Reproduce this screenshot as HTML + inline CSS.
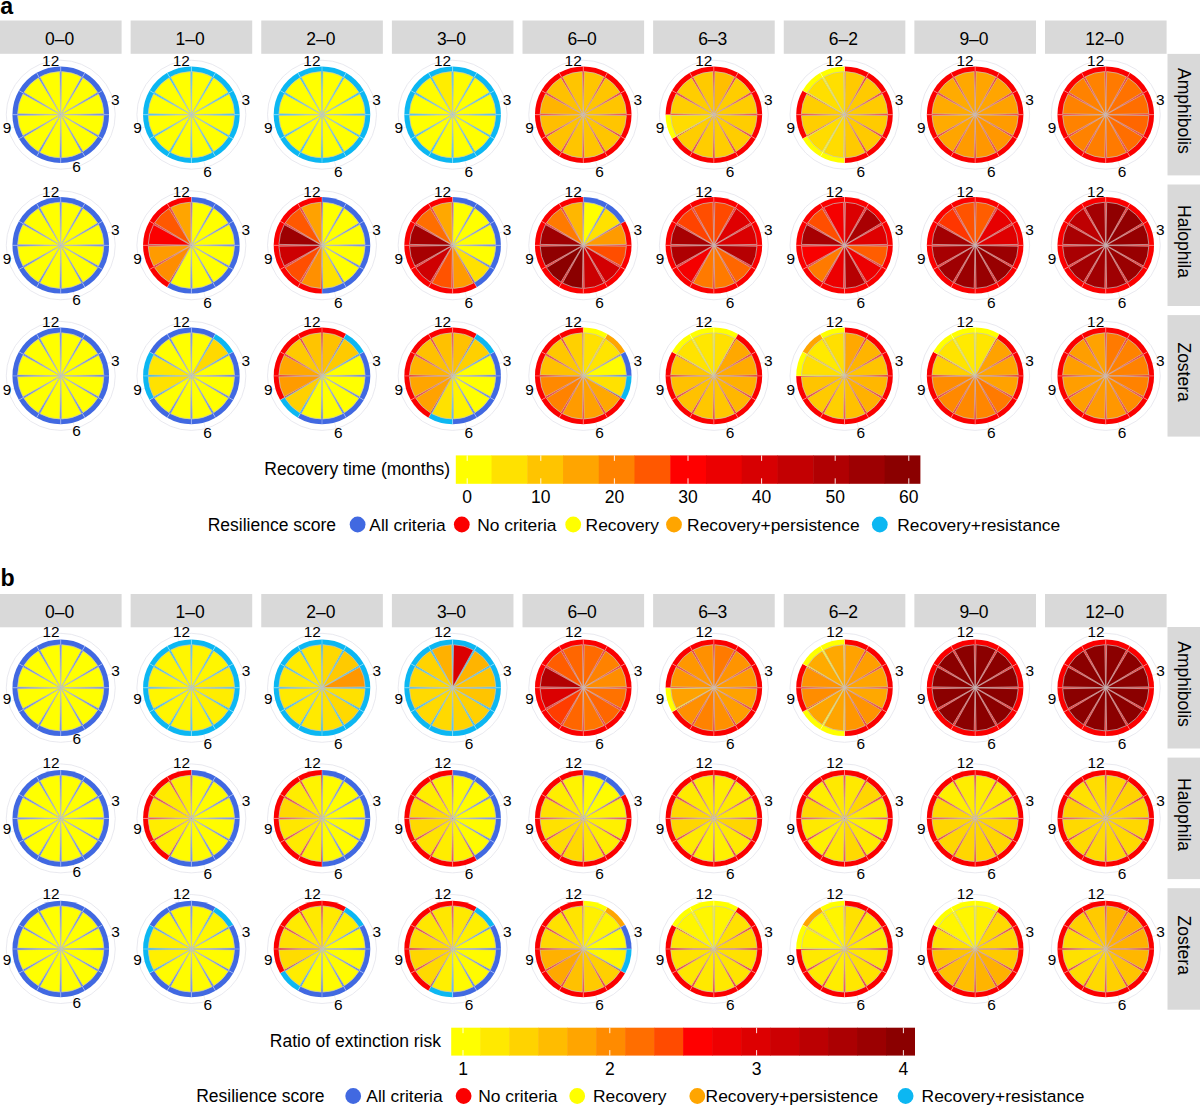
<!DOCTYPE html>
<html lang="en"><head><meta charset="utf-8"><title>Figure</title>
<style>html,body{margin:0;padding:0;background:#fff}svg{display:block}text{fill:#000;font-family:"Liberation Sans",Arial,Helvetica,sans-serif}</style></head><body>
<svg width="1200" height="1106" viewBox="0 0 1200 1106">
<rect width="1200" height="1106" fill="#fff"/>
<text x="0.2" y="13.6" font-size="23.2" font-weight="bold" >a</text>
<text x="0.6" y="585.8" font-size="23.2" font-weight="bold" >b</text>
<rect x="0.00" y="20.50" width="121.6" height="33.3" fill="#D9D9D9"/>
<text x="59.60" y="44.70" text-anchor="middle" font-size="17.5" >0–0</text>
<rect x="130.62" y="20.50" width="121.6" height="33.3" fill="#D9D9D9"/>
<text x="190.22" y="44.70" text-anchor="middle" font-size="17.5" >1–0</text>
<rect x="261.25" y="20.50" width="121.6" height="33.3" fill="#D9D9D9"/>
<text x="320.85" y="44.70" text-anchor="middle" font-size="17.5" >2–0</text>
<rect x="391.88" y="20.50" width="121.6" height="33.3" fill="#D9D9D9"/>
<text x="451.48" y="44.70" text-anchor="middle" font-size="17.5" >3–0</text>
<rect x="522.50" y="20.50" width="121.6" height="33.3" fill="#D9D9D9"/>
<text x="582.10" y="44.70" text-anchor="middle" font-size="17.5" >6–0</text>
<rect x="653.12" y="20.50" width="121.6" height="33.3" fill="#D9D9D9"/>
<text x="712.73" y="44.70" text-anchor="middle" font-size="17.5" >6–3</text>
<rect x="783.75" y="20.50" width="121.6" height="33.3" fill="#D9D9D9"/>
<text x="843.35" y="44.70" text-anchor="middle" font-size="17.5" >6–2</text>
<rect x="914.38" y="20.50" width="121.6" height="33.3" fill="#D9D9D9"/>
<text x="973.98" y="44.70" text-anchor="middle" font-size="17.5" >9–0</text>
<rect x="1045.00" y="20.50" width="121.6" height="33.3" fill="#D9D9D9"/>
<text x="1104.60" y="44.70" text-anchor="middle" font-size="17.5" >12–0</text>
<rect x="1167.5" y="53.90" width="32.5" height="121.5" fill="#D9D9D9"/>
<text transform="translate(1177.6 110.90) rotate(90)" text-anchor="middle" font-size="17.5" >Amphibolis</text>
<circle cx="60.75" cy="114.70" r="54.5" fill="none" stroke="#E2E2EA" stroke-width="0.75"/>
<path d="M107.40 102.20L113.39 100.59M73.25 161.35L74.86 167.34M14.10 127.20L8.11 128.81M48.25 68.05L46.64 62.06" stroke="#E6E6EC" stroke-width="0.7" fill="none"/>
<path d="M60.75 114.70L60.75 66.40A48.3 48.3 0 0 1 84.90 72.87Z" fill="#4169E1"/>
<path d="M60.75 114.70L84.90 72.87A48.3 48.3 0 0 1 102.58 90.55Z" fill="#4169E1"/>
<path d="M60.75 114.70L102.58 90.55A48.3 48.3 0 0 1 109.05 114.70Z" fill="#4169E1"/>
<path d="M60.75 114.70L109.05 114.70A48.3 48.3 0 0 1 102.58 138.85Z" fill="#4169E1"/>
<path d="M60.75 114.70L102.58 138.85A48.3 48.3 0 0 1 84.90 156.53Z" fill="#4169E1"/>
<path d="M60.75 114.70L84.90 156.53A48.3 48.3 0 0 1 60.75 163.00Z" fill="#4169E1"/>
<path d="M60.75 114.70L60.75 163.00A48.3 48.3 0 0 1 36.60 156.53Z" fill="#4169E1"/>
<path d="M60.75 114.70L36.60 156.53A48.3 48.3 0 0 1 18.92 138.85Z" fill="#4169E1"/>
<path d="M60.75 114.70L18.92 138.85A48.3 48.3 0 0 1 12.45 114.70Z" fill="#4169E1"/>
<path d="M60.75 114.70L12.45 114.70A48.3 48.3 0 0 1 18.92 90.55Z" fill="#4169E1"/>
<path d="M60.75 114.70L18.92 90.55A48.3 48.3 0 0 1 36.60 72.87Z" fill="#4169E1"/>
<path d="M60.75 114.70L36.60 72.87A48.3 48.3 0 0 1 60.75 66.40Z" fill="#4169E1"/>
<path d="M60.75 72.10L60.75 66.40M82.05 77.81L84.90 72.87M97.64 93.40L102.58 90.55M103.35 114.70L109.05 114.70M97.64 136.00L102.58 138.85M82.05 151.59L84.90 156.53M60.75 157.30L60.75 163.00M39.45 151.59L36.60 156.53M23.86 136.00L18.92 138.85M18.15 114.70L12.45 114.70M23.86 93.40L18.92 90.55M39.45 77.81L36.60 72.87" stroke="#FFFFFF" stroke-opacity="0.5" stroke-width="0.7" fill="none"/>
<path d="M60.91 114.12L61.65 71.61A43.1 43.1 0 0 1 81.51 76.93Z" fill="#FFFF00" stroke="#C4C4C4" stroke-width="0.7" stroke-linejoin="round"/>
<path d="M61.17 114.28L83.08 77.83A43.1 43.1 0 0 1 97.62 92.37Z" fill="#FFFF00" stroke="#C4C4C4" stroke-width="0.7" stroke-linejoin="round"/>
<path d="M61.33 114.54L98.52 93.94A43.1 43.1 0 0 1 103.84 113.80Z" fill="#FFFF00" stroke="#C4C4C4" stroke-width="0.7" stroke-linejoin="round"/>
<path d="M61.33 114.86L103.84 115.60A43.1 43.1 0 0 1 98.52 135.46Z" fill="#FFFF00" stroke="#C4C4C4" stroke-width="0.7" stroke-linejoin="round"/>
<path d="M61.17 115.12L97.62 137.03A43.1 43.1 0 0 1 83.08 151.57Z" fill="#FFFF00" stroke="#C4C4C4" stroke-width="0.7" stroke-linejoin="round"/>
<path d="M60.91 115.28L81.51 152.47A43.1 43.1 0 0 1 61.65 157.79Z" fill="#FFFF00" stroke="#C4C4C4" stroke-width="0.7" stroke-linejoin="round"/>
<path d="M60.59 115.28L59.85 157.79A43.1 43.1 0 0 1 39.99 152.47Z" fill="#FFFF00" stroke="#C4C4C4" stroke-width="0.7" stroke-linejoin="round"/>
<path d="M60.33 115.12L38.42 151.57A43.1 43.1 0 0 1 23.88 137.03Z" fill="#FFFF00" stroke="#C4C4C4" stroke-width="0.7" stroke-linejoin="round"/>
<path d="M60.17 114.86L22.98 135.46A43.1 43.1 0 0 1 17.66 115.60Z" fill="#FFFF00" stroke="#C4C4C4" stroke-width="0.7" stroke-linejoin="round"/>
<path d="M60.17 114.54L17.66 113.80A43.1 43.1 0 0 1 22.98 93.94Z" fill="#FFFF00" stroke="#C4C4C4" stroke-width="0.7" stroke-linejoin="round"/>
<path d="M60.33 114.28L23.88 92.37A43.1 43.1 0 0 1 38.42 77.83Z" fill="#FFFF00" stroke="#C4C4C4" stroke-width="0.7" stroke-linejoin="round"/>
<path d="M60.59 114.12L39.99 76.93A43.1 43.1 0 0 1 59.85 71.61Z" fill="#FFFF00" stroke="#C4C4C4" stroke-width="0.7" stroke-linejoin="round"/>
<text x="50.65" y="66.00" text-anchor="middle" font-size="15.4" >12</text>
<text x="115.25" y="104.50" text-anchor="middle" font-size="15.4" >3</text>
<text x="76.65" y="172.00" text-anchor="middle" font-size="15.4" >6</text>
<text x="6.95" y="133.40" text-anchor="middle" font-size="15.4" >9</text>
<circle cx="191.38" cy="114.70" r="54.5" fill="none" stroke="#E2E2EA" stroke-width="0.75"/>
<path d="M238.03 102.20L244.02 100.59M203.88 161.35L205.48 167.34M144.72 127.20L138.73 128.81M178.87 68.05L177.27 62.06" stroke="#E6E6EC" stroke-width="0.7" fill="none"/>
<path d="M191.38 114.70L191.38 66.40A48.3 48.3 0 0 1 215.53 72.87Z" fill="#0CB7F2"/>
<path d="M191.38 114.70L215.53 72.87A48.3 48.3 0 0 1 233.20 90.55Z" fill="#0CB7F2"/>
<path d="M191.38 114.70L233.20 90.55A48.3 48.3 0 0 1 239.68 114.70Z" fill="#0CB7F2"/>
<path d="M191.38 114.70L239.68 114.70A48.3 48.3 0 0 1 233.20 138.85Z" fill="#0CB7F2"/>
<path d="M191.38 114.70L233.20 138.85A48.3 48.3 0 0 1 215.53 156.53Z" fill="#0CB7F2"/>
<path d="M191.38 114.70L215.53 156.53A48.3 48.3 0 0 1 191.38 163.00Z" fill="#0CB7F2"/>
<path d="M191.38 114.70L191.38 163.00A48.3 48.3 0 0 1 167.22 156.53Z" fill="#0CB7F2"/>
<path d="M191.38 114.70L167.22 156.53A48.3 48.3 0 0 1 149.55 138.85Z" fill="#0CB7F2"/>
<path d="M191.38 114.70L149.55 138.85A48.3 48.3 0 0 1 143.07 114.70Z" fill="#0CB7F2"/>
<path d="M191.38 114.70L143.07 114.70A48.3 48.3 0 0 1 149.55 90.55Z" fill="#0CB7F2"/>
<path d="M191.38 114.70L149.55 90.55A48.3 48.3 0 0 1 167.22 72.87Z" fill="#0CB7F2"/>
<path d="M191.38 114.70L167.22 72.87A48.3 48.3 0 0 1 191.38 66.40Z" fill="#0CB7F2"/>
<path d="M191.38 72.10L191.38 66.40M212.68 77.81L215.53 72.87M228.27 93.40L233.20 90.55M233.97 114.70L239.68 114.70M228.27 136.00L233.20 138.85M212.68 151.59L215.53 156.53M191.38 157.30L191.38 163.00M170.07 151.59L167.22 156.53M154.48 136.00L149.55 138.85M148.78 114.70L143.07 114.70M154.48 93.40L149.55 90.55M170.07 77.81L167.22 72.87" stroke="#FFFFFF" stroke-opacity="0.5" stroke-width="0.7" fill="none"/>
<path d="M191.53 114.12L192.28 71.61A43.1 43.1 0 0 1 212.14 76.93Z" fill="#FFFF00" stroke="#C4C4C4" stroke-width="0.7" stroke-linejoin="round"/>
<path d="M191.80 114.28L213.70 77.83A43.1 43.1 0 0 1 228.24 92.37Z" fill="#FFFF00" stroke="#C4C4C4" stroke-width="0.7" stroke-linejoin="round"/>
<path d="M191.95 114.54L229.14 93.94A43.1 43.1 0 0 1 234.47 113.80Z" fill="#FFFF00" stroke="#C4C4C4" stroke-width="0.7" stroke-linejoin="round"/>
<path d="M191.95 114.86L234.47 115.60A43.1 43.1 0 0 1 229.14 135.46Z" fill="#FFFF00" stroke="#C4C4C4" stroke-width="0.7" stroke-linejoin="round"/>
<path d="M191.80 115.12L228.24 137.03A43.1 43.1 0 0 1 213.70 151.57Z" fill="#FFFF00" stroke="#C4C4C4" stroke-width="0.7" stroke-linejoin="round"/>
<path d="M191.53 115.28L212.14 152.47A43.1 43.1 0 0 1 192.28 157.79Z" fill="#FFFF00" stroke="#C4C4C4" stroke-width="0.7" stroke-linejoin="round"/>
<path d="M191.22 115.28L190.47 157.79A43.1 43.1 0 0 1 170.61 152.47Z" fill="#FFFF00" stroke="#C4C4C4" stroke-width="0.7" stroke-linejoin="round"/>
<path d="M190.95 115.12L169.05 151.57A43.1 43.1 0 0 1 154.51 137.03Z" fill="#FFFF00" stroke="#C4C4C4" stroke-width="0.7" stroke-linejoin="round"/>
<path d="M190.80 114.86L153.61 135.46A43.1 43.1 0 0 1 148.28 115.60Z" fill="#FFFF00" stroke="#C4C4C4" stroke-width="0.7" stroke-linejoin="round"/>
<path d="M190.80 114.54L148.28 113.80A43.1 43.1 0 0 1 153.61 93.94Z" fill="#FFFF00" stroke="#C4C4C4" stroke-width="0.7" stroke-linejoin="round"/>
<path d="M190.95 114.28L154.51 92.37A43.1 43.1 0 0 1 169.05 77.83Z" fill="#FFFF00" stroke="#C4C4C4" stroke-width="0.7" stroke-linejoin="round"/>
<path d="M191.22 114.12L170.61 76.93A43.1 43.1 0 0 1 190.47 71.61Z" fill="#FFFF00" stroke="#C4C4C4" stroke-width="0.7" stroke-linejoin="round"/>
<text x="181.28" y="66.00" text-anchor="middle" font-size="15.4" >12</text>
<text x="245.88" y="104.50" text-anchor="middle" font-size="15.4" >3</text>
<text x="207.57" y="177.00" text-anchor="middle" font-size="15.4" >6</text>
<text x="137.57" y="133.40" text-anchor="middle" font-size="15.4" >9</text>
<circle cx="322.00" cy="114.70" r="54.5" fill="none" stroke="#E2E2EA" stroke-width="0.75"/>
<path d="M368.65 102.20L374.64 100.59M334.50 161.35L336.11 167.34M275.35 127.20L269.36 128.81M309.50 68.05L307.89 62.06" stroke="#E6E6EC" stroke-width="0.7" fill="none"/>
<path d="M322.00 114.70L322.00 66.40A48.3 48.3 0 0 1 346.15 72.87Z" fill="#0CB7F2"/>
<path d="M322.00 114.70L346.15 72.87A48.3 48.3 0 0 1 363.83 90.55Z" fill="#0CB7F2"/>
<path d="M322.00 114.70L363.83 90.55A48.3 48.3 0 0 1 370.30 114.70Z" fill="#0CB7F2"/>
<path d="M322.00 114.70L370.30 114.70A48.3 48.3 0 0 1 363.83 138.85Z" fill="#0CB7F2"/>
<path d="M322.00 114.70L363.83 138.85A48.3 48.3 0 0 1 346.15 156.53Z" fill="#0CB7F2"/>
<path d="M322.00 114.70L346.15 156.53A48.3 48.3 0 0 1 322.00 163.00Z" fill="#0CB7F2"/>
<path d="M322.00 114.70L322.00 163.00A48.3 48.3 0 0 1 297.85 156.53Z" fill="#0CB7F2"/>
<path d="M322.00 114.70L297.85 156.53A48.3 48.3 0 0 1 280.17 138.85Z" fill="#0CB7F2"/>
<path d="M322.00 114.70L280.17 138.85A48.3 48.3 0 0 1 273.70 114.70Z" fill="#0CB7F2"/>
<path d="M322.00 114.70L273.70 114.70A48.3 48.3 0 0 1 280.17 90.55Z" fill="#0CB7F2"/>
<path d="M322.00 114.70L280.17 90.55A48.3 48.3 0 0 1 297.85 72.87Z" fill="#0CB7F2"/>
<path d="M322.00 114.70L297.85 72.87A48.3 48.3 0 0 1 322.00 66.40Z" fill="#0CB7F2"/>
<path d="M322.00 72.10L322.00 66.40M343.30 77.81L346.15 72.87M358.89 93.40L363.83 90.55M364.60 114.70L370.30 114.70M358.89 136.00L363.83 138.85M343.30 151.59L346.15 156.53M322.00 157.30L322.00 163.00M300.70 151.59L297.85 156.53M285.11 136.00L280.17 138.85M279.40 114.70L273.70 114.70M285.11 93.40L280.17 90.55M300.70 77.81L297.85 72.87" stroke="#FFFFFF" stroke-opacity="0.5" stroke-width="0.7" fill="none"/>
<path d="M322.16 114.12L322.90 71.61A43.1 43.1 0 0 1 342.76 76.93Z" fill="#FFFF00" stroke="#C4C4C4" stroke-width="0.7" stroke-linejoin="round"/>
<path d="M322.42 114.28L344.33 77.83A43.1 43.1 0 0 1 358.87 92.37Z" fill="#FFFF00" stroke="#C4C4C4" stroke-width="0.7" stroke-linejoin="round"/>
<path d="M322.58 114.54L359.77 93.94A43.1 43.1 0 0 1 365.09 113.80Z" fill="#FFFF00" stroke="#C4C4C4" stroke-width="0.7" stroke-linejoin="round"/>
<path d="M322.58 114.86L365.09 115.60A43.1 43.1 0 0 1 359.77 135.46Z" fill="#FFFF00" stroke="#C4C4C4" stroke-width="0.7" stroke-linejoin="round"/>
<path d="M322.42 115.12L358.87 137.03A43.1 43.1 0 0 1 344.33 151.57Z" fill="#FFFF00" stroke="#C4C4C4" stroke-width="0.7" stroke-linejoin="round"/>
<path d="M322.16 115.28L342.76 152.47A43.1 43.1 0 0 1 322.90 157.79Z" fill="#FFFF00" stroke="#C4C4C4" stroke-width="0.7" stroke-linejoin="round"/>
<path d="M321.84 115.28L321.10 157.79A43.1 43.1 0 0 1 301.24 152.47Z" fill="#FFFF00" stroke="#C4C4C4" stroke-width="0.7" stroke-linejoin="round"/>
<path d="M321.58 115.12L299.67 151.57A43.1 43.1 0 0 1 285.13 137.03Z" fill="#FFFF00" stroke="#C4C4C4" stroke-width="0.7" stroke-linejoin="round"/>
<path d="M321.42 114.86L284.23 135.46A43.1 43.1 0 0 1 278.91 115.60Z" fill="#FFFF00" stroke="#C4C4C4" stroke-width="0.7" stroke-linejoin="round"/>
<path d="M321.42 114.54L278.91 113.80A43.1 43.1 0 0 1 284.23 93.94Z" fill="#FFFF00" stroke="#C4C4C4" stroke-width="0.7" stroke-linejoin="round"/>
<path d="M321.58 114.28L285.13 92.37A43.1 43.1 0 0 1 299.67 77.83Z" fill="#FFFF00" stroke="#C4C4C4" stroke-width="0.7" stroke-linejoin="round"/>
<path d="M321.84 114.12L301.24 76.93A43.1 43.1 0 0 1 321.10 71.61Z" fill="#FFFF00" stroke="#C4C4C4" stroke-width="0.7" stroke-linejoin="round"/>
<text x="311.90" y="66.00" text-anchor="middle" font-size="15.4" >12</text>
<text x="376.50" y="104.50" text-anchor="middle" font-size="15.4" >3</text>
<text x="338.20" y="177.00" text-anchor="middle" font-size="15.4" >6</text>
<text x="268.20" y="133.40" text-anchor="middle" font-size="15.4" >9</text>
<circle cx="452.62" cy="114.70" r="54.5" fill="none" stroke="#E2E2EA" stroke-width="0.75"/>
<path d="M499.28 102.20L505.27 100.59M465.13 161.35L466.73 167.34M405.97 127.20L399.98 128.81M440.12 68.05L438.52 62.06" stroke="#E6E6EC" stroke-width="0.7" fill="none"/>
<path d="M452.62 114.70L452.62 66.40A48.3 48.3 0 0 1 476.77 72.87Z" fill="#0CB7F2"/>
<path d="M452.62 114.70L476.77 72.87A48.3 48.3 0 0 1 494.45 90.55Z" fill="#0CB7F2"/>
<path d="M452.62 114.70L494.45 90.55A48.3 48.3 0 0 1 500.93 114.70Z" fill="#0CB7F2"/>
<path d="M452.62 114.70L500.93 114.70A48.3 48.3 0 0 1 494.45 138.85Z" fill="#0CB7F2"/>
<path d="M452.62 114.70L494.45 138.85A48.3 48.3 0 0 1 476.77 156.53Z" fill="#0CB7F2"/>
<path d="M452.62 114.70L476.77 156.53A48.3 48.3 0 0 1 452.62 163.00Z" fill="#0CB7F2"/>
<path d="M452.62 114.70L452.62 163.00A48.3 48.3 0 0 1 428.48 156.53Z" fill="#0CB7F2"/>
<path d="M452.62 114.70L428.48 156.53A48.3 48.3 0 0 1 410.80 138.85Z" fill="#0CB7F2"/>
<path d="M452.62 114.70L410.80 138.85A48.3 48.3 0 0 1 404.32 114.70Z" fill="#0CB7F2"/>
<path d="M452.62 114.70L404.32 114.70A48.3 48.3 0 0 1 410.80 90.55Z" fill="#0CB7F2"/>
<path d="M452.62 114.70L410.80 90.55A48.3 48.3 0 0 1 428.47 72.87Z" fill="#0CB7F2"/>
<path d="M452.62 114.70L428.47 72.87A48.3 48.3 0 0 1 452.62 66.40Z" fill="#0CB7F2"/>
<path d="M452.62 72.10L452.62 66.40M473.93 77.81L476.77 72.87M489.52 93.40L494.45 90.55M495.23 114.70L500.93 114.70M489.52 136.00L494.45 138.85M473.93 151.59L476.77 156.53M452.62 157.30L452.62 163.00M431.32 151.59L428.48 156.53M415.73 136.00L410.80 138.85M410.02 114.70L404.32 114.70M415.73 93.40L410.80 90.55M431.32 77.81L428.47 72.87" stroke="#FFFFFF" stroke-opacity="0.5" stroke-width="0.7" fill="none"/>
<path d="M452.78 114.12L453.53 71.61A43.1 43.1 0 0 1 473.39 76.93Z" fill="#FFFC00" stroke="#C4C4C4" stroke-width="0.7" stroke-linejoin="round"/>
<path d="M453.05 114.28L474.95 77.83A43.1 43.1 0 0 1 489.49 92.37Z" fill="#FFFF00" stroke="#C4C4C4" stroke-width="0.7" stroke-linejoin="round"/>
<path d="M453.20 114.54L490.39 93.94A43.1 43.1 0 0 1 495.72 113.80Z" fill="#FFFF00" stroke="#C4C4C4" stroke-width="0.7" stroke-linejoin="round"/>
<path d="M453.20 114.86L495.72 115.60A43.1 43.1 0 0 1 490.39 135.46Z" fill="#FFFF00" stroke="#C4C4C4" stroke-width="0.7" stroke-linejoin="round"/>
<path d="M453.05 115.12L489.49 137.03A43.1 43.1 0 0 1 474.95 151.57Z" fill="#FFFF00" stroke="#C4C4C4" stroke-width="0.7" stroke-linejoin="round"/>
<path d="M452.78 115.28L473.39 152.47A43.1 43.1 0 0 1 453.53 157.79Z" fill="#FFFF00" stroke="#C4C4C4" stroke-width="0.7" stroke-linejoin="round"/>
<path d="M452.47 115.28L451.72 157.79A43.1 43.1 0 0 1 431.86 152.47Z" fill="#FFFF00" stroke="#C4C4C4" stroke-width="0.7" stroke-linejoin="round"/>
<path d="M452.20 115.12L430.30 151.57A43.1 43.1 0 0 1 415.76 137.03Z" fill="#FFFF00" stroke="#C4C4C4" stroke-width="0.7" stroke-linejoin="round"/>
<path d="M452.05 114.86L414.86 135.46A43.1 43.1 0 0 1 409.53 115.60Z" fill="#FFFF00" stroke="#C4C4C4" stroke-width="0.7" stroke-linejoin="round"/>
<path d="M452.05 114.54L409.53 113.80A43.1 43.1 0 0 1 414.86 93.94Z" fill="#FFFF00" stroke="#C4C4C4" stroke-width="0.7" stroke-linejoin="round"/>
<path d="M452.20 114.28L415.76 92.37A43.1 43.1 0 0 1 430.30 77.83Z" fill="#FFFC00" stroke="#C4C4C4" stroke-width="0.7" stroke-linejoin="round"/>
<path d="M452.47 114.12L431.86 76.93A43.1 43.1 0 0 1 451.72 71.61Z" fill="#FFED00" stroke="#C4C4C4" stroke-width="0.7" stroke-linejoin="round"/>
<text x="442.52" y="66.00" text-anchor="middle" font-size="15.4" >12</text>
<text x="507.12" y="104.50" text-anchor="middle" font-size="15.4" >3</text>
<text x="468.82" y="177.00" text-anchor="middle" font-size="15.4" >6</text>
<text x="398.82" y="133.40" text-anchor="middle" font-size="15.4" >9</text>
<circle cx="583.25" cy="114.70" r="54.5" fill="none" stroke="#E2E2EA" stroke-width="0.75"/>
<path d="M629.90 102.20L635.89 100.59M595.75 161.35L597.36 167.34M536.60 127.20L530.61 128.81M570.75 68.05L569.14 62.06" stroke="#E6E6EC" stroke-width="0.7" fill="none"/>
<path d="M583.25 114.70L583.25 66.40A48.3 48.3 0 0 1 607.40 72.87Z" fill="#FB0000"/>
<path d="M583.25 114.70L607.40 72.87A48.3 48.3 0 0 1 625.08 90.55Z" fill="#FB0000"/>
<path d="M583.25 114.70L625.08 90.55A48.3 48.3 0 0 1 631.55 114.70Z" fill="#FB0000"/>
<path d="M583.25 114.70L631.55 114.70A48.3 48.3 0 0 1 625.08 138.85Z" fill="#FB0000"/>
<path d="M583.25 114.70L625.08 138.85A48.3 48.3 0 0 1 607.40 156.53Z" fill="#FB0000"/>
<path d="M583.25 114.70L607.40 156.53A48.3 48.3 0 0 1 583.25 163.00Z" fill="#FB0000"/>
<path d="M583.25 114.70L583.25 163.00A48.3 48.3 0 0 1 559.10 156.53Z" fill="#FB0000"/>
<path d="M583.25 114.70L559.10 156.53A48.3 48.3 0 0 1 541.42 138.85Z" fill="#FB0000"/>
<path d="M583.25 114.70L541.42 138.85A48.3 48.3 0 0 1 534.95 114.70Z" fill="#FB0000"/>
<path d="M583.25 114.70L534.95 114.70A48.3 48.3 0 0 1 541.42 90.55Z" fill="#FB0000"/>
<path d="M583.25 114.70L541.42 90.55A48.3 48.3 0 0 1 559.10 72.87Z" fill="#FB0000"/>
<path d="M583.25 114.70L559.10 72.87A48.3 48.3 0 0 1 583.25 66.40Z" fill="#FB0000"/>
<path d="M583.25 72.10L583.25 66.40M604.55 77.81L607.40 72.87M620.14 93.40L625.08 90.55M625.85 114.70L631.55 114.70M620.14 136.00L625.08 138.85M604.55 151.59L607.40 156.53M583.25 157.30L583.25 163.00M561.95 151.59L559.10 156.53M546.36 136.00L541.42 138.85M540.65 114.70L534.95 114.70M546.36 93.40L541.42 90.55M561.95 77.81L559.10 72.87" stroke="#FFFFFF" stroke-opacity="0.5" stroke-width="0.7" fill="none"/>
<path d="M583.41 114.12L584.15 71.61A43.1 43.1 0 0 1 604.01 76.93Z" fill="#FFC500" stroke="#C4C4C4" stroke-width="0.7" stroke-linejoin="round"/>
<path d="M583.67 114.28L605.58 77.83A43.1 43.1 0 0 1 620.12 92.37Z" fill="#FFC500" stroke="#C4C4C4" stroke-width="0.7" stroke-linejoin="round"/>
<path d="M583.83 114.54L621.02 93.94A43.1 43.1 0 0 1 626.34 113.80Z" fill="#FFC500" stroke="#C4C4C4" stroke-width="0.7" stroke-linejoin="round"/>
<path d="M583.83 114.86L626.34 115.60A43.1 43.1 0 0 1 621.02 135.46Z" fill="#FFC500" stroke="#C4C4C4" stroke-width="0.7" stroke-linejoin="round"/>
<path d="M583.67 115.12L620.12 137.03A43.1 43.1 0 0 1 605.58 151.57Z" fill="#FFC500" stroke="#C4C4C4" stroke-width="0.7" stroke-linejoin="round"/>
<path d="M583.41 115.28L604.01 152.47A43.1 43.1 0 0 1 584.15 157.79Z" fill="#FFC500" stroke="#C4C4C4" stroke-width="0.7" stroke-linejoin="round"/>
<path d="M583.09 115.28L582.35 157.79A43.1 43.1 0 0 1 562.49 152.47Z" fill="#FFC500" stroke="#C4C4C4" stroke-width="0.7" stroke-linejoin="round"/>
<path d="M582.83 115.12L560.92 151.57A43.1 43.1 0 0 1 546.38 137.03Z" fill="#FFC200" stroke="#C4C4C4" stroke-width="0.7" stroke-linejoin="round"/>
<path d="M582.67 114.86L545.48 135.46A43.1 43.1 0 0 1 540.16 115.60Z" fill="#FFBE00" stroke="#C4C4C4" stroke-width="0.7" stroke-linejoin="round"/>
<path d="M582.67 114.54L540.16 113.80A43.1 43.1 0 0 1 545.48 93.94Z" fill="#FFB400" stroke="#C4C4C4" stroke-width="0.7" stroke-linejoin="round"/>
<path d="M582.83 114.28L546.38 92.37A43.1 43.1 0 0 1 560.92 77.83Z" fill="#FFC100" stroke="#C4C4C4" stroke-width="0.7" stroke-linejoin="round"/>
<path d="M583.09 114.12L562.49 76.93A43.1 43.1 0 0 1 582.35 71.61Z" fill="#FFC500" stroke="#C4C4C4" stroke-width="0.7" stroke-linejoin="round"/>
<text x="573.15" y="66.00" text-anchor="middle" font-size="15.4" >12</text>
<text x="637.75" y="104.50" text-anchor="middle" font-size="15.4" >3</text>
<text x="599.45" y="177.00" text-anchor="middle" font-size="15.4" >6</text>
<text x="529.45" y="133.40" text-anchor="middle" font-size="15.4" >9</text>
<circle cx="713.88" cy="114.70" r="54.5" fill="none" stroke="#E2E2EA" stroke-width="0.75"/>
<path d="M760.53 102.20L766.52 100.59M726.38 161.35L727.98 167.34M667.22 127.20L661.23 128.81M701.37 68.05L699.77 62.06" stroke="#E6E6EC" stroke-width="0.7" fill="none"/>
<path d="M713.88 114.70L713.88 66.40A48.3 48.3 0 0 1 738.02 72.87Z" fill="#FB0000"/>
<path d="M713.88 114.70L738.02 72.87A48.3 48.3 0 0 1 755.70 90.55Z" fill="#FB0000"/>
<path d="M713.88 114.70L755.70 90.55A48.3 48.3 0 0 1 762.17 114.70Z" fill="#FB0000"/>
<path d="M713.88 114.70L762.17 114.70A48.3 48.3 0 0 1 755.70 138.85Z" fill="#FB0000"/>
<path d="M713.88 114.70L755.70 138.85A48.3 48.3 0 0 1 738.02 156.53Z" fill="#FB0000"/>
<path d="M713.88 114.70L738.02 156.53A48.3 48.3 0 0 1 713.88 163.00Z" fill="#FB0000"/>
<path d="M713.88 114.70L713.88 163.00A48.3 48.3 0 0 1 689.73 156.53Z" fill="#FB0000"/>
<path d="M713.88 114.70L689.73 156.53A48.3 48.3 0 0 1 672.05 138.85Z" fill="#FB0000"/>
<path d="M713.88 114.70L672.05 138.85A48.3 48.3 0 0 1 665.58 114.70Z" fill="#FFFF00"/>
<path d="M713.88 114.70L665.58 114.70A48.3 48.3 0 0 1 672.05 90.55Z" fill="#FB0000"/>
<path d="M713.88 114.70L672.05 90.55A48.3 48.3 0 0 1 689.73 72.87Z" fill="#FB0000"/>
<path d="M713.88 114.70L689.73 72.87A48.3 48.3 0 0 1 713.88 66.40Z" fill="#FB0000"/>
<path d="M713.88 72.10L713.88 66.40M735.17 77.81L738.02 72.87M750.77 93.40L755.70 90.55M756.48 114.70L762.17 114.70M750.77 136.00L755.70 138.85M735.17 151.59L738.02 156.53M713.88 157.30L713.88 163.00M692.58 151.59L689.73 156.53M676.98 136.00L672.05 138.85M671.27 114.70L665.58 114.70M676.98 93.40L672.05 90.55M692.57 77.81L689.73 72.87" stroke="#FFFFFF" stroke-opacity="0.5" stroke-width="0.7" fill="none"/>
<path d="M714.03 114.12L714.78 71.61A43.1 43.1 0 0 1 734.64 76.93Z" fill="#FFBE00" stroke="#C4C4C4" stroke-width="0.7" stroke-linejoin="round"/>
<path d="M714.30 114.28L736.20 77.83A43.1 43.1 0 0 1 750.74 92.37Z" fill="#FFCD00" stroke="#C4C4C4" stroke-width="0.7" stroke-linejoin="round"/>
<path d="M714.45 114.54L751.64 93.94A43.1 43.1 0 0 1 756.97 113.80Z" fill="#FFCD00" stroke="#C4C4C4" stroke-width="0.7" stroke-linejoin="round"/>
<path d="M714.45 114.86L756.97 115.60A43.1 43.1 0 0 1 751.64 135.46Z" fill="#FFCD00" stroke="#C4C4C4" stroke-width="0.7" stroke-linejoin="round"/>
<path d="M714.30 115.12L750.74 137.03A43.1 43.1 0 0 1 736.20 151.57Z" fill="#FFCD00" stroke="#C4C4C4" stroke-width="0.7" stroke-linejoin="round"/>
<path d="M714.03 115.28L734.64 152.47A43.1 43.1 0 0 1 714.78 157.79Z" fill="#FFCD00" stroke="#C4C4C4" stroke-width="0.7" stroke-linejoin="round"/>
<path d="M713.72 115.28L712.97 157.79A43.1 43.1 0 0 1 693.11 152.47Z" fill="#FFCD00" stroke="#C4C4C4" stroke-width="0.7" stroke-linejoin="round"/>
<path d="M713.45 115.12L691.55 151.57A43.1 43.1 0 0 1 677.01 137.03Z" fill="#FFCD00" stroke="#C4C4C4" stroke-width="0.7" stroke-linejoin="round"/>
<path d="M713.30 114.86L676.11 135.46A43.1 43.1 0 0 1 670.78 115.60Z" fill="#FFDC00" stroke="#C4C4C4" stroke-width="0.7" stroke-linejoin="round"/>
<path d="M713.30 114.54L670.78 113.80A43.1 43.1 0 0 1 676.11 93.94Z" fill="#FFCE00" stroke="#C4C4C4" stroke-width="0.7" stroke-linejoin="round"/>
<path d="M713.45 114.28L677.01 92.37A43.1 43.1 0 0 1 691.55 77.83Z" fill="#FFCD00" stroke="#C4C4C4" stroke-width="0.7" stroke-linejoin="round"/>
<path d="M713.72 114.12L693.11 76.93A43.1 43.1 0 0 1 712.97 71.61Z" fill="#FFCA00" stroke="#C4C4C4" stroke-width="0.7" stroke-linejoin="round"/>
<text x="703.77" y="66.00" text-anchor="middle" font-size="15.4" >12</text>
<text x="768.38" y="104.50" text-anchor="middle" font-size="15.4" >3</text>
<text x="730.08" y="177.00" text-anchor="middle" font-size="15.4" >6</text>
<text x="660.08" y="133.40" text-anchor="middle" font-size="15.4" >9</text>
<circle cx="844.50" cy="114.70" r="54.5" fill="none" stroke="#E2E2EA" stroke-width="0.75"/>
<path d="M891.15 102.20L897.14 100.59M857.00 161.35L858.61 167.34M797.85 127.20L791.86 128.81M832.00 68.05L830.39 62.06" stroke="#E6E6EC" stroke-width="0.7" fill="none"/>
<path d="M844.50 114.70L844.50 66.40A48.3 48.3 0 0 1 868.65 72.87Z" fill="#FB0000"/>
<path d="M844.50 114.70L868.65 72.87A48.3 48.3 0 0 1 886.33 90.55Z" fill="#FB0000"/>
<path d="M844.50 114.70L886.33 90.55A48.3 48.3 0 0 1 892.80 114.70Z" fill="#FB0000"/>
<path d="M844.50 114.70L892.80 114.70A48.3 48.3 0 0 1 886.33 138.85Z" fill="#FB0000"/>
<path d="M844.50 114.70L886.33 138.85A48.3 48.3 0 0 1 868.65 156.53Z" fill="#FB0000"/>
<path d="M844.50 114.70L868.65 156.53A48.3 48.3 0 0 1 844.50 163.00Z" fill="#FB0000"/>
<path d="M844.50 114.70L844.50 163.00A48.3 48.3 0 0 1 820.35 156.53Z" fill="#FFFF00"/>
<path d="M844.50 114.70L820.35 156.53A48.3 48.3 0 0 1 802.67 138.85Z" fill="#FFFF00"/>
<path d="M844.50 114.70L802.67 138.85A48.3 48.3 0 0 1 796.20 114.70Z" fill="#FB0000"/>
<path d="M844.50 114.70L796.20 114.70A48.3 48.3 0 0 1 802.67 90.55Z" fill="#FB0000"/>
<path d="M844.50 114.70L802.67 90.55A48.3 48.3 0 0 1 820.35 72.87Z" fill="#FFFF00"/>
<path d="M844.50 114.70L820.35 72.87A48.3 48.3 0 0 1 844.50 66.40Z" fill="#FFFF00"/>
<path d="M844.50 72.10L844.50 66.40M865.80 77.81L868.65 72.87M881.39 93.40L886.33 90.55M887.10 114.70L892.80 114.70M881.39 136.00L886.33 138.85M865.80 151.59L868.65 156.53M844.50 157.30L844.50 163.00M823.20 151.59L820.35 156.53M807.61 136.00L802.67 138.85M801.90 114.70L796.20 114.70M807.61 93.40L802.67 90.55M823.20 77.81L820.35 72.87" stroke="#FFFFFF" stroke-opacity="0.5" stroke-width="0.7" fill="none"/>
<path d="M844.66 114.12L845.40 71.61A43.1 43.1 0 0 1 865.26 76.93Z" fill="#FFCA00" stroke="#C4C4C4" stroke-width="0.7" stroke-linejoin="round"/>
<path d="M844.92 114.28L866.83 77.83A43.1 43.1 0 0 1 881.37 92.37Z" fill="#FFCA00" stroke="#C4C4C4" stroke-width="0.7" stroke-linejoin="round"/>
<path d="M845.08 114.54L882.27 93.94A43.1 43.1 0 0 1 887.59 113.80Z" fill="#FFCB00" stroke="#C4C4C4" stroke-width="0.7" stroke-linejoin="round"/>
<path d="M845.08 114.86L887.59 115.60A43.1 43.1 0 0 1 882.27 135.46Z" fill="#FFCB00" stroke="#C4C4C4" stroke-width="0.7" stroke-linejoin="round"/>
<path d="M844.92 115.12L881.37 137.03A43.1 43.1 0 0 1 866.83 151.57Z" fill="#FFCA00" stroke="#C4C4C4" stroke-width="0.7" stroke-linejoin="round"/>
<path d="M844.66 115.28L865.26 152.47A43.1 43.1 0 0 1 845.40 157.79Z" fill="#FFCA00" stroke="#C4C4C4" stroke-width="0.7" stroke-linejoin="round"/>
<path d="M844.34 115.28L843.60 157.79A43.1 43.1 0 0 1 823.74 152.47Z" fill="#FFDC00" stroke="#C4C4C4" stroke-width="0.7" stroke-linejoin="round"/>
<path d="M844.08 115.12L822.17 151.57A43.1 43.1 0 0 1 807.63 137.03Z" fill="#FFDC00" stroke="#C4C4C4" stroke-width="0.7" stroke-linejoin="round"/>
<path d="M843.92 114.86L806.73 135.46A43.1 43.1 0 0 1 801.41 115.60Z" fill="#FFCE00" stroke="#C4C4C4" stroke-width="0.7" stroke-linejoin="round"/>
<path d="M843.92 114.54L801.41 113.80A43.1 43.1 0 0 1 806.73 93.94Z" fill="#FFCE00" stroke="#C4C4C4" stroke-width="0.7" stroke-linejoin="round"/>
<path d="M844.08 114.28L807.63 92.37A43.1 43.1 0 0 1 822.17 77.83Z" fill="#FFDF00" stroke="#C4C4C4" stroke-width="0.7" stroke-linejoin="round"/>
<path d="M844.34 114.12L823.74 76.93A43.1 43.1 0 0 1 843.60 71.61Z" fill="#FFDF00" stroke="#C4C4C4" stroke-width="0.7" stroke-linejoin="round"/>
<text x="834.40" y="66.00" text-anchor="middle" font-size="15.4" >12</text>
<text x="899.00" y="104.50" text-anchor="middle" font-size="15.4" >3</text>
<text x="860.70" y="177.00" text-anchor="middle" font-size="15.4" >6</text>
<text x="790.70" y="133.40" text-anchor="middle" font-size="15.4" >9</text>
<circle cx="975.12" cy="114.70" r="54.5" fill="none" stroke="#E2E2EA" stroke-width="0.75"/>
<path d="M1021.78 102.20L1027.77 100.59M987.63 161.35L989.23 167.34M928.47 127.20L922.48 128.81M962.62 68.05L961.02 62.06" stroke="#E6E6EC" stroke-width="0.7" fill="none"/>
<path d="M975.12 114.70L975.12 66.40A48.3 48.3 0 0 1 999.27 72.87Z" fill="#FB0000"/>
<path d="M975.12 114.70L999.27 72.87A48.3 48.3 0 0 1 1016.95 90.55Z" fill="#FB0000"/>
<path d="M975.12 114.70L1016.95 90.55A48.3 48.3 0 0 1 1023.42 114.70Z" fill="#FB0000"/>
<path d="M975.12 114.70L1023.42 114.70A48.3 48.3 0 0 1 1016.95 138.85Z" fill="#FB0000"/>
<path d="M975.12 114.70L1016.95 138.85A48.3 48.3 0 0 1 999.27 156.53Z" fill="#FB0000"/>
<path d="M975.12 114.70L999.27 156.53A48.3 48.3 0 0 1 975.12 163.00Z" fill="#FB0000"/>
<path d="M975.12 114.70L975.12 163.00A48.3 48.3 0 0 1 950.98 156.53Z" fill="#FB0000"/>
<path d="M975.12 114.70L950.98 156.53A48.3 48.3 0 0 1 933.30 138.85Z" fill="#FB0000"/>
<path d="M975.12 114.70L933.30 138.85A48.3 48.3 0 0 1 926.83 114.70Z" fill="#FB0000"/>
<path d="M975.12 114.70L926.83 114.70A48.3 48.3 0 0 1 933.30 90.55Z" fill="#FB0000"/>
<path d="M975.12 114.70L933.30 90.55A48.3 48.3 0 0 1 950.98 72.87Z" fill="#FB0000"/>
<path d="M975.12 114.70L950.98 72.87A48.3 48.3 0 0 1 975.12 66.40Z" fill="#FB0000"/>
<path d="M975.12 72.10L975.12 66.40M996.42 77.81L999.27 72.87M1012.02 93.40L1016.95 90.55M1017.73 114.70L1023.42 114.70M1012.02 136.00L1016.95 138.85M996.42 151.59L999.27 156.53M975.12 157.30L975.12 163.00M953.83 151.59L950.98 156.53M938.23 136.00L933.30 138.85M932.52 114.70L926.83 114.70M938.23 93.40L933.30 90.55M953.82 77.81L950.98 72.87" stroke="#FFFFFF" stroke-opacity="0.5" stroke-width="0.7" fill="none"/>
<path d="M975.28 114.12L976.03 71.61A43.1 43.1 0 0 1 995.89 76.93Z" fill="#FFA500" stroke="#C4C4C4" stroke-width="0.7" stroke-linejoin="round"/>
<path d="M975.55 114.28L997.45 77.83A43.1 43.1 0 0 1 1011.99 92.37Z" fill="#FFA500" stroke="#C4C4C4" stroke-width="0.7" stroke-linejoin="round"/>
<path d="M975.70 114.54L1012.89 93.94A43.1 43.1 0 0 1 1018.22 113.80Z" fill="#FFA200" stroke="#C4C4C4" stroke-width="0.7" stroke-linejoin="round"/>
<path d="M975.70 114.86L1018.22 115.60A43.1 43.1 0 0 1 1012.89 135.46Z" fill="#FF9B00" stroke="#C4C4C4" stroke-width="0.7" stroke-linejoin="round"/>
<path d="M975.55 115.12L1011.99 137.03A43.1 43.1 0 0 1 997.45 151.57Z" fill="#FF9700" stroke="#C4C4C4" stroke-width="0.7" stroke-linejoin="round"/>
<path d="M975.28 115.28L995.89 152.47A43.1 43.1 0 0 1 976.03 157.79Z" fill="#FF9700" stroke="#C4C4C4" stroke-width="0.7" stroke-linejoin="round"/>
<path d="M974.97 115.28L974.22 157.79A43.1 43.1 0 0 1 954.36 152.47Z" fill="#FF9B00" stroke="#C4C4C4" stroke-width="0.7" stroke-linejoin="round"/>
<path d="M974.70 115.12L952.80 151.57A43.1 43.1 0 0 1 938.26 137.03Z" fill="#FFA500" stroke="#C4C4C4" stroke-width="0.7" stroke-linejoin="round"/>
<path d="M974.55 114.86L937.36 135.46A43.1 43.1 0 0 1 932.03 115.60Z" fill="#FFAB00" stroke="#C4C4C4" stroke-width="0.7" stroke-linejoin="round"/>
<path d="M974.55 114.54L932.03 113.80A43.1 43.1 0 0 1 937.36 93.94Z" fill="#FFAB00" stroke="#C4C4C4" stroke-width="0.7" stroke-linejoin="round"/>
<path d="M974.70 114.28L938.26 92.37A43.1 43.1 0 0 1 952.80 77.83Z" fill="#FFAB00" stroke="#C4C4C4" stroke-width="0.7" stroke-linejoin="round"/>
<path d="M974.97 114.12L954.36 76.93A43.1 43.1 0 0 1 974.22 71.61Z" fill="#FFA800" stroke="#C4C4C4" stroke-width="0.7" stroke-linejoin="round"/>
<text x="965.02" y="66.00" text-anchor="middle" font-size="15.4" >12</text>
<text x="1029.62" y="104.50" text-anchor="middle" font-size="15.4" >3</text>
<text x="991.33" y="177.00" text-anchor="middle" font-size="15.4" >6</text>
<text x="921.33" y="133.40" text-anchor="middle" font-size="15.4" >9</text>
<circle cx="1105.75" cy="114.70" r="54.5" fill="none" stroke="#E2E2EA" stroke-width="0.75"/>
<path d="M1152.40 102.20L1158.39 100.59M1118.25 161.35L1119.86 167.34M1059.10 127.20L1053.11 128.81M1093.25 68.05L1091.64 62.06" stroke="#E6E6EC" stroke-width="0.7" fill="none"/>
<path d="M1105.75 114.70L1105.75 66.40A48.3 48.3 0 0 1 1129.90 72.87Z" fill="#FB0000"/>
<path d="M1105.75 114.70L1129.90 72.87A48.3 48.3 0 0 1 1147.58 90.55Z" fill="#FB0000"/>
<path d="M1105.75 114.70L1147.58 90.55A48.3 48.3 0 0 1 1154.05 114.70Z" fill="#FB0000"/>
<path d="M1105.75 114.70L1154.05 114.70A48.3 48.3 0 0 1 1147.58 138.85Z" fill="#FB0000"/>
<path d="M1105.75 114.70L1147.58 138.85A48.3 48.3 0 0 1 1129.90 156.53Z" fill="#FB0000"/>
<path d="M1105.75 114.70L1129.90 156.53A48.3 48.3 0 0 1 1105.75 163.00Z" fill="#FB0000"/>
<path d="M1105.75 114.70L1105.75 163.00A48.3 48.3 0 0 1 1081.60 156.53Z" fill="#FB0000"/>
<path d="M1105.75 114.70L1081.60 156.53A48.3 48.3 0 0 1 1063.92 138.85Z" fill="#FB0000"/>
<path d="M1105.75 114.70L1063.92 138.85A48.3 48.3 0 0 1 1057.45 114.70Z" fill="#FB0000"/>
<path d="M1105.75 114.70L1057.45 114.70A48.3 48.3 0 0 1 1063.92 90.55Z" fill="#FB0000"/>
<path d="M1105.75 114.70L1063.92 90.55A48.3 48.3 0 0 1 1081.60 72.87Z" fill="#FB0000"/>
<path d="M1105.75 114.70L1081.60 72.87A48.3 48.3 0 0 1 1105.75 66.40Z" fill="#FB0000"/>
<path d="M1105.75 72.10L1105.75 66.40M1127.05 77.81L1129.90 72.87M1142.64 93.40L1147.58 90.55M1148.35 114.70L1154.05 114.70M1142.64 136.00L1147.58 138.85M1127.05 151.59L1129.90 156.53M1105.75 157.30L1105.75 163.00M1084.45 151.59L1081.60 156.53M1068.86 136.00L1063.92 138.85M1063.15 114.70L1057.45 114.70M1068.86 93.40L1063.92 90.55M1084.45 77.81L1081.60 72.87" stroke="#FFFFFF" stroke-opacity="0.5" stroke-width="0.7" fill="none"/>
<path d="M1105.91 114.12L1106.65 71.61A43.1 43.1 0 0 1 1126.51 76.93Z" fill="#FF7A00" stroke="#C4C4C4" stroke-width="0.7" stroke-linejoin="round"/>
<path d="M1106.17 114.28L1128.08 77.83A43.1 43.1 0 0 1 1142.62 92.37Z" fill="#FF7200" stroke="#C4C4C4" stroke-width="0.7" stroke-linejoin="round"/>
<path d="M1106.33 114.54L1143.52 93.94A43.1 43.1 0 0 1 1148.84 113.80Z" fill="#FF6E00" stroke="#C4C4C4" stroke-width="0.7" stroke-linejoin="round"/>
<path d="M1106.33 114.86L1148.84 115.60A43.1 43.1 0 0 1 1143.52 135.46Z" fill="#FF6600" stroke="#C4C4C4" stroke-width="0.7" stroke-linejoin="round"/>
<path d="M1106.17 115.12L1142.62 137.03A43.1 43.1 0 0 1 1128.08 151.57Z" fill="#FF6E00" stroke="#C4C4C4" stroke-width="0.7" stroke-linejoin="round"/>
<path d="M1105.91 115.28L1126.51 152.47A43.1 43.1 0 0 1 1106.65 157.79Z" fill="#FF7A00" stroke="#C4C4C4" stroke-width="0.7" stroke-linejoin="round"/>
<path d="M1105.59 115.28L1104.85 157.79A43.1 43.1 0 0 1 1084.99 152.47Z" fill="#FF7E00" stroke="#C4C4C4" stroke-width="0.7" stroke-linejoin="round"/>
<path d="M1105.33 115.12L1083.42 151.57A43.1 43.1 0 0 1 1068.88 137.03Z" fill="#FF8200" stroke="#C4C4C4" stroke-width="0.7" stroke-linejoin="round"/>
<path d="M1105.17 114.86L1067.98 135.46A43.1 43.1 0 0 1 1062.66 115.60Z" fill="#FF8200" stroke="#C4C4C4" stroke-width="0.7" stroke-linejoin="round"/>
<path d="M1105.17 114.54L1062.66 113.80A43.1 43.1 0 0 1 1067.98 93.94Z" fill="#FF8200" stroke="#C4C4C4" stroke-width="0.7" stroke-linejoin="round"/>
<path d="M1105.33 114.28L1068.88 92.37A43.1 43.1 0 0 1 1083.42 77.83Z" fill="#FF8200" stroke="#C4C4C4" stroke-width="0.7" stroke-linejoin="round"/>
<path d="M1105.59 114.12L1084.99 76.93A43.1 43.1 0 0 1 1104.85 71.61Z" fill="#FF8200" stroke="#C4C4C4" stroke-width="0.7" stroke-linejoin="round"/>
<text x="1095.65" y="66.00" text-anchor="middle" font-size="15.4" >12</text>
<text x="1160.25" y="104.50" text-anchor="middle" font-size="15.4" >3</text>
<text x="1121.95" y="177.00" text-anchor="middle" font-size="15.4" >6</text>
<text x="1051.95" y="133.40" text-anchor="middle" font-size="15.4" >9</text>
<rect x="1167.5" y="184.50" width="32.5" height="121.5" fill="#D9D9D9"/>
<text transform="translate(1177.6 241.50) rotate(90)" text-anchor="middle" font-size="17.5" >Halophila</text>
<circle cx="60.75" cy="245.30" r="54.5" fill="none" stroke="#E2E2EA" stroke-width="0.75"/>
<path d="M107.40 232.80L113.39 231.19M73.25 291.95L74.86 297.94M14.10 257.80L8.11 259.41M48.25 198.65L46.64 192.66" stroke="#E6E6EC" stroke-width="0.7" fill="none"/>
<path d="M60.75 245.30L60.75 197.00A48.3 48.3 0 0 1 84.90 203.47Z" fill="#4169E1"/>
<path d="M60.75 245.30L84.90 203.47A48.3 48.3 0 0 1 102.58 221.15Z" fill="#4169E1"/>
<path d="M60.75 245.30L102.58 221.15A48.3 48.3 0 0 1 109.05 245.30Z" fill="#4169E1"/>
<path d="M60.75 245.30L109.05 245.30A48.3 48.3 0 0 1 102.58 269.45Z" fill="#4169E1"/>
<path d="M60.75 245.30L102.58 269.45A48.3 48.3 0 0 1 84.90 287.13Z" fill="#4169E1"/>
<path d="M60.75 245.30L84.90 287.13A48.3 48.3 0 0 1 60.75 293.60Z" fill="#4169E1"/>
<path d="M60.75 245.30L60.75 293.60A48.3 48.3 0 0 1 36.60 287.13Z" fill="#4169E1"/>
<path d="M60.75 245.30L36.60 287.13A48.3 48.3 0 0 1 18.92 269.45Z" fill="#4169E1"/>
<path d="M60.75 245.30L18.92 269.45A48.3 48.3 0 0 1 12.45 245.30Z" fill="#4169E1"/>
<path d="M60.75 245.30L12.45 245.30A48.3 48.3 0 0 1 18.92 221.15Z" fill="#4169E1"/>
<path d="M60.75 245.30L18.92 221.15A48.3 48.3 0 0 1 36.60 203.47Z" fill="#4169E1"/>
<path d="M60.75 245.30L36.60 203.47A48.3 48.3 0 0 1 60.75 197.00Z" fill="#4169E1"/>
<path d="M60.75 202.70L60.75 197.00M82.05 208.41L84.90 203.47M97.64 224.00L102.58 221.15M103.35 245.30L109.05 245.30M97.64 266.60L102.58 269.45M82.05 282.19L84.90 287.13M60.75 287.90L60.75 293.60M39.45 282.19L36.60 287.13M23.86 266.60L18.92 269.45M18.15 245.30L12.45 245.30M23.86 224.00L18.92 221.15M39.45 208.41L36.60 203.47" stroke="#FFFFFF" stroke-opacity="0.5" stroke-width="0.7" fill="none"/>
<path d="M60.91 244.72L61.65 202.21A43.1 43.1 0 0 1 81.51 207.53Z" fill="#FFFF00" stroke="#C4C4C4" stroke-width="0.7" stroke-linejoin="round"/>
<path d="M61.17 244.88L83.08 208.43A43.1 43.1 0 0 1 97.62 222.97Z" fill="#FFFF00" stroke="#C4C4C4" stroke-width="0.7" stroke-linejoin="round"/>
<path d="M61.33 245.14L98.52 224.54A43.1 43.1 0 0 1 103.84 244.40Z" fill="#FFFF00" stroke="#C4C4C4" stroke-width="0.7" stroke-linejoin="round"/>
<path d="M61.33 245.46L103.84 246.20A43.1 43.1 0 0 1 98.52 266.06Z" fill="#FFFF00" stroke="#C4C4C4" stroke-width="0.7" stroke-linejoin="round"/>
<path d="M61.17 245.72L97.62 267.63A43.1 43.1 0 0 1 83.08 282.17Z" fill="#FFFF00" stroke="#C4C4C4" stroke-width="0.7" stroke-linejoin="round"/>
<path d="M60.91 245.88L81.51 283.07A43.1 43.1 0 0 1 61.65 288.39Z" fill="#FFFF00" stroke="#C4C4C4" stroke-width="0.7" stroke-linejoin="round"/>
<path d="M60.59 245.88L59.85 288.39A43.1 43.1 0 0 1 39.99 283.07Z" fill="#FFFF00" stroke="#C4C4C4" stroke-width="0.7" stroke-linejoin="round"/>
<path d="M60.33 245.72L38.42 282.17A43.1 43.1 0 0 1 23.88 267.63Z" fill="#FFFF00" stroke="#C4C4C4" stroke-width="0.7" stroke-linejoin="round"/>
<path d="M60.17 245.46L22.98 266.06A43.1 43.1 0 0 1 17.66 246.20Z" fill="#FFFF00" stroke="#C4C4C4" stroke-width="0.7" stroke-linejoin="round"/>
<path d="M60.17 245.14L17.66 244.40A43.1 43.1 0 0 1 22.98 224.54Z" fill="#FFFF00" stroke="#C4C4C4" stroke-width="0.7" stroke-linejoin="round"/>
<path d="M60.33 244.88L23.88 222.97A43.1 43.1 0 0 1 38.42 208.43Z" fill="#FFFF00" stroke="#C4C4C4" stroke-width="0.7" stroke-linejoin="round"/>
<path d="M60.59 244.72L39.99 207.53A43.1 43.1 0 0 1 59.85 202.21Z" fill="#FFFF00" stroke="#C4C4C4" stroke-width="0.7" stroke-linejoin="round"/>
<text x="50.65" y="196.60" text-anchor="middle" font-size="15.4" >12</text>
<text x="115.25" y="235.10" text-anchor="middle" font-size="15.4" >3</text>
<text x="76.65" y="305.30" text-anchor="middle" font-size="15.4" >6</text>
<text x="6.95" y="264.00" text-anchor="middle" font-size="15.4" >9</text>
<circle cx="191.38" cy="245.30" r="54.5" fill="none" stroke="#E2E2EA" stroke-width="0.75"/>
<path d="M238.03 232.80L244.02 231.19M203.88 291.95L205.48 297.94M144.72 257.80L138.73 259.41M178.87 198.65L177.27 192.66" stroke="#E6E6EC" stroke-width="0.7" fill="none"/>
<path d="M191.38 245.30L191.38 197.00A48.3 48.3 0 0 1 215.53 203.47Z" fill="#4169E1"/>
<path d="M191.38 245.30L215.53 203.47A48.3 48.3 0 0 1 233.20 221.15Z" fill="#4169E1"/>
<path d="M191.38 245.30L233.20 221.15A48.3 48.3 0 0 1 239.68 245.30Z" fill="#4169E1"/>
<path d="M191.38 245.30L239.68 245.30A48.3 48.3 0 0 1 233.20 269.45Z" fill="#4169E1"/>
<path d="M191.38 245.30L233.20 269.45A48.3 48.3 0 0 1 215.53 287.13Z" fill="#4169E1"/>
<path d="M191.38 245.30L215.53 287.13A48.3 48.3 0 0 1 191.38 293.60Z" fill="#4169E1"/>
<path d="M191.38 245.30L191.38 293.60A48.3 48.3 0 0 1 167.22 287.13Z" fill="#4169E1"/>
<path d="M191.38 245.30L167.22 287.13A48.3 48.3 0 0 1 149.55 269.45Z" fill="#FB0000"/>
<path d="M191.38 245.30L149.55 269.45A48.3 48.3 0 0 1 143.07 245.30Z" fill="#FB0000"/>
<path d="M191.38 245.30L143.07 245.30A48.3 48.3 0 0 1 149.55 221.15Z" fill="#FB0000"/>
<path d="M191.38 245.30L149.55 221.15A48.3 48.3 0 0 1 167.22 203.47Z" fill="#FB0000"/>
<path d="M191.38 245.30L167.22 203.47A48.3 48.3 0 0 1 191.38 197.00Z" fill="#FB0000"/>
<path d="M191.38 202.70L191.38 197.00M212.68 208.41L215.53 203.47M228.27 224.00L233.20 221.15M233.97 245.30L239.68 245.30M228.27 266.60L233.20 269.45M212.68 282.19L215.53 287.13M191.38 287.90L191.38 293.60M170.07 282.19L167.22 287.13M154.48 266.60L149.55 269.45M148.78 245.30L143.07 245.30M154.48 224.00L149.55 221.15M170.07 208.41L167.22 203.47" stroke="#FFFFFF" stroke-opacity="0.5" stroke-width="0.7" fill="none"/>
<path d="M191.53 244.72L192.28 202.21A43.1 43.1 0 0 1 212.14 207.53Z" fill="#FFFF00" stroke="#C4C4C4" stroke-width="0.7" stroke-linejoin="round"/>
<path d="M191.80 244.88L213.70 208.43A43.1 43.1 0 0 1 228.24 222.97Z" fill="#FFFF00" stroke="#C4C4C4" stroke-width="0.7" stroke-linejoin="round"/>
<path d="M191.95 245.14L229.14 224.54A43.1 43.1 0 0 1 234.47 244.40Z" fill="#FFFF00" stroke="#C4C4C4" stroke-width="0.7" stroke-linejoin="round"/>
<path d="M191.95 245.46L234.47 246.20A43.1 43.1 0 0 1 229.14 266.06Z" fill="#FFFF00" stroke="#C4C4C4" stroke-width="0.7" stroke-linejoin="round"/>
<path d="M191.80 245.72L228.24 267.63A43.1 43.1 0 0 1 213.70 282.17Z" fill="#FFFF00" stroke="#C4C4C4" stroke-width="0.7" stroke-linejoin="round"/>
<path d="M191.53 245.88L212.14 283.07A43.1 43.1 0 0 1 192.28 288.39Z" fill="#FFFF00" stroke="#C4C4C4" stroke-width="0.7" stroke-linejoin="round"/>
<path d="M191.22 245.88L190.47 288.39A43.1 43.1 0 0 1 170.61 283.07Z" fill="#FFFF00" stroke="#C4C4C4" stroke-width="0.7" stroke-linejoin="round"/>
<path d="M190.95 245.72L169.05 282.17A43.1 43.1 0 0 1 154.51 267.63Z" fill="#FF8D00" stroke="#C4C4C4" stroke-width="0.7" stroke-linejoin="round"/>
<path d="M190.80 245.46L153.61 266.06A43.1 43.1 0 0 1 148.28 246.20Z" fill="#FF9B00" stroke="#C4C4C4" stroke-width="0.7" stroke-linejoin="round"/>
<path d="M190.80 245.14L148.28 244.40A43.1 43.1 0 0 1 153.61 224.54Z" fill="#FB0000" stroke="#C4C4C4" stroke-width="0.7" stroke-linejoin="round"/>
<path d="M190.95 244.88L154.51 222.97A43.1 43.1 0 0 1 169.05 208.43Z" fill="#FF5800" stroke="#C4C4C4" stroke-width="0.7" stroke-linejoin="round"/>
<path d="M191.22 244.72L170.61 207.53A43.1 43.1 0 0 1 190.47 202.21Z" fill="#FFA500" stroke="#C4C4C4" stroke-width="0.7" stroke-linejoin="round"/>
<text x="181.28" y="196.60" text-anchor="middle" font-size="15.4" >12</text>
<text x="245.88" y="235.10" text-anchor="middle" font-size="15.4" >3</text>
<text x="207.57" y="307.60" text-anchor="middle" font-size="15.4" >6</text>
<text x="137.57" y="264.00" text-anchor="middle" font-size="15.4" >9</text>
<circle cx="322.00" cy="245.30" r="54.5" fill="none" stroke="#E2E2EA" stroke-width="0.75"/>
<path d="M368.65 232.80L374.64 231.19M334.50 291.95L336.11 297.94M275.35 257.80L269.36 259.41M309.50 198.65L307.89 192.66" stroke="#E6E6EC" stroke-width="0.7" fill="none"/>
<path d="M322.00 245.30L322.00 197.00A48.3 48.3 0 0 1 346.15 203.47Z" fill="#4169E1"/>
<path d="M322.00 245.30L346.15 203.47A48.3 48.3 0 0 1 363.83 221.15Z" fill="#4169E1"/>
<path d="M322.00 245.30L363.83 221.15A48.3 48.3 0 0 1 370.30 245.30Z" fill="#4169E1"/>
<path d="M322.00 245.30L370.30 245.30A48.3 48.3 0 0 1 363.83 269.45Z" fill="#4169E1"/>
<path d="M322.00 245.30L363.83 269.45A48.3 48.3 0 0 1 346.15 287.13Z" fill="#4169E1"/>
<path d="M322.00 245.30L346.15 287.13A48.3 48.3 0 0 1 322.00 293.60Z" fill="#4169E1"/>
<path d="M322.00 245.30L322.00 293.60A48.3 48.3 0 0 1 297.85 287.13Z" fill="#FB0000"/>
<path d="M322.00 245.30L297.85 287.13A48.3 48.3 0 0 1 280.17 269.45Z" fill="#FB0000"/>
<path d="M322.00 245.30L280.17 269.45A48.3 48.3 0 0 1 273.70 245.30Z" fill="#FB0000"/>
<path d="M322.00 245.30L273.70 245.30A48.3 48.3 0 0 1 280.17 221.15Z" fill="#FB0000"/>
<path d="M322.00 245.30L280.17 221.15A48.3 48.3 0 0 1 297.85 203.47Z" fill="#FB0000"/>
<path d="M322.00 245.30L297.85 203.47A48.3 48.3 0 0 1 322.00 197.00Z" fill="#FB0000"/>
<path d="M322.00 202.70L322.00 197.00M343.30 208.41L346.15 203.47M358.89 224.00L363.83 221.15M364.60 245.30L370.30 245.30M358.89 266.60L363.83 269.45M343.30 282.19L346.15 287.13M322.00 287.90L322.00 293.60M300.70 282.19L297.85 287.13M285.11 266.60L280.17 269.45M279.40 245.30L273.70 245.30M285.11 224.00L280.17 221.15M300.70 208.41L297.85 203.47" stroke="#FFFFFF" stroke-opacity="0.5" stroke-width="0.7" fill="none"/>
<path d="M322.16 244.72L322.90 202.21A43.1 43.1 0 0 1 342.76 207.53Z" fill="#FFFF00" stroke="#C4C4C4" stroke-width="0.7" stroke-linejoin="round"/>
<path d="M322.42 244.88L344.33 208.43A43.1 43.1 0 0 1 358.87 222.97Z" fill="#FFFF00" stroke="#C4C4C4" stroke-width="0.7" stroke-linejoin="round"/>
<path d="M322.58 245.14L359.77 224.54A43.1 43.1 0 0 1 365.09 244.40Z" fill="#FFFF00" stroke="#C4C4C4" stroke-width="0.7" stroke-linejoin="round"/>
<path d="M322.58 245.46L365.09 246.20A43.1 43.1 0 0 1 359.77 266.06Z" fill="#FFFF00" stroke="#C4C4C4" stroke-width="0.7" stroke-linejoin="round"/>
<path d="M322.42 245.72L358.87 267.63A43.1 43.1 0 0 1 344.33 282.17Z" fill="#FFFF00" stroke="#C4C4C4" stroke-width="0.7" stroke-linejoin="round"/>
<path d="M322.16 245.88L342.76 283.07A43.1 43.1 0 0 1 322.90 288.39Z" fill="#FFE100" stroke="#C4C4C4" stroke-width="0.7" stroke-linejoin="round"/>
<path d="M321.84 245.88L321.10 288.39A43.1 43.1 0 0 1 301.24 283.07Z" fill="#FF9000" stroke="#C4C4C4" stroke-width="0.7" stroke-linejoin="round"/>
<path d="M321.58 245.72L299.67 282.17A43.1 43.1 0 0 1 285.13 267.63Z" fill="#FF4E00" stroke="#C4C4C4" stroke-width="0.7" stroke-linejoin="round"/>
<path d="M321.42 245.46L284.23 266.06A43.1 43.1 0 0 1 278.91 246.20Z" fill="#CD0002" stroke="#C4C4C4" stroke-width="0.7" stroke-linejoin="round"/>
<path d="M321.42 245.14L278.91 244.40A43.1 43.1 0 0 1 284.23 224.54Z" fill="#9D0002" stroke="#C4C4C4" stroke-width="0.7" stroke-linejoin="round"/>
<path d="M321.58 244.88L285.13 222.97A43.1 43.1 0 0 1 299.67 208.43Z" fill="#FF5800" stroke="#C4C4C4" stroke-width="0.7" stroke-linejoin="round"/>
<path d="M321.84 244.72L301.24 207.53A43.1 43.1 0 0 1 321.10 202.21Z" fill="#FFA200" stroke="#C4C4C4" stroke-width="0.7" stroke-linejoin="round"/>
<text x="311.90" y="196.60" text-anchor="middle" font-size="15.4" >12</text>
<text x="376.50" y="235.10" text-anchor="middle" font-size="15.4" >3</text>
<text x="338.20" y="307.60" text-anchor="middle" font-size="15.4" >6</text>
<text x="268.20" y="264.00" text-anchor="middle" font-size="15.4" >9</text>
<circle cx="452.62" cy="245.30" r="54.5" fill="none" stroke="#E2E2EA" stroke-width="0.75"/>
<path d="M499.28 232.80L505.27 231.19M465.13 291.95L466.73 297.94M405.97 257.80L399.98 259.41M440.12 198.65L438.52 192.66" stroke="#E6E6EC" stroke-width="0.7" fill="none"/>
<path d="M452.62 245.30L452.62 197.00A48.3 48.3 0 0 1 476.77 203.47Z" fill="#4169E1"/>
<path d="M452.62 245.30L476.77 203.47A48.3 48.3 0 0 1 494.45 221.15Z" fill="#4169E1"/>
<path d="M452.62 245.30L494.45 221.15A48.3 48.3 0 0 1 500.93 245.30Z" fill="#4169E1"/>
<path d="M452.62 245.30L500.93 245.30A48.3 48.3 0 0 1 494.45 269.45Z" fill="#4169E1"/>
<path d="M452.62 245.30L494.45 269.45A48.3 48.3 0 0 1 476.77 287.13Z" fill="#4169E1"/>
<path d="M452.62 245.30L476.77 287.13A48.3 48.3 0 0 1 452.62 293.60Z" fill="#FB0000"/>
<path d="M452.62 245.30L452.62 293.60A48.3 48.3 0 0 1 428.48 287.13Z" fill="#FB0000"/>
<path d="M452.62 245.30L428.48 287.13A48.3 48.3 0 0 1 410.80 269.45Z" fill="#FB0000"/>
<path d="M452.62 245.30L410.80 269.45A48.3 48.3 0 0 1 404.32 245.30Z" fill="#FB0000"/>
<path d="M452.62 245.30L404.32 245.30A48.3 48.3 0 0 1 410.80 221.15Z" fill="#FB0000"/>
<path d="M452.62 245.30L410.80 221.15A48.3 48.3 0 0 1 428.47 203.47Z" fill="#FB0000"/>
<path d="M452.62 245.30L428.47 203.47A48.3 48.3 0 0 1 452.62 197.00Z" fill="#FB0000"/>
<path d="M452.62 202.70L452.62 197.00M473.93 208.41L476.77 203.47M489.52 224.00L494.45 221.15M495.23 245.30L500.93 245.30M489.52 266.60L494.45 269.45M473.93 282.19L476.77 287.13M452.62 287.90L452.62 293.60M431.32 282.19L428.48 287.13M415.73 266.60L410.80 269.45M410.02 245.30L404.32 245.30M415.73 224.00L410.80 221.15M431.32 208.41L428.47 203.47" stroke="#FFFFFF" stroke-opacity="0.5" stroke-width="0.7" fill="none"/>
<path d="M452.78 244.72L453.53 202.21A43.1 43.1 0 0 1 473.39 207.53Z" fill="#FFFF00" stroke="#C4C4C4" stroke-width="0.7" stroke-linejoin="round"/>
<path d="M453.05 244.88L474.95 208.43A43.1 43.1 0 0 1 489.49 222.97Z" fill="#FFFF00" stroke="#C4C4C4" stroke-width="0.7" stroke-linejoin="round"/>
<path d="M453.20 245.14L490.39 224.54A43.1 43.1 0 0 1 495.72 244.40Z" fill="#FFFF00" stroke="#C4C4C4" stroke-width="0.7" stroke-linejoin="round"/>
<path d="M453.20 245.46L495.72 246.20A43.1 43.1 0 0 1 490.39 266.06Z" fill="#FFFF00" stroke="#C4C4C4" stroke-width="0.7" stroke-linejoin="round"/>
<path d="M453.05 245.72L489.49 267.63A43.1 43.1 0 0 1 474.95 282.17Z" fill="#FFE100" stroke="#C4C4C4" stroke-width="0.7" stroke-linejoin="round"/>
<path d="M452.78 245.88L473.39 283.07A43.1 43.1 0 0 1 453.53 288.39Z" fill="#FF9B00" stroke="#C4C4C4" stroke-width="0.7" stroke-linejoin="round"/>
<path d="M452.47 245.88L451.72 288.39A43.1 43.1 0 0 1 431.86 283.07Z" fill="#FF5300" stroke="#C4C4C4" stroke-width="0.7" stroke-linejoin="round"/>
<path d="M452.20 245.72L430.30 282.17A43.1 43.1 0 0 1 415.76 267.63Z" fill="#CF0002" stroke="#C4C4C4" stroke-width="0.7" stroke-linejoin="round"/>
<path d="M452.05 245.46L414.86 266.06A43.1 43.1 0 0 1 409.53 246.20Z" fill="#A70002" stroke="#C4C4C4" stroke-width="0.7" stroke-linejoin="round"/>
<path d="M452.05 245.14L409.53 244.40A43.1 43.1 0 0 1 414.86 224.54Z" fill="#A30002" stroke="#C4C4C4" stroke-width="0.7" stroke-linejoin="round"/>
<path d="M452.20 244.88L415.76 222.97A43.1 43.1 0 0 1 430.30 208.43Z" fill="#FF6E00" stroke="#C4C4C4" stroke-width="0.7" stroke-linejoin="round"/>
<path d="M452.47 244.72L431.86 207.53A43.1 43.1 0 0 1 451.72 202.21Z" fill="#FFA800" stroke="#C4C4C4" stroke-width="0.7" stroke-linejoin="round"/>
<text x="442.52" y="196.60" text-anchor="middle" font-size="15.4" >12</text>
<text x="507.12" y="235.10" text-anchor="middle" font-size="15.4" >3</text>
<text x="468.82" y="307.60" text-anchor="middle" font-size="15.4" >6</text>
<text x="398.82" y="264.00" text-anchor="middle" font-size="15.4" >9</text>
<circle cx="583.25" cy="245.30" r="54.5" fill="none" stroke="#E2E2EA" stroke-width="0.75"/>
<path d="M629.90 232.80L635.89 231.19M595.75 291.95L597.36 297.94M536.60 257.80L530.61 259.41M570.75 198.65L569.14 192.66" stroke="#E6E6EC" stroke-width="0.7" fill="none"/>
<path d="M583.25 245.30L583.25 197.00A48.3 48.3 0 0 1 607.40 203.47Z" fill="#4169E1"/>
<path d="M583.25 245.30L607.40 203.47A48.3 48.3 0 0 1 625.08 221.15Z" fill="#4169E1"/>
<path d="M583.25 245.30L625.08 221.15A48.3 48.3 0 0 1 631.55 245.30Z" fill="#FB0000"/>
<path d="M583.25 245.30L631.55 245.30A48.3 48.3 0 0 1 625.08 269.45Z" fill="#FB0000"/>
<path d="M583.25 245.30L625.08 269.45A48.3 48.3 0 0 1 607.40 287.13Z" fill="#FB0000"/>
<path d="M583.25 245.30L607.40 287.13A48.3 48.3 0 0 1 583.25 293.60Z" fill="#FB0000"/>
<path d="M583.25 245.30L583.25 293.60A48.3 48.3 0 0 1 559.10 287.13Z" fill="#FB0000"/>
<path d="M583.25 245.30L559.10 287.13A48.3 48.3 0 0 1 541.42 269.45Z" fill="#FB0000"/>
<path d="M583.25 245.30L541.42 269.45A48.3 48.3 0 0 1 534.95 245.30Z" fill="#FB0000"/>
<path d="M583.25 245.30L534.95 245.30A48.3 48.3 0 0 1 541.42 221.15Z" fill="#FB0000"/>
<path d="M583.25 245.30L541.42 221.15A48.3 48.3 0 0 1 559.10 203.47Z" fill="#FB0000"/>
<path d="M583.25 245.30L559.10 203.47A48.3 48.3 0 0 1 583.25 197.00Z" fill="#FB0000"/>
<path d="M583.25 202.70L583.25 197.00M604.55 208.41L607.40 203.47M620.14 224.00L625.08 221.15M625.85 245.30L631.55 245.30M620.14 266.60L625.08 269.45M604.55 282.19L607.40 287.13M583.25 287.90L583.25 293.60M561.95 282.19L559.10 287.13M546.36 266.60L541.42 269.45M540.65 245.30L534.95 245.30M546.36 224.00L541.42 221.15M561.95 208.41L559.10 203.47" stroke="#FFFFFF" stroke-opacity="0.5" stroke-width="0.7" fill="none"/>
<path d="M583.41 244.72L584.15 202.21A43.1 43.1 0 0 1 604.01 207.53Z" fill="#FFFF00" stroke="#C4C4C4" stroke-width="0.7" stroke-linejoin="round"/>
<path d="M583.67 244.88L605.58 208.43A43.1 43.1 0 0 1 620.12 222.97Z" fill="#FFE100" stroke="#C4C4C4" stroke-width="0.7" stroke-linejoin="round"/>
<path d="M583.83 245.14L621.02 224.54A43.1 43.1 0 0 1 626.34 244.40Z" fill="#FF9B00" stroke="#C4C4C4" stroke-width="0.7" stroke-linejoin="round"/>
<path d="M583.83 245.46L626.34 246.20A43.1 43.1 0 0 1 621.02 266.06Z" fill="#FF4E00" stroke="#C4C4C4" stroke-width="0.7" stroke-linejoin="round"/>
<path d="M583.67 245.72L620.12 267.63A43.1 43.1 0 0 1 605.58 282.17Z" fill="#D30002" stroke="#C4C4C4" stroke-width="0.7" stroke-linejoin="round"/>
<path d="M583.41 245.88L604.01 283.07A43.1 43.1 0 0 1 584.15 288.39Z" fill="#CB0002" stroke="#C4C4C4" stroke-width="0.7" stroke-linejoin="round"/>
<path d="M583.09 245.88L582.35 288.39A43.1 43.1 0 0 1 562.49 283.07Z" fill="#8B0000" stroke="#C4C4C4" stroke-width="0.7" stroke-linejoin="round"/>
<path d="M582.83 245.72L560.92 282.17A43.1 43.1 0 0 1 546.38 267.63Z" fill="#8B0000" stroke="#C4C4C4" stroke-width="0.7" stroke-linejoin="round"/>
<path d="M582.67 245.46L545.48 266.06A43.1 43.1 0 0 1 540.16 246.20Z" fill="#900001" stroke="#C4C4C4" stroke-width="0.7" stroke-linejoin="round"/>
<path d="M582.67 245.14L540.16 244.40A43.1 43.1 0 0 1 545.48 224.54Z" fill="#9F0002" stroke="#C4C4C4" stroke-width="0.7" stroke-linejoin="round"/>
<path d="M582.83 244.88L546.38 222.97A43.1 43.1 0 0 1 560.92 208.43Z" fill="#FF7A00" stroke="#C4C4C4" stroke-width="0.7" stroke-linejoin="round"/>
<path d="M583.09 244.72L562.49 207.53A43.1 43.1 0 0 1 582.35 202.21Z" fill="#FFB700" stroke="#C4C4C4" stroke-width="0.7" stroke-linejoin="round"/>
<text x="573.15" y="196.60" text-anchor="middle" font-size="15.4" >12</text>
<text x="637.75" y="235.10" text-anchor="middle" font-size="15.4" >3</text>
<text x="599.45" y="307.60" text-anchor="middle" font-size="15.4" >6</text>
<text x="529.45" y="264.00" text-anchor="middle" font-size="15.4" >9</text>
<circle cx="713.88" cy="245.30" r="54.5" fill="none" stroke="#E2E2EA" stroke-width="0.75"/>
<path d="M760.53 232.80L766.52 231.19M726.38 291.95L727.98 297.94M667.22 257.80L661.23 259.41M701.37 198.65L699.77 192.66" stroke="#E6E6EC" stroke-width="0.7" fill="none"/>
<path d="M713.88 245.30L713.88 197.00A48.3 48.3 0 0 1 738.02 203.47Z" fill="#FB0000"/>
<path d="M713.88 245.30L738.02 203.47A48.3 48.3 0 0 1 755.70 221.15Z" fill="#FB0000"/>
<path d="M713.88 245.30L755.70 221.15A48.3 48.3 0 0 1 762.17 245.30Z" fill="#FB0000"/>
<path d="M713.88 245.30L762.17 245.30A48.3 48.3 0 0 1 755.70 269.45Z" fill="#FB0000"/>
<path d="M713.88 245.30L755.70 269.45A48.3 48.3 0 0 1 738.02 287.13Z" fill="#FB0000"/>
<path d="M713.88 245.30L738.02 287.13A48.3 48.3 0 0 1 713.88 293.60Z" fill="#FB0000"/>
<path d="M713.88 245.30L713.88 293.60A48.3 48.3 0 0 1 689.73 287.13Z" fill="#FB0000"/>
<path d="M713.88 245.30L689.73 287.13A48.3 48.3 0 0 1 672.05 269.45Z" fill="#FB0000"/>
<path d="M713.88 245.30L672.05 269.45A48.3 48.3 0 0 1 665.58 245.30Z" fill="#FB0000"/>
<path d="M713.88 245.30L665.58 245.30A48.3 48.3 0 0 1 672.05 221.15Z" fill="#FB0000"/>
<path d="M713.88 245.30L672.05 221.15A48.3 48.3 0 0 1 689.73 203.47Z" fill="#FB0000"/>
<path d="M713.88 245.30L689.73 203.47A48.3 48.3 0 0 1 713.88 197.00Z" fill="#FB0000"/>
<path d="M713.88 202.70L713.88 197.00M735.17 208.41L738.02 203.47M750.77 224.00L755.70 221.15M756.48 245.30L762.17 245.30M750.77 266.60L755.70 269.45M735.17 282.19L738.02 287.13M713.88 287.90L713.88 293.60M692.58 282.19L689.73 287.13M676.98 266.60L672.05 269.45M671.27 245.30L665.58 245.30M676.98 224.00L672.05 221.15M692.57 208.41L689.73 203.47" stroke="#FFFFFF" stroke-opacity="0.5" stroke-width="0.7" fill="none"/>
<path d="M714.03 244.72L714.78 202.21A43.1 43.1 0 0 1 734.64 207.53Z" fill="#FF4900" stroke="#C4C4C4" stroke-width="0.7" stroke-linejoin="round"/>
<path d="M714.30 244.88L736.20 208.43A43.1 43.1 0 0 1 750.74 222.97Z" fill="#DF0001" stroke="#C4C4C4" stroke-width="0.7" stroke-linejoin="round"/>
<path d="M714.45 245.14L751.64 224.54A43.1 43.1 0 0 1 756.97 244.40Z" fill="#DB0001" stroke="#C4C4C4" stroke-width="0.7" stroke-linejoin="round"/>
<path d="M714.45 245.46L756.97 246.20A43.1 43.1 0 0 1 751.64 266.06Z" fill="#B60002" stroke="#C4C4C4" stroke-width="0.7" stroke-linejoin="round"/>
<path d="M714.30 245.72L750.74 267.63A43.1 43.1 0 0 1 736.20 282.17Z" fill="#FF6600" stroke="#C4C4C4" stroke-width="0.7" stroke-linejoin="round"/>
<path d="M714.03 245.88L734.64 283.07A43.1 43.1 0 0 1 714.78 288.39Z" fill="#FF7A00" stroke="#C4C4C4" stroke-width="0.7" stroke-linejoin="round"/>
<path d="M713.72 245.88L712.97 288.39A43.1 43.1 0 0 1 693.11 283.07Z" fill="#FF7A00" stroke="#C4C4C4" stroke-width="0.7" stroke-linejoin="round"/>
<path d="M713.45 245.72L691.55 282.17A43.1 43.1 0 0 1 677.01 267.63Z" fill="#F50000" stroke="#C4C4C4" stroke-width="0.7" stroke-linejoin="round"/>
<path d="M713.30 245.46L676.11 266.06A43.1 43.1 0 0 1 670.78 246.20Z" fill="#AE0002" stroke="#C4C4C4" stroke-width="0.7" stroke-linejoin="round"/>
<path d="M713.30 245.14L670.78 244.40A43.1 43.1 0 0 1 676.11 224.54Z" fill="#A70002" stroke="#C4C4C4" stroke-width="0.7" stroke-linejoin="round"/>
<path d="M713.45 244.88L677.01 222.97A43.1 43.1 0 0 1 691.55 208.43Z" fill="#FF4300" stroke="#C4C4C4" stroke-width="0.7" stroke-linejoin="round"/>
<path d="M713.72 244.72L693.11 207.53A43.1 43.1 0 0 1 712.97 202.21Z" fill="#FF4E00" stroke="#C4C4C4" stroke-width="0.7" stroke-linejoin="round"/>
<text x="703.77" y="196.60" text-anchor="middle" font-size="15.4" >12</text>
<text x="768.38" y="235.10" text-anchor="middle" font-size="15.4" >3</text>
<text x="730.08" y="307.60" text-anchor="middle" font-size="15.4" >6</text>
<text x="660.08" y="264.00" text-anchor="middle" font-size="15.4" >9</text>
<circle cx="844.50" cy="245.30" r="54.5" fill="none" stroke="#E2E2EA" stroke-width="0.75"/>
<path d="M891.15 232.80L897.14 231.19M857.00 291.95L858.61 297.94M797.85 257.80L791.86 259.41M832.00 198.65L830.39 192.66" stroke="#E6E6EC" stroke-width="0.7" fill="none"/>
<path d="M844.50 245.30L844.50 197.00A48.3 48.3 0 0 1 868.65 203.47Z" fill="#FB0000"/>
<path d="M844.50 245.30L868.65 203.47A48.3 48.3 0 0 1 886.33 221.15Z" fill="#FB0000"/>
<path d="M844.50 245.30L886.33 221.15A48.3 48.3 0 0 1 892.80 245.30Z" fill="#FB0000"/>
<path d="M844.50 245.30L892.80 245.30A48.3 48.3 0 0 1 886.33 269.45Z" fill="#FB0000"/>
<path d="M844.50 245.30L886.33 269.45A48.3 48.3 0 0 1 868.65 287.13Z" fill="#FB0000"/>
<path d="M844.50 245.30L868.65 287.13A48.3 48.3 0 0 1 844.50 293.60Z" fill="#FB0000"/>
<path d="M844.50 245.30L844.50 293.60A48.3 48.3 0 0 1 820.35 287.13Z" fill="#FB0000"/>
<path d="M844.50 245.30L820.35 287.13A48.3 48.3 0 0 1 802.67 269.45Z" fill="#FB0000"/>
<path d="M844.50 245.30L802.67 269.45A48.3 48.3 0 0 1 796.20 245.30Z" fill="#FB0000"/>
<path d="M844.50 245.30L796.20 245.30A48.3 48.3 0 0 1 802.67 221.15Z" fill="#FB0000"/>
<path d="M844.50 245.30L802.67 221.15A48.3 48.3 0 0 1 820.35 203.47Z" fill="#FB0000"/>
<path d="M844.50 245.30L820.35 203.47A48.3 48.3 0 0 1 844.50 197.00Z" fill="#FB0000"/>
<path d="M844.50 202.70L844.50 197.00M865.80 208.41L868.65 203.47M881.39 224.00L886.33 221.15M887.10 245.30L892.80 245.30M881.39 266.60L886.33 269.45M865.80 282.19L868.65 287.13M844.50 287.90L844.50 293.60M823.20 282.19L820.35 287.13M807.61 266.60L802.67 269.45M801.90 245.30L796.20 245.30M807.61 224.00L802.67 221.15M823.20 208.41L820.35 203.47" stroke="#FFFFFF" stroke-opacity="0.5" stroke-width="0.7" fill="none"/>
<path d="M844.66 244.72L845.40 202.21A43.1 43.1 0 0 1 865.26 207.53Z" fill="#DB0001" stroke="#C4C4C4" stroke-width="0.7" stroke-linejoin="round"/>
<path d="M844.92 244.88L866.83 208.43A43.1 43.1 0 0 1 881.37 222.97Z" fill="#A90002" stroke="#C4C4C4" stroke-width="0.7" stroke-linejoin="round"/>
<path d="M845.08 245.14L882.27 224.54A43.1 43.1 0 0 1 887.59 244.40Z" fill="#DF0001" stroke="#C4C4C4" stroke-width="0.7" stroke-linejoin="round"/>
<path d="M845.08 245.46L887.59 246.20A43.1 43.1 0 0 1 882.27 266.06Z" fill="#FF5D00" stroke="#C4C4C4" stroke-width="0.7" stroke-linejoin="round"/>
<path d="M844.92 245.72L881.37 267.63A43.1 43.1 0 0 1 866.83 282.17Z" fill="#ED0001" stroke="#C4C4C4" stroke-width="0.7" stroke-linejoin="round"/>
<path d="M844.66 245.88L865.26 283.07A43.1 43.1 0 0 1 845.40 288.39Z" fill="#B60002" stroke="#C4C4C4" stroke-width="0.7" stroke-linejoin="round"/>
<path d="M844.34 245.88L843.60 288.39A43.1 43.1 0 0 1 823.74 283.07Z" fill="#ED0001" stroke="#C4C4C4" stroke-width="0.7" stroke-linejoin="round"/>
<path d="M844.08 245.72L822.17 282.17A43.1 43.1 0 0 1 807.63 267.63Z" fill="#FF7A00" stroke="#C4C4C4" stroke-width="0.7" stroke-linejoin="round"/>
<path d="M843.92 245.46L806.73 266.06A43.1 43.1 0 0 1 801.41 246.20Z" fill="#F90000" stroke="#C4C4C4" stroke-width="0.7" stroke-linejoin="round"/>
<path d="M843.92 245.14L801.41 244.40A43.1 43.1 0 0 1 806.73 224.54Z" fill="#A70002" stroke="#C4C4C4" stroke-width="0.7" stroke-linejoin="round"/>
<path d="M844.08 244.88L807.63 222.97A43.1 43.1 0 0 1 822.17 208.43Z" fill="#FF4E00" stroke="#C4C4C4" stroke-width="0.7" stroke-linejoin="round"/>
<path d="M844.34 244.72L823.74 207.53A43.1 43.1 0 0 1 843.60 202.21Z" fill="#F50000" stroke="#C4C4C4" stroke-width="0.7" stroke-linejoin="round"/>
<text x="834.40" y="196.60" text-anchor="middle" font-size="15.4" >12</text>
<text x="899.00" y="235.10" text-anchor="middle" font-size="15.4" >3</text>
<text x="860.70" y="307.60" text-anchor="middle" font-size="15.4" >6</text>
<text x="790.70" y="264.00" text-anchor="middle" font-size="15.4" >9</text>
<circle cx="975.12" cy="245.30" r="54.5" fill="none" stroke="#E2E2EA" stroke-width="0.75"/>
<path d="M1021.78 232.80L1027.77 231.19M987.63 291.95L989.23 297.94M928.47 257.80L922.48 259.41M962.62 198.65L961.02 192.66" stroke="#E6E6EC" stroke-width="0.7" fill="none"/>
<path d="M975.12 245.30L975.12 197.00A48.3 48.3 0 0 1 999.27 203.47Z" fill="#FB0000"/>
<path d="M975.12 245.30L999.27 203.47A48.3 48.3 0 0 1 1016.95 221.15Z" fill="#FB0000"/>
<path d="M975.12 245.30L1016.95 221.15A48.3 48.3 0 0 1 1023.42 245.30Z" fill="#FB0000"/>
<path d="M975.12 245.30L1023.42 245.30A48.3 48.3 0 0 1 1016.95 269.45Z" fill="#FB0000"/>
<path d="M975.12 245.30L1016.95 269.45A48.3 48.3 0 0 1 999.27 287.13Z" fill="#FB0000"/>
<path d="M975.12 245.30L999.27 287.13A48.3 48.3 0 0 1 975.12 293.60Z" fill="#FB0000"/>
<path d="M975.12 245.30L975.12 293.60A48.3 48.3 0 0 1 950.98 287.13Z" fill="#FB0000"/>
<path d="M975.12 245.30L950.98 287.13A48.3 48.3 0 0 1 933.30 269.45Z" fill="#FB0000"/>
<path d="M975.12 245.30L933.30 269.45A48.3 48.3 0 0 1 926.83 245.30Z" fill="#FB0000"/>
<path d="M975.12 245.30L926.83 245.30A48.3 48.3 0 0 1 933.30 221.15Z" fill="#FB0000"/>
<path d="M975.12 245.30L933.30 221.15A48.3 48.3 0 0 1 950.98 203.47Z" fill="#FB0000"/>
<path d="M975.12 245.30L950.98 203.47A48.3 48.3 0 0 1 975.12 197.00Z" fill="#FB0000"/>
<path d="M975.12 202.70L975.12 197.00M996.42 208.41L999.27 203.47M1012.02 224.00L1016.95 221.15M1017.73 245.30L1023.42 245.30M1012.02 266.60L1016.95 269.45M996.42 282.19L999.27 287.13M975.12 287.90L975.12 293.60M953.83 282.19L950.98 287.13M938.23 266.60L933.30 269.45M932.52 245.30L926.83 245.30M938.23 224.00L933.30 221.15M953.82 208.41L950.98 203.47" stroke="#FFFFFF" stroke-opacity="0.5" stroke-width="0.7" fill="none"/>
<path d="M975.28 244.72L976.03 202.21A43.1 43.1 0 0 1 995.89 207.53Z" fill="#FF5D00" stroke="#C4C4C4" stroke-width="0.7" stroke-linejoin="round"/>
<path d="M975.55 244.88L997.45 208.43A43.1 43.1 0 0 1 1011.99 222.97Z" fill="#E70001" stroke="#C4C4C4" stroke-width="0.7" stroke-linejoin="round"/>
<path d="M975.70 245.14L1012.89 224.54A43.1 43.1 0 0 1 1018.22 244.40Z" fill="#DF0001" stroke="#C4C4C4" stroke-width="0.7" stroke-linejoin="round"/>
<path d="M975.70 245.46L1018.22 246.20A43.1 43.1 0 0 1 1012.89 266.06Z" fill="#9B0002" stroke="#C4C4C4" stroke-width="0.7" stroke-linejoin="round"/>
<path d="M975.55 245.72L1011.99 267.63A43.1 43.1 0 0 1 997.45 282.17Z" fill="#980001" stroke="#C4C4C4" stroke-width="0.7" stroke-linejoin="round"/>
<path d="M975.28 245.88L995.89 283.07A43.1 43.1 0 0 1 976.03 288.39Z" fill="#980001" stroke="#C4C4C4" stroke-width="0.7" stroke-linejoin="round"/>
<path d="M974.97 245.88L974.22 288.39A43.1 43.1 0 0 1 954.36 283.07Z" fill="#9A0001" stroke="#C4C4C4" stroke-width="0.7" stroke-linejoin="round"/>
<path d="M974.70 245.72L952.80 282.17A43.1 43.1 0 0 1 938.26 267.63Z" fill="#9F0002" stroke="#C4C4C4" stroke-width="0.7" stroke-linejoin="round"/>
<path d="M974.55 245.46L937.36 266.06A43.1 43.1 0 0 1 932.03 246.20Z" fill="#A70002" stroke="#C4C4C4" stroke-width="0.7" stroke-linejoin="round"/>
<path d="M974.55 245.14L932.03 244.40A43.1 43.1 0 0 1 937.36 224.54Z" fill="#A30002" stroke="#C4C4C4" stroke-width="0.7" stroke-linejoin="round"/>
<path d="M974.70 244.88L938.26 222.97A43.1 43.1 0 0 1 952.80 208.43Z" fill="#FF3600" stroke="#C4C4C4" stroke-width="0.7" stroke-linejoin="round"/>
<path d="M974.97 244.72L954.36 207.53A43.1 43.1 0 0 1 974.22 202.21Z" fill="#FF5300" stroke="#C4C4C4" stroke-width="0.7" stroke-linejoin="round"/>
<text x="965.02" y="196.60" text-anchor="middle" font-size="15.4" >12</text>
<text x="1029.62" y="235.10" text-anchor="middle" font-size="15.4" >3</text>
<text x="991.33" y="307.60" text-anchor="middle" font-size="15.4" >6</text>
<text x="921.33" y="264.00" text-anchor="middle" font-size="15.4" >9</text>
<circle cx="1105.75" cy="245.30" r="54.5" fill="none" stroke="#E2E2EA" stroke-width="0.75"/>
<path d="M1152.40 232.80L1158.39 231.19M1118.25 291.95L1119.86 297.94M1059.10 257.80L1053.11 259.41M1093.25 198.65L1091.64 192.66" stroke="#E6E6EC" stroke-width="0.7" fill="none"/>
<path d="M1105.75 245.30L1105.75 197.00A48.3 48.3 0 0 1 1129.90 203.47Z" fill="#FB0000"/>
<path d="M1105.75 245.30L1129.90 203.47A48.3 48.3 0 0 1 1147.58 221.15Z" fill="#FB0000"/>
<path d="M1105.75 245.30L1147.58 221.15A48.3 48.3 0 0 1 1154.05 245.30Z" fill="#FB0000"/>
<path d="M1105.75 245.30L1154.05 245.30A48.3 48.3 0 0 1 1147.58 269.45Z" fill="#FB0000"/>
<path d="M1105.75 245.30L1147.58 269.45A48.3 48.3 0 0 1 1129.90 287.13Z" fill="#FB0000"/>
<path d="M1105.75 245.30L1129.90 287.13A48.3 48.3 0 0 1 1105.75 293.60Z" fill="#FB0000"/>
<path d="M1105.75 245.30L1105.75 293.60A48.3 48.3 0 0 1 1081.60 287.13Z" fill="#FB0000"/>
<path d="M1105.75 245.30L1081.60 287.13A48.3 48.3 0 0 1 1063.92 269.45Z" fill="#FB0000"/>
<path d="M1105.75 245.30L1063.92 269.45A48.3 48.3 0 0 1 1057.45 245.30Z" fill="#FB0000"/>
<path d="M1105.75 245.30L1057.45 245.30A48.3 48.3 0 0 1 1063.92 221.15Z" fill="#FB0000"/>
<path d="M1105.75 245.30L1063.92 221.15A48.3 48.3 0 0 1 1081.60 203.47Z" fill="#FB0000"/>
<path d="M1105.75 245.30L1081.60 203.47A48.3 48.3 0 0 1 1105.75 197.00Z" fill="#FB0000"/>
<path d="M1105.75 202.70L1105.75 197.00M1127.05 208.41L1129.90 203.47M1142.64 224.00L1147.58 221.15M1148.35 245.30L1154.05 245.30M1142.64 266.60L1147.58 269.45M1127.05 282.19L1129.90 287.13M1105.75 287.90L1105.75 293.60M1084.45 282.19L1081.60 287.13M1068.86 266.60L1063.92 269.45M1063.15 245.30L1057.45 245.30M1068.86 224.00L1063.92 221.15M1084.45 208.41L1081.60 203.47" stroke="#FFFFFF" stroke-opacity="0.5" stroke-width="0.7" fill="none"/>
<path d="M1105.91 244.72L1106.65 202.21A43.1 43.1 0 0 1 1126.51 207.53Z" fill="#900001" stroke="#C4C4C4" stroke-width="0.7" stroke-linejoin="round"/>
<path d="M1106.17 244.88L1128.08 208.43A43.1 43.1 0 0 1 1142.62 222.97Z" fill="#920001" stroke="#C4C4C4" stroke-width="0.7" stroke-linejoin="round"/>
<path d="M1106.33 245.14L1143.52 224.54A43.1 43.1 0 0 1 1148.84 244.40Z" fill="#960001" stroke="#C4C4C4" stroke-width="0.7" stroke-linejoin="round"/>
<path d="M1106.33 245.46L1148.84 246.20A43.1 43.1 0 0 1 1143.52 266.06Z" fill="#980001" stroke="#C4C4C4" stroke-width="0.7" stroke-linejoin="round"/>
<path d="M1106.17 245.72L1142.62 267.63A43.1 43.1 0 0 1 1128.08 282.17Z" fill="#9A0001" stroke="#C4C4C4" stroke-width="0.7" stroke-linejoin="round"/>
<path d="M1105.91 245.88L1126.51 283.07A43.1 43.1 0 0 1 1106.65 288.39Z" fill="#9F0002" stroke="#C4C4C4" stroke-width="0.7" stroke-linejoin="round"/>
<path d="M1105.59 245.88L1104.85 288.39A43.1 43.1 0 0 1 1084.99 283.07Z" fill="#A10002" stroke="#C4C4C4" stroke-width="0.7" stroke-linejoin="round"/>
<path d="M1105.33 245.72L1083.42 282.17A43.1 43.1 0 0 1 1068.88 267.63Z" fill="#A30002" stroke="#C4C4C4" stroke-width="0.7" stroke-linejoin="round"/>
<path d="M1105.17 245.46L1067.98 266.06A43.1 43.1 0 0 1 1062.66 246.20Z" fill="#A90002" stroke="#C4C4C4" stroke-width="0.7" stroke-linejoin="round"/>
<path d="M1105.17 245.14L1062.66 244.40A43.1 43.1 0 0 1 1067.98 224.54Z" fill="#A90002" stroke="#C4C4C4" stroke-width="0.7" stroke-linejoin="round"/>
<path d="M1105.33 244.88L1068.88 222.97A43.1 43.1 0 0 1 1083.42 208.43Z" fill="#BE0002" stroke="#C4C4C4" stroke-width="0.7" stroke-linejoin="round"/>
<path d="M1105.59 244.72L1084.99 207.53A43.1 43.1 0 0 1 1104.85 202.21Z" fill="#A30002" stroke="#C4C4C4" stroke-width="0.7" stroke-linejoin="round"/>
<text x="1095.65" y="196.60" text-anchor="middle" font-size="15.4" >12</text>
<text x="1160.25" y="235.10" text-anchor="middle" font-size="15.4" >3</text>
<text x="1121.95" y="307.60" text-anchor="middle" font-size="15.4" >6</text>
<text x="1051.95" y="264.00" text-anchor="middle" font-size="15.4" >9</text>
<rect x="1167.5" y="315.10" width="32.5" height="121.5" fill="#D9D9D9"/>
<text transform="translate(1177.6 372.10) rotate(90)" text-anchor="middle" font-size="17.5" >Zostera</text>
<circle cx="60.75" cy="375.90" r="54.5" fill="none" stroke="#E2E2EA" stroke-width="0.75"/>
<path d="M107.40 363.40L113.39 361.79M73.25 422.55L74.86 428.54M14.10 388.40L8.11 390.01M48.25 329.25L46.64 323.26" stroke="#E6E6EC" stroke-width="0.7" fill="none"/>
<path d="M60.75 375.90L60.75 327.60A48.3 48.3 0 0 1 84.90 334.07Z" fill="#4169E1"/>
<path d="M60.75 375.90L84.90 334.07A48.3 48.3 0 0 1 102.58 351.75Z" fill="#4169E1"/>
<path d="M60.75 375.90L102.58 351.75A48.3 48.3 0 0 1 109.05 375.90Z" fill="#4169E1"/>
<path d="M60.75 375.90L109.05 375.90A48.3 48.3 0 0 1 102.58 400.05Z" fill="#4169E1"/>
<path d="M60.75 375.90L102.58 400.05A48.3 48.3 0 0 1 84.90 417.73Z" fill="#4169E1"/>
<path d="M60.75 375.90L84.90 417.73A48.3 48.3 0 0 1 60.75 424.20Z" fill="#4169E1"/>
<path d="M60.75 375.90L60.75 424.20A48.3 48.3 0 0 1 36.60 417.73Z" fill="#4169E1"/>
<path d="M60.75 375.90L36.60 417.73A48.3 48.3 0 0 1 18.92 400.05Z" fill="#4169E1"/>
<path d="M60.75 375.90L18.92 400.05A48.3 48.3 0 0 1 12.45 375.90Z" fill="#4169E1"/>
<path d="M60.75 375.90L12.45 375.90A48.3 48.3 0 0 1 18.92 351.75Z" fill="#4169E1"/>
<path d="M60.75 375.90L18.92 351.75A48.3 48.3 0 0 1 36.60 334.07Z" fill="#4169E1"/>
<path d="M60.75 375.90L36.60 334.07A48.3 48.3 0 0 1 60.75 327.60Z" fill="#4169E1"/>
<path d="M60.75 333.30L60.75 327.60M82.05 339.01L84.90 334.07M97.64 354.60L102.58 351.75M103.35 375.90L109.05 375.90M97.64 397.20L102.58 400.05M82.05 412.79L84.90 417.73M60.75 418.50L60.75 424.20M39.45 412.79L36.60 417.73M23.86 397.20L18.92 400.05M18.15 375.90L12.45 375.90M23.86 354.60L18.92 351.75M39.45 339.01L36.60 334.07" stroke="#FFFFFF" stroke-opacity="0.5" stroke-width="0.7" fill="none"/>
<path d="M60.91 375.32L61.65 332.81A43.1 43.1 0 0 1 81.51 338.13Z" fill="#FFFF00" stroke="#C4C4C4" stroke-width="0.7" stroke-linejoin="round"/>
<path d="M61.17 375.48L83.08 339.03A43.1 43.1 0 0 1 97.62 353.57Z" fill="#FFFF00" stroke="#C4C4C4" stroke-width="0.7" stroke-linejoin="round"/>
<path d="M61.33 375.74L98.52 355.14A43.1 43.1 0 0 1 103.84 375.00Z" fill="#FFFF00" stroke="#C4C4C4" stroke-width="0.7" stroke-linejoin="round"/>
<path d="M61.33 376.06L103.84 376.80A43.1 43.1 0 0 1 98.52 396.66Z" fill="#FFFF00" stroke="#C4C4C4" stroke-width="0.7" stroke-linejoin="round"/>
<path d="M61.17 376.32L97.62 398.23A43.1 43.1 0 0 1 83.08 412.77Z" fill="#FFFF00" stroke="#C4C4C4" stroke-width="0.7" stroke-linejoin="round"/>
<path d="M60.91 376.48L81.51 413.67A43.1 43.1 0 0 1 61.65 418.99Z" fill="#FFFF00" stroke="#C4C4C4" stroke-width="0.7" stroke-linejoin="round"/>
<path d="M60.59 376.48L59.85 418.99A43.1 43.1 0 0 1 39.99 413.67Z" fill="#FFFF00" stroke="#C4C4C4" stroke-width="0.7" stroke-linejoin="round"/>
<path d="M60.33 376.32L38.42 412.77A43.1 43.1 0 0 1 23.88 398.23Z" fill="#FFFF00" stroke="#C4C4C4" stroke-width="0.7" stroke-linejoin="round"/>
<path d="M60.17 376.06L22.98 396.66A43.1 43.1 0 0 1 17.66 376.80Z" fill="#FFFF00" stroke="#C4C4C4" stroke-width="0.7" stroke-linejoin="round"/>
<path d="M60.17 375.74L17.66 375.00A43.1 43.1 0 0 1 22.98 355.14Z" fill="#FFFF00" stroke="#C4C4C4" stroke-width="0.7" stroke-linejoin="round"/>
<path d="M60.33 375.48L23.88 353.57A43.1 43.1 0 0 1 38.42 339.03Z" fill="#FFFF00" stroke="#C4C4C4" stroke-width="0.7" stroke-linejoin="round"/>
<path d="M60.59 375.32L39.99 338.13A43.1 43.1 0 0 1 59.85 332.81Z" fill="#FFFF00" stroke="#C4C4C4" stroke-width="0.7" stroke-linejoin="round"/>
<text x="50.65" y="327.20" text-anchor="middle" font-size="15.4" >12</text>
<text x="115.25" y="365.70" text-anchor="middle" font-size="15.4" >3</text>
<text x="76.65" y="436.30" text-anchor="middle" font-size="15.4" >6</text>
<text x="6.95" y="394.60" text-anchor="middle" font-size="15.4" >9</text>
<circle cx="191.38" cy="375.90" r="54.5" fill="none" stroke="#E2E2EA" stroke-width="0.75"/>
<path d="M238.03 363.40L244.02 361.79M203.88 422.55L205.48 428.54M144.72 388.40L138.73 390.01M178.87 329.25L177.27 323.26" stroke="#E6E6EC" stroke-width="0.7" fill="none"/>
<path d="M191.38 375.90L191.38 327.60A48.3 48.3 0 0 1 215.53 334.07Z" fill="#4169E1"/>
<path d="M191.38 375.90L215.53 334.07A48.3 48.3 0 0 1 233.20 351.75Z" fill="#0CB7F2"/>
<path d="M191.38 375.90L233.20 351.75A48.3 48.3 0 0 1 239.68 375.90Z" fill="#4169E1"/>
<path d="M191.38 375.90L239.68 375.90A48.3 48.3 0 0 1 233.20 400.05Z" fill="#4169E1"/>
<path d="M191.38 375.90L233.20 400.05A48.3 48.3 0 0 1 215.53 417.73Z" fill="#4169E1"/>
<path d="M191.38 375.90L215.53 417.73A48.3 48.3 0 0 1 191.38 424.20Z" fill="#4169E1"/>
<path d="M191.38 375.90L191.38 424.20A48.3 48.3 0 0 1 167.22 417.73Z" fill="#4169E1"/>
<path d="M191.38 375.90L167.22 417.73A48.3 48.3 0 0 1 149.55 400.05Z" fill="#4169E1"/>
<path d="M191.38 375.90L149.55 400.05A48.3 48.3 0 0 1 143.07 375.90Z" fill="#0CB7F2"/>
<path d="M191.38 375.90L143.07 375.90A48.3 48.3 0 0 1 149.55 351.75Z" fill="#0CB7F2"/>
<path d="M191.38 375.90L149.55 351.75A48.3 48.3 0 0 1 167.22 334.07Z" fill="#4169E1"/>
<path d="M191.38 375.90L167.22 334.07A48.3 48.3 0 0 1 191.38 327.60Z" fill="#4169E1"/>
<path d="M191.38 333.30L191.38 327.60M212.68 339.01L215.53 334.07M228.27 354.60L233.20 351.75M233.97 375.90L239.68 375.90M228.27 397.20L233.20 400.05M212.68 412.79L215.53 417.73M191.38 418.50L191.38 424.20M170.07 412.79L167.22 417.73M154.48 397.20L149.55 400.05M148.78 375.90L143.07 375.90M154.48 354.60L149.55 351.75M170.07 339.01L167.22 334.07" stroke="#FFFFFF" stroke-opacity="0.5" stroke-width="0.7" fill="none"/>
<path d="M191.53 375.32L192.28 332.81A43.1 43.1 0 0 1 212.14 338.13Z" fill="#FFFF00" stroke="#C4C4C4" stroke-width="0.7" stroke-linejoin="round"/>
<path d="M191.80 375.48L213.70 339.03A43.1 43.1 0 0 1 228.24 353.57Z" fill="#FFD900" stroke="#C4C4C4" stroke-width="0.7" stroke-linejoin="round"/>
<path d="M191.95 375.74L229.14 355.14A43.1 43.1 0 0 1 234.47 375.00Z" fill="#FFFF00" stroke="#C4C4C4" stroke-width="0.7" stroke-linejoin="round"/>
<path d="M191.95 376.06L234.47 376.80A43.1 43.1 0 0 1 229.14 396.66Z" fill="#FFFF00" stroke="#C4C4C4" stroke-width="0.7" stroke-linejoin="round"/>
<path d="M191.80 376.32L228.24 398.23A43.1 43.1 0 0 1 213.70 412.77Z" fill="#FFFF00" stroke="#C4C4C4" stroke-width="0.7" stroke-linejoin="round"/>
<path d="M191.53 376.48L212.14 413.67A43.1 43.1 0 0 1 192.28 418.99Z" fill="#FFFF00" stroke="#C4C4C4" stroke-width="0.7" stroke-linejoin="round"/>
<path d="M191.22 376.48L190.47 418.99A43.1 43.1 0 0 1 170.61 413.67Z" fill="#FFFF00" stroke="#C4C4C4" stroke-width="0.7" stroke-linejoin="round"/>
<path d="M190.95 376.32L169.05 412.77A43.1 43.1 0 0 1 154.51 398.23Z" fill="#FFFF00" stroke="#C4C4C4" stroke-width="0.7" stroke-linejoin="round"/>
<path d="M190.80 376.06L153.61 396.66A43.1 43.1 0 0 1 148.28 376.80Z" fill="#FFE100" stroke="#C4C4C4" stroke-width="0.7" stroke-linejoin="round"/>
<path d="M190.80 375.74L148.28 375.00A43.1 43.1 0 0 1 153.61 355.14Z" fill="#FFE700" stroke="#C4C4C4" stroke-width="0.7" stroke-linejoin="round"/>
<path d="M190.95 375.48L154.51 353.57A43.1 43.1 0 0 1 169.05 339.03Z" fill="#FFFF00" stroke="#C4C4C4" stroke-width="0.7" stroke-linejoin="round"/>
<path d="M191.22 375.32L170.61 338.13A43.1 43.1 0 0 1 190.47 332.81Z" fill="#FFFF00" stroke="#C4C4C4" stroke-width="0.7" stroke-linejoin="round"/>
<text x="181.28" y="327.20" text-anchor="middle" font-size="15.4" >12</text>
<text x="245.88" y="365.70" text-anchor="middle" font-size="15.4" >3</text>
<text x="207.57" y="438.20" text-anchor="middle" font-size="15.4" >6</text>
<text x="137.57" y="394.60" text-anchor="middle" font-size="15.4" >9</text>
<circle cx="322.00" cy="375.90" r="54.5" fill="none" stroke="#E2E2EA" stroke-width="0.75"/>
<path d="M368.65 363.40L374.64 361.79M334.50 422.55L336.11 428.54M275.35 388.40L269.36 390.01M309.50 329.25L307.89 323.26" stroke="#E6E6EC" stroke-width="0.7" fill="none"/>
<path d="M322.00 375.90L322.00 327.60A48.3 48.3 0 0 1 346.15 334.07Z" fill="#FB0000"/>
<path d="M322.00 375.90L346.15 334.07A48.3 48.3 0 0 1 363.83 351.75Z" fill="#0CB7F2"/>
<path d="M322.00 375.90L363.83 351.75A48.3 48.3 0 0 1 370.30 375.90Z" fill="#4169E1"/>
<path d="M322.00 375.90L370.30 375.90A48.3 48.3 0 0 1 363.83 400.05Z" fill="#4169E1"/>
<path d="M322.00 375.90L363.83 400.05A48.3 48.3 0 0 1 346.15 417.73Z" fill="#4169E1"/>
<path d="M322.00 375.90L346.15 417.73A48.3 48.3 0 0 1 322.00 424.20Z" fill="#4169E1"/>
<path d="M322.00 375.90L322.00 424.20A48.3 48.3 0 0 1 297.85 417.73Z" fill="#4169E1"/>
<path d="M322.00 375.90L297.85 417.73A48.3 48.3 0 0 1 280.17 400.05Z" fill="#0CB7F2"/>
<path d="M322.00 375.90L280.17 400.05A48.3 48.3 0 0 1 273.70 375.90Z" fill="#FB0000"/>
<path d="M322.00 375.90L273.70 375.90A48.3 48.3 0 0 1 280.17 351.75Z" fill="#FB0000"/>
<path d="M322.00 375.90L280.17 351.75A48.3 48.3 0 0 1 297.85 334.07Z" fill="#FB0000"/>
<path d="M322.00 375.90L297.85 334.07A48.3 48.3 0 0 1 322.00 327.60Z" fill="#FB0000"/>
<path d="M322.00 333.30L322.00 327.60M343.30 339.01L346.15 334.07M358.89 354.60L363.83 351.75M364.60 375.90L370.30 375.90M358.89 397.20L363.83 400.05M343.30 412.79L346.15 417.73M322.00 418.50L322.00 424.20M300.70 412.79L297.85 417.73M285.11 397.20L280.17 400.05M279.40 375.90L273.70 375.90M285.11 354.60L280.17 351.75M300.70 339.01L297.85 334.07" stroke="#FFFFFF" stroke-opacity="0.5" stroke-width="0.7" fill="none"/>
<path d="M322.16 375.32L322.90 332.81A43.1 43.1 0 0 1 342.76 338.13Z" fill="#FFC100" stroke="#C4C4C4" stroke-width="0.7" stroke-linejoin="round"/>
<path d="M322.42 375.48L344.33 339.03A43.1 43.1 0 0 1 358.87 353.57Z" fill="#FFCA00" stroke="#C4C4C4" stroke-width="0.7" stroke-linejoin="round"/>
<path d="M322.58 375.74L359.77 355.14A43.1 43.1 0 0 1 365.09 375.00Z" fill="#FFFF00" stroke="#C4C4C4" stroke-width="0.7" stroke-linejoin="round"/>
<path d="M322.58 376.06L365.09 376.80A43.1 43.1 0 0 1 359.77 396.66Z" fill="#FFFF00" stroke="#C4C4C4" stroke-width="0.7" stroke-linejoin="round"/>
<path d="M322.42 376.32L358.87 398.23A43.1 43.1 0 0 1 344.33 412.77Z" fill="#FFFF00" stroke="#C4C4C4" stroke-width="0.7" stroke-linejoin="round"/>
<path d="M322.16 376.48L342.76 413.67A43.1 43.1 0 0 1 322.90 418.99Z" fill="#FFFF00" stroke="#C4C4C4" stroke-width="0.7" stroke-linejoin="round"/>
<path d="M321.84 376.48L321.10 418.99A43.1 43.1 0 0 1 301.24 413.67Z" fill="#FFFF00" stroke="#C4C4C4" stroke-width="0.7" stroke-linejoin="round"/>
<path d="M321.58 376.32L299.67 412.77A43.1 43.1 0 0 1 285.13 398.23Z" fill="#FFD000" stroke="#C4C4C4" stroke-width="0.7" stroke-linejoin="round"/>
<path d="M321.42 376.06L284.23 396.66A43.1 43.1 0 0 1 278.91 376.80Z" fill="#FF9B00" stroke="#C4C4C4" stroke-width="0.7" stroke-linejoin="round"/>
<path d="M321.42 375.74L278.91 375.00A43.1 43.1 0 0 1 284.23 355.14Z" fill="#FFA800" stroke="#C4C4C4" stroke-width="0.7" stroke-linejoin="round"/>
<path d="M321.58 375.48L285.13 353.57A43.1 43.1 0 0 1 299.67 339.03Z" fill="#FFCA00" stroke="#C4C4C4" stroke-width="0.7" stroke-linejoin="round"/>
<path d="M321.84 375.32L301.24 338.13A43.1 43.1 0 0 1 321.10 332.81Z" fill="#FFC400" stroke="#C4C4C4" stroke-width="0.7" stroke-linejoin="round"/>
<text x="311.90" y="327.20" text-anchor="middle" font-size="15.4" >12</text>
<text x="376.50" y="365.70" text-anchor="middle" font-size="15.4" >3</text>
<text x="338.20" y="438.20" text-anchor="middle" font-size="15.4" >6</text>
<text x="268.20" y="394.60" text-anchor="middle" font-size="15.4" >9</text>
<circle cx="452.62" cy="375.90" r="54.5" fill="none" stroke="#E2E2EA" stroke-width="0.75"/>
<path d="M499.28 363.40L505.27 361.79M465.13 422.55L466.73 428.54M405.97 388.40L399.98 390.01M440.12 329.25L438.52 323.26" stroke="#E6E6EC" stroke-width="0.7" fill="none"/>
<path d="M452.62 375.90L452.62 327.60A48.3 48.3 0 0 1 476.77 334.07Z" fill="#FB0000"/>
<path d="M452.62 375.90L476.77 334.07A48.3 48.3 0 0 1 494.45 351.75Z" fill="#0CB7F2"/>
<path d="M452.62 375.90L494.45 351.75A48.3 48.3 0 0 1 500.93 375.90Z" fill="#4169E1"/>
<path d="M452.62 375.90L500.93 375.90A48.3 48.3 0 0 1 494.45 400.05Z" fill="#4169E1"/>
<path d="M452.62 375.90L494.45 400.05A48.3 48.3 0 0 1 476.77 417.73Z" fill="#4169E1"/>
<path d="M452.62 375.90L476.77 417.73A48.3 48.3 0 0 1 452.62 424.20Z" fill="#4169E1"/>
<path d="M452.62 375.90L452.62 424.20A48.3 48.3 0 0 1 428.48 417.73Z" fill="#0CB7F2"/>
<path d="M452.62 375.90L428.48 417.73A48.3 48.3 0 0 1 410.80 400.05Z" fill="#FB0000"/>
<path d="M452.62 375.90L410.80 400.05A48.3 48.3 0 0 1 404.32 375.90Z" fill="#FB0000"/>
<path d="M452.62 375.90L404.32 375.90A48.3 48.3 0 0 1 410.80 351.75Z" fill="#FB0000"/>
<path d="M452.62 375.90L410.80 351.75A48.3 48.3 0 0 1 428.47 334.07Z" fill="#FB0000"/>
<path d="M452.62 375.90L428.47 334.07A48.3 48.3 0 0 1 452.62 327.60Z" fill="#FB0000"/>
<path d="M452.62 333.30L452.62 327.60M473.93 339.01L476.77 334.07M489.52 354.60L494.45 351.75M495.23 375.90L500.93 375.90M489.52 397.20L494.45 400.05M473.93 412.79L476.77 417.73M452.62 418.50L452.62 424.20M431.32 412.79L428.48 417.73M415.73 397.20L410.80 400.05M410.02 375.90L404.32 375.90M415.73 354.60L410.80 351.75M431.32 339.01L428.47 334.07" stroke="#FFFFFF" stroke-opacity="0.5" stroke-width="0.7" fill="none"/>
<path d="M452.78 375.32L453.53 332.81A43.1 43.1 0 0 1 473.39 338.13Z" fill="#FFC100" stroke="#C4C4C4" stroke-width="0.7" stroke-linejoin="round"/>
<path d="M453.05 375.48L474.95 339.03A43.1 43.1 0 0 1 489.49 353.57Z" fill="#FFD000" stroke="#C4C4C4" stroke-width="0.7" stroke-linejoin="round"/>
<path d="M453.20 375.74L490.39 355.14A43.1 43.1 0 0 1 495.72 375.00Z" fill="#FFFF00" stroke="#C4C4C4" stroke-width="0.7" stroke-linejoin="round"/>
<path d="M453.20 376.06L495.72 376.80A43.1 43.1 0 0 1 490.39 396.66Z" fill="#FFFF00" stroke="#C4C4C4" stroke-width="0.7" stroke-linejoin="round"/>
<path d="M453.05 376.32L489.49 398.23A43.1 43.1 0 0 1 474.95 412.77Z" fill="#FFFF00" stroke="#C4C4C4" stroke-width="0.7" stroke-linejoin="round"/>
<path d="M452.78 376.48L473.39 413.67A43.1 43.1 0 0 1 453.53 418.99Z" fill="#FFF300" stroke="#C4C4C4" stroke-width="0.7" stroke-linejoin="round"/>
<path d="M452.47 376.48L451.72 418.99A43.1 43.1 0 0 1 431.86 413.67Z" fill="#FFE100" stroke="#C4C4C4" stroke-width="0.7" stroke-linejoin="round"/>
<path d="M452.20 376.32L430.30 412.77A43.1 43.1 0 0 1 415.76 398.23Z" fill="#FFA200" stroke="#C4C4C4" stroke-width="0.7" stroke-linejoin="round"/>
<path d="M452.05 376.06L414.86 396.66A43.1 43.1 0 0 1 409.53 376.80Z" fill="#FFA500" stroke="#C4C4C4" stroke-width="0.7" stroke-linejoin="round"/>
<path d="M452.05 375.74L409.53 375.00A43.1 43.1 0 0 1 414.86 355.14Z" fill="#FFB400" stroke="#C4C4C4" stroke-width="0.7" stroke-linejoin="round"/>
<path d="M452.20 375.48L415.76 353.57A43.1 43.1 0 0 1 430.30 339.03Z" fill="#FFC100" stroke="#C4C4C4" stroke-width="0.7" stroke-linejoin="round"/>
<path d="M452.47 375.32L431.86 338.13A43.1 43.1 0 0 1 451.72 332.81Z" fill="#FFC100" stroke="#C4C4C4" stroke-width="0.7" stroke-linejoin="round"/>
<text x="442.52" y="327.20" text-anchor="middle" font-size="15.4" >12</text>
<text x="507.12" y="365.70" text-anchor="middle" font-size="15.4" >3</text>
<text x="468.82" y="438.20" text-anchor="middle" font-size="15.4" >6</text>
<text x="398.82" y="394.60" text-anchor="middle" font-size="15.4" >9</text>
<circle cx="583.25" cy="375.90" r="54.5" fill="none" stroke="#E2E2EA" stroke-width="0.75"/>
<path d="M629.90 363.40L635.89 361.79M595.75 422.55L597.36 428.54M536.60 388.40L530.61 390.01M570.75 329.25L569.14 323.26" stroke="#E6E6EC" stroke-width="0.7" fill="none"/>
<path d="M583.25 375.90L583.25 327.60A48.3 48.3 0 0 1 607.40 334.07Z" fill="#FFFF00"/>
<path d="M583.25 375.90L607.40 334.07A48.3 48.3 0 0 1 625.08 351.75Z" fill="#FFA500"/>
<path d="M583.25 375.90L625.08 351.75A48.3 48.3 0 0 1 631.55 375.90Z" fill="#4169E1"/>
<path d="M583.25 375.90L631.55 375.90A48.3 48.3 0 0 1 625.08 400.05Z" fill="#0CB7F2"/>
<path d="M583.25 375.90L625.08 400.05A48.3 48.3 0 0 1 607.40 417.73Z" fill="#FB0000"/>
<path d="M583.25 375.90L607.40 417.73A48.3 48.3 0 0 1 583.25 424.20Z" fill="#FB0000"/>
<path d="M583.25 375.90L583.25 424.20A48.3 48.3 0 0 1 559.10 417.73Z" fill="#FB0000"/>
<path d="M583.25 375.90L559.10 417.73A48.3 48.3 0 0 1 541.42 400.05Z" fill="#FB0000"/>
<path d="M583.25 375.90L541.42 400.05A48.3 48.3 0 0 1 534.95 375.90Z" fill="#FB0000"/>
<path d="M583.25 375.90L534.95 375.90A48.3 48.3 0 0 1 541.42 351.75Z" fill="#FB0000"/>
<path d="M583.25 375.90L541.42 351.75A48.3 48.3 0 0 1 559.10 334.07Z" fill="#FB0000"/>
<path d="M583.25 375.90L559.10 334.07A48.3 48.3 0 0 1 583.25 327.60Z" fill="#FB0000"/>
<path d="M583.25 333.30L583.25 327.60M604.55 339.01L607.40 334.07M620.14 354.60L625.08 351.75M625.85 375.90L631.55 375.90M620.14 397.20L625.08 400.05M604.55 412.79L607.40 417.73M583.25 418.50L583.25 424.20M561.95 412.79L559.10 417.73M546.36 397.20L541.42 400.05M540.65 375.90L534.95 375.90M546.36 354.60L541.42 351.75M561.95 339.01L559.10 334.07" stroke="#FFFFFF" stroke-opacity="0.5" stroke-width="0.7" fill="none"/>
<path d="M583.41 375.32L584.15 332.81A43.1 43.1 0 0 1 604.01 338.13Z" fill="#FFE100" stroke="#C4C4C4" stroke-width="0.7" stroke-linejoin="round"/>
<path d="M583.67 375.48L605.58 339.03A43.1 43.1 0 0 1 620.12 353.57Z" fill="#FFE400" stroke="#C4C4C4" stroke-width="0.7" stroke-linejoin="round"/>
<path d="M583.83 375.74L621.02 355.14A43.1 43.1 0 0 1 626.34 375.00Z" fill="#FFFC00" stroke="#C4C4C4" stroke-width="0.7" stroke-linejoin="round"/>
<path d="M583.83 376.06L626.34 376.80A43.1 43.1 0 0 1 621.02 396.66Z" fill="#FFE100" stroke="#C4C4C4" stroke-width="0.7" stroke-linejoin="round"/>
<path d="M583.67 376.32L620.12 398.23A43.1 43.1 0 0 1 605.58 412.77Z" fill="#FFA800" stroke="#C4C4C4" stroke-width="0.7" stroke-linejoin="round"/>
<path d="M583.41 376.48L604.01 413.67A43.1 43.1 0 0 1 584.15 418.99Z" fill="#FFA200" stroke="#C4C4C4" stroke-width="0.7" stroke-linejoin="round"/>
<path d="M583.09 376.48L582.35 418.99A43.1 43.1 0 0 1 562.49 413.67Z" fill="#FF9B00" stroke="#C4C4C4" stroke-width="0.7" stroke-linejoin="round"/>
<path d="M582.83 376.32L560.92 412.77A43.1 43.1 0 0 1 546.38 398.23Z" fill="#FF8200" stroke="#C4C4C4" stroke-width="0.7" stroke-linejoin="round"/>
<path d="M582.67 376.06L545.48 396.66A43.1 43.1 0 0 1 540.16 376.80Z" fill="#FF8900" stroke="#C4C4C4" stroke-width="0.7" stroke-linejoin="round"/>
<path d="M582.67 375.74L540.16 375.00A43.1 43.1 0 0 1 545.48 355.14Z" fill="#FFC100" stroke="#C4C4C4" stroke-width="0.7" stroke-linejoin="round"/>
<path d="M582.83 375.48L546.38 353.57A43.1 43.1 0 0 1 560.92 339.03Z" fill="#FFC700" stroke="#C4C4C4" stroke-width="0.7" stroke-linejoin="round"/>
<path d="M583.09 375.32L562.49 338.13A43.1 43.1 0 0 1 582.35 332.81Z" fill="#FFD000" stroke="#C4C4C4" stroke-width="0.7" stroke-linejoin="round"/>
<text x="573.15" y="327.20" text-anchor="middle" font-size="15.4" >12</text>
<text x="637.75" y="365.70" text-anchor="middle" font-size="15.4" >3</text>
<text x="599.45" y="438.20" text-anchor="middle" font-size="15.4" >6</text>
<text x="529.45" y="394.60" text-anchor="middle" font-size="15.4" >9</text>
<circle cx="713.88" cy="375.90" r="54.5" fill="none" stroke="#E2E2EA" stroke-width="0.75"/>
<path d="M760.53 363.40L766.52 361.79M726.38 422.55L727.98 428.54M667.22 388.40L661.23 390.01M701.37 329.25L699.77 323.26" stroke="#E6E6EC" stroke-width="0.7" fill="none"/>
<path d="M713.88 375.90L713.88 327.60A48.3 48.3 0 0 1 738.02 334.07Z" fill="#FFFF00"/>
<path d="M713.88 375.90L738.02 334.07A48.3 48.3 0 0 1 755.70 351.75Z" fill="#FB0000"/>
<path d="M713.88 375.90L755.70 351.75A48.3 48.3 0 0 1 762.17 375.90Z" fill="#FB0000"/>
<path d="M713.88 375.90L762.17 375.90A48.3 48.3 0 0 1 755.70 400.05Z" fill="#FB0000"/>
<path d="M713.88 375.90L755.70 400.05A48.3 48.3 0 0 1 738.02 417.73Z" fill="#FB0000"/>
<path d="M713.88 375.90L738.02 417.73A48.3 48.3 0 0 1 713.88 424.20Z" fill="#FB0000"/>
<path d="M713.88 375.90L713.88 424.20A48.3 48.3 0 0 1 689.73 417.73Z" fill="#FB0000"/>
<path d="M713.88 375.90L689.73 417.73A48.3 48.3 0 0 1 672.05 400.05Z" fill="#FB0000"/>
<path d="M713.88 375.90L672.05 400.05A48.3 48.3 0 0 1 665.58 375.90Z" fill="#FB0000"/>
<path d="M713.88 375.90L665.58 375.90A48.3 48.3 0 0 1 672.05 351.75Z" fill="#FB0000"/>
<path d="M713.88 375.90L672.05 351.75A48.3 48.3 0 0 1 689.73 334.07Z" fill="#FFFF00"/>
<path d="M713.88 375.90L689.73 334.07A48.3 48.3 0 0 1 713.88 327.60Z" fill="#FFFF00"/>
<path d="M713.88 333.30L713.88 327.60M735.17 339.01L738.02 334.07M750.77 354.60L755.70 351.75M756.48 375.90L762.17 375.90M750.77 397.20L755.70 400.05M735.17 412.79L738.02 417.73M713.88 418.50L713.88 424.20M692.58 412.79L689.73 417.73M676.98 397.20L672.05 400.05M671.27 375.90L665.58 375.90M676.98 354.60L672.05 351.75M692.57 339.01L689.73 334.07" stroke="#FFFFFF" stroke-opacity="0.5" stroke-width="0.7" fill="none"/>
<path d="M714.03 375.32L714.78 332.81A43.1 43.1 0 0 1 734.64 338.13Z" fill="#FFE100" stroke="#C4C4C4" stroke-width="0.7" stroke-linejoin="round"/>
<path d="M714.30 375.48L736.20 339.03A43.1 43.1 0 0 1 750.74 353.57Z" fill="#FFA800" stroke="#C4C4C4" stroke-width="0.7" stroke-linejoin="round"/>
<path d="M714.45 375.74L751.64 355.14A43.1 43.1 0 0 1 756.97 375.00Z" fill="#FFAB00" stroke="#C4C4C4" stroke-width="0.7" stroke-linejoin="round"/>
<path d="M714.45 376.06L756.97 376.80A43.1 43.1 0 0 1 751.64 396.66Z" fill="#FFB100" stroke="#C4C4C4" stroke-width="0.7" stroke-linejoin="round"/>
<path d="M714.30 376.32L750.74 398.23A43.1 43.1 0 0 1 736.20 412.77Z" fill="#FFB700" stroke="#C4C4C4" stroke-width="0.7" stroke-linejoin="round"/>
<path d="M714.03 376.48L734.64 413.67A43.1 43.1 0 0 1 714.78 418.99Z" fill="#FFC700" stroke="#C4C4C4" stroke-width="0.7" stroke-linejoin="round"/>
<path d="M713.72 376.48L712.97 418.99A43.1 43.1 0 0 1 693.11 413.67Z" fill="#FFC700" stroke="#C4C4C4" stroke-width="0.7" stroke-linejoin="round"/>
<path d="M713.45 376.32L691.55 412.77A43.1 43.1 0 0 1 677.01 398.23Z" fill="#FFC100" stroke="#C4C4C4" stroke-width="0.7" stroke-linejoin="round"/>
<path d="M713.30 376.06L676.11 396.66A43.1 43.1 0 0 1 670.78 376.80Z" fill="#FFC100" stroke="#C4C4C4" stroke-width="0.7" stroke-linejoin="round"/>
<path d="M713.30 375.74L670.78 375.00A43.1 43.1 0 0 1 676.11 355.14Z" fill="#FFC700" stroke="#C4C4C4" stroke-width="0.7" stroke-linejoin="round"/>
<path d="M713.45 375.48L677.01 353.57A43.1 43.1 0 0 1 691.55 339.03Z" fill="#FFE300" stroke="#C4C4C4" stroke-width="0.7" stroke-linejoin="round"/>
<path d="M713.72 375.32L693.11 338.13A43.1 43.1 0 0 1 712.97 332.81Z" fill="#FFE700" stroke="#C4C4C4" stroke-width="0.7" stroke-linejoin="round"/>
<text x="703.77" y="327.20" text-anchor="middle" font-size="15.4" >12</text>
<text x="768.38" y="365.70" text-anchor="middle" font-size="15.4" >3</text>
<text x="730.08" y="438.20" text-anchor="middle" font-size="15.4" >6</text>
<text x="660.08" y="394.60" text-anchor="middle" font-size="15.4" >9</text>
<circle cx="844.50" cy="375.90" r="54.5" fill="none" stroke="#E2E2EA" stroke-width="0.75"/>
<path d="M891.15 363.40L897.14 361.79M857.00 422.55L858.61 428.54M797.85 388.40L791.86 390.01M832.00 329.25L830.39 323.26" stroke="#E6E6EC" stroke-width="0.7" fill="none"/>
<path d="M844.50 375.90L844.50 327.60A48.3 48.3 0 0 1 868.65 334.07Z" fill="#FB0000"/>
<path d="M844.50 375.90L868.65 334.07A48.3 48.3 0 0 1 886.33 351.75Z" fill="#FB0000"/>
<path d="M844.50 375.90L886.33 351.75A48.3 48.3 0 0 1 892.80 375.90Z" fill="#FB0000"/>
<path d="M844.50 375.90L892.80 375.90A48.3 48.3 0 0 1 886.33 400.05Z" fill="#FB0000"/>
<path d="M844.50 375.90L886.33 400.05A48.3 48.3 0 0 1 868.65 417.73Z" fill="#FB0000"/>
<path d="M844.50 375.90L868.65 417.73A48.3 48.3 0 0 1 844.50 424.20Z" fill="#FB0000"/>
<path d="M844.50 375.90L844.50 424.20A48.3 48.3 0 0 1 820.35 417.73Z" fill="#FB0000"/>
<path d="M844.50 375.90L820.35 417.73A48.3 48.3 0 0 1 802.67 400.05Z" fill="#FB0000"/>
<path d="M844.50 375.90L802.67 400.05A48.3 48.3 0 0 1 796.20 375.90Z" fill="#FB0000"/>
<path d="M844.50 375.90L796.20 375.90A48.3 48.3 0 0 1 802.67 351.75Z" fill="#FFFF00"/>
<path d="M844.50 375.90L802.67 351.75A48.3 48.3 0 0 1 820.35 334.07Z" fill="#FFA500"/>
<path d="M844.50 375.90L820.35 334.07A48.3 48.3 0 0 1 844.50 327.60Z" fill="#FFFF00"/>
<path d="M844.50 333.30L844.50 327.60M865.80 339.01L868.65 334.07M881.39 354.60L886.33 351.75M887.10 375.90L892.80 375.90M881.39 397.20L886.33 400.05M865.80 412.79L868.65 417.73M844.50 418.50L844.50 424.20M823.20 412.79L820.35 417.73M807.61 397.20L802.67 400.05M801.90 375.90L796.20 375.90M807.61 354.60L802.67 351.75M823.20 339.01L820.35 334.07" stroke="#FFFFFF" stroke-opacity="0.5" stroke-width="0.7" fill="none"/>
<path d="M844.66 375.32L845.40 332.81A43.1 43.1 0 0 1 865.26 338.13Z" fill="#FFA800" stroke="#C4C4C4" stroke-width="0.7" stroke-linejoin="round"/>
<path d="M844.92 375.48L866.83 339.03A43.1 43.1 0 0 1 881.37 353.57Z" fill="#FFB400" stroke="#C4C4C4" stroke-width="0.7" stroke-linejoin="round"/>
<path d="M845.08 375.74L882.27 355.14A43.1 43.1 0 0 1 887.59 375.00Z" fill="#FFC400" stroke="#C4C4C4" stroke-width="0.7" stroke-linejoin="round"/>
<path d="M845.08 376.06L887.59 376.80A43.1 43.1 0 0 1 882.27 396.66Z" fill="#FFB700" stroke="#C4C4C4" stroke-width="0.7" stroke-linejoin="round"/>
<path d="M844.92 376.32L881.37 398.23A43.1 43.1 0 0 1 866.83 412.77Z" fill="#FFB100" stroke="#C4C4C4" stroke-width="0.7" stroke-linejoin="round"/>
<path d="M844.66 376.48L865.26 413.67A43.1 43.1 0 0 1 845.40 418.99Z" fill="#FFC100" stroke="#C4C4C4" stroke-width="0.7" stroke-linejoin="round"/>
<path d="M844.34 376.48L843.60 418.99A43.1 43.1 0 0 1 823.74 413.67Z" fill="#FFD000" stroke="#C4C4C4" stroke-width="0.7" stroke-linejoin="round"/>
<path d="M844.08 376.32L822.17 412.77A43.1 43.1 0 0 1 807.63 398.23Z" fill="#FFCA00" stroke="#C4C4C4" stroke-width="0.7" stroke-linejoin="round"/>
<path d="M843.92 376.06L806.73 396.66A43.1 43.1 0 0 1 801.41 376.80Z" fill="#FFC400" stroke="#C4C4C4" stroke-width="0.7" stroke-linejoin="round"/>
<path d="M843.92 375.74L801.41 375.00A43.1 43.1 0 0 1 806.73 355.14Z" fill="#FFDF00" stroke="#C4C4C4" stroke-width="0.7" stroke-linejoin="round"/>
<path d="M844.08 375.48L807.63 353.57A43.1 43.1 0 0 1 822.17 339.03Z" fill="#FFEA00" stroke="#C4C4C4" stroke-width="0.7" stroke-linejoin="round"/>
<path d="M844.34 375.32L823.74 338.13A43.1 43.1 0 0 1 843.60 332.81Z" fill="#FFDF00" stroke="#C4C4C4" stroke-width="0.7" stroke-linejoin="round"/>
<text x="834.40" y="327.20" text-anchor="middle" font-size="15.4" >12</text>
<text x="899.00" y="365.70" text-anchor="middle" font-size="15.4" >3</text>
<text x="860.70" y="438.20" text-anchor="middle" font-size="15.4" >6</text>
<text x="790.70" y="394.60" text-anchor="middle" font-size="15.4" >9</text>
<circle cx="975.12" cy="375.90" r="54.5" fill="none" stroke="#E2E2EA" stroke-width="0.75"/>
<path d="M1021.78 363.40L1027.77 361.79M987.63 422.55L989.23 428.54M928.47 388.40L922.48 390.01M962.62 329.25L961.02 323.26" stroke="#E6E6EC" stroke-width="0.7" fill="none"/>
<path d="M975.12 375.90L975.12 327.60A48.3 48.3 0 0 1 999.27 334.07Z" fill="#FFFF00"/>
<path d="M975.12 375.90L999.27 334.07A48.3 48.3 0 0 1 1016.95 351.75Z" fill="#FB0000"/>
<path d="M975.12 375.90L1016.95 351.75A48.3 48.3 0 0 1 1023.42 375.90Z" fill="#FB0000"/>
<path d="M975.12 375.90L1023.42 375.90A48.3 48.3 0 0 1 1016.95 400.05Z" fill="#FB0000"/>
<path d="M975.12 375.90L1016.95 400.05A48.3 48.3 0 0 1 999.27 417.73Z" fill="#FB0000"/>
<path d="M975.12 375.90L999.27 417.73A48.3 48.3 0 0 1 975.12 424.20Z" fill="#FB0000"/>
<path d="M975.12 375.90L975.12 424.20A48.3 48.3 0 0 1 950.98 417.73Z" fill="#FB0000"/>
<path d="M975.12 375.90L950.98 417.73A48.3 48.3 0 0 1 933.30 400.05Z" fill="#FB0000"/>
<path d="M975.12 375.90L933.30 400.05A48.3 48.3 0 0 1 926.83 375.90Z" fill="#FB0000"/>
<path d="M975.12 375.90L926.83 375.90A48.3 48.3 0 0 1 933.30 351.75Z" fill="#FB0000"/>
<path d="M975.12 375.90L933.30 351.75A48.3 48.3 0 0 1 950.98 334.07Z" fill="#FFFF00"/>
<path d="M975.12 375.90L950.98 334.07A48.3 48.3 0 0 1 975.12 327.60Z" fill="#FFFF00"/>
<path d="M975.12 333.30L975.12 327.60M996.42 339.01L999.27 334.07M1012.02 354.60L1016.95 351.75M1017.73 375.90L1023.42 375.90M1012.02 397.20L1016.95 400.05M996.42 412.79L999.27 417.73M975.12 418.50L975.12 424.20M953.83 412.79L950.98 417.73M938.23 397.20L933.30 400.05M932.52 375.90L926.83 375.90M938.23 354.60L933.30 351.75M953.82 339.01L950.98 334.07" stroke="#FFFFFF" stroke-opacity="0.5" stroke-width="0.7" fill="none"/>
<path d="M975.28 375.32L976.03 332.81A43.1 43.1 0 0 1 995.89 338.13Z" fill="#FFE600" stroke="#C4C4C4" stroke-width="0.7" stroke-linejoin="round"/>
<path d="M975.55 375.48L997.45 339.03A43.1 43.1 0 0 1 1011.99 353.57Z" fill="#FFA200" stroke="#C4C4C4" stroke-width="0.7" stroke-linejoin="round"/>
<path d="M975.70 375.74L1012.89 355.14A43.1 43.1 0 0 1 1018.22 375.00Z" fill="#FFA500" stroke="#C4C4C4" stroke-width="0.7" stroke-linejoin="round"/>
<path d="M975.70 376.06L1018.22 376.80A43.1 43.1 0 0 1 1012.89 396.66Z" fill="#FFA200" stroke="#C4C4C4" stroke-width="0.7" stroke-linejoin="round"/>
<path d="M975.55 376.32L1011.99 398.23A43.1 43.1 0 0 1 997.45 412.77Z" fill="#FF7A00" stroke="#C4C4C4" stroke-width="0.7" stroke-linejoin="round"/>
<path d="M975.28 376.48L995.89 413.67A43.1 43.1 0 0 1 976.03 418.99Z" fill="#FF8600" stroke="#C4C4C4" stroke-width="0.7" stroke-linejoin="round"/>
<path d="M974.97 376.48L974.22 418.99A43.1 43.1 0 0 1 954.36 413.67Z" fill="#FF8900" stroke="#C4C4C4" stroke-width="0.7" stroke-linejoin="round"/>
<path d="M974.70 376.32L952.80 412.77A43.1 43.1 0 0 1 938.26 398.23Z" fill="#FF8900" stroke="#C4C4C4" stroke-width="0.7" stroke-linejoin="round"/>
<path d="M974.55 376.06L937.36 396.66A43.1 43.1 0 0 1 932.03 376.80Z" fill="#FF8D00" stroke="#C4C4C4" stroke-width="0.7" stroke-linejoin="round"/>
<path d="M974.55 375.74L932.03 375.00A43.1 43.1 0 0 1 937.36 355.14Z" fill="#FFD000" stroke="#C4C4C4" stroke-width="0.7" stroke-linejoin="round"/>
<path d="M974.70 375.48L938.26 353.57A43.1 43.1 0 0 1 952.80 339.03Z" fill="#FFE400" stroke="#C4C4C4" stroke-width="0.7" stroke-linejoin="round"/>
<path d="M974.97 375.32L954.36 338.13A43.1 43.1 0 0 1 974.22 332.81Z" fill="#FFEA00" stroke="#C4C4C4" stroke-width="0.7" stroke-linejoin="round"/>
<text x="965.02" y="327.20" text-anchor="middle" font-size="15.4" >12</text>
<text x="1029.62" y="365.70" text-anchor="middle" font-size="15.4" >3</text>
<text x="991.33" y="438.20" text-anchor="middle" font-size="15.4" >6</text>
<text x="921.33" y="394.60" text-anchor="middle" font-size="15.4" >9</text>
<circle cx="1105.75" cy="375.90" r="54.5" fill="none" stroke="#E2E2EA" stroke-width="0.75"/>
<path d="M1152.40 363.40L1158.39 361.79M1118.25 422.55L1119.86 428.54M1059.10 388.40L1053.11 390.01M1093.25 329.25L1091.64 323.26" stroke="#E6E6EC" stroke-width="0.7" fill="none"/>
<path d="M1105.75 375.90L1105.75 327.60A48.3 48.3 0 0 1 1129.90 334.07Z" fill="#FB0000"/>
<path d="M1105.75 375.90L1129.90 334.07A48.3 48.3 0 0 1 1147.58 351.75Z" fill="#FB0000"/>
<path d="M1105.75 375.90L1147.58 351.75A48.3 48.3 0 0 1 1154.05 375.90Z" fill="#FB0000"/>
<path d="M1105.75 375.90L1154.05 375.90A48.3 48.3 0 0 1 1147.58 400.05Z" fill="#FB0000"/>
<path d="M1105.75 375.90L1147.58 400.05A48.3 48.3 0 0 1 1129.90 417.73Z" fill="#FB0000"/>
<path d="M1105.75 375.90L1129.90 417.73A48.3 48.3 0 0 1 1105.75 424.20Z" fill="#FB0000"/>
<path d="M1105.75 375.90L1105.75 424.20A48.3 48.3 0 0 1 1081.60 417.73Z" fill="#FB0000"/>
<path d="M1105.75 375.90L1081.60 417.73A48.3 48.3 0 0 1 1063.92 400.05Z" fill="#FB0000"/>
<path d="M1105.75 375.90L1063.92 400.05A48.3 48.3 0 0 1 1057.45 375.90Z" fill="#FB0000"/>
<path d="M1105.75 375.90L1057.45 375.90A48.3 48.3 0 0 1 1063.92 351.75Z" fill="#FB0000"/>
<path d="M1105.75 375.90L1063.92 351.75A48.3 48.3 0 0 1 1081.60 334.07Z" fill="#FB0000"/>
<path d="M1105.75 375.90L1081.60 334.07A48.3 48.3 0 0 1 1105.75 327.60Z" fill="#FB0000"/>
<path d="M1105.75 333.30L1105.75 327.60M1127.05 339.01L1129.90 334.07M1142.64 354.60L1147.58 351.75M1148.35 375.90L1154.05 375.90M1142.64 397.20L1147.58 400.05M1127.05 412.79L1129.90 417.73M1105.75 418.50L1105.75 424.20M1084.45 412.79L1081.60 417.73M1068.86 397.20L1063.92 400.05M1063.15 375.90L1057.45 375.90M1068.86 354.60L1063.92 351.75M1084.45 339.01L1081.60 334.07" stroke="#FFFFFF" stroke-opacity="0.5" stroke-width="0.7" fill="none"/>
<path d="M1105.91 375.32L1106.65 332.81A43.1 43.1 0 0 1 1126.51 338.13Z" fill="#FF7A00" stroke="#C4C4C4" stroke-width="0.7" stroke-linejoin="round"/>
<path d="M1106.17 375.48L1128.08 339.03A43.1 43.1 0 0 1 1142.62 353.57Z" fill="#FF8200" stroke="#C4C4C4" stroke-width="0.7" stroke-linejoin="round"/>
<path d="M1106.33 375.74L1143.52 355.14A43.1 43.1 0 0 1 1148.84 375.00Z" fill="#FF8200" stroke="#C4C4C4" stroke-width="0.7" stroke-linejoin="round"/>
<path d="M1106.33 376.06L1148.84 376.80A43.1 43.1 0 0 1 1143.52 396.66Z" fill="#FF8200" stroke="#C4C4C4" stroke-width="0.7" stroke-linejoin="round"/>
<path d="M1106.17 376.32L1142.62 398.23A43.1 43.1 0 0 1 1128.08 412.77Z" fill="#FF8D00" stroke="#C4C4C4" stroke-width="0.7" stroke-linejoin="round"/>
<path d="M1105.91 376.48L1126.51 413.67A43.1 43.1 0 0 1 1106.65 418.99Z" fill="#FF9700" stroke="#C4C4C4" stroke-width="0.7" stroke-linejoin="round"/>
<path d="M1105.59 376.48L1104.85 418.99A43.1 43.1 0 0 1 1084.99 413.67Z" fill="#FF9B00" stroke="#C4C4C4" stroke-width="0.7" stroke-linejoin="round"/>
<path d="M1105.33 376.32L1083.42 412.77A43.1 43.1 0 0 1 1068.88 398.23Z" fill="#FF9E00" stroke="#C4C4C4" stroke-width="0.7" stroke-linejoin="round"/>
<path d="M1105.17 376.06L1067.98 396.66A43.1 43.1 0 0 1 1062.66 376.80Z" fill="#FF9E00" stroke="#C4C4C4" stroke-width="0.7" stroke-linejoin="round"/>
<path d="M1105.17 375.74L1062.66 375.00A43.1 43.1 0 0 1 1067.98 355.14Z" fill="#FF9E00" stroke="#C4C4C4" stroke-width="0.7" stroke-linejoin="round"/>
<path d="M1105.33 375.48L1068.88 353.57A43.1 43.1 0 0 1 1083.42 339.03Z" fill="#FF9E00" stroke="#C4C4C4" stroke-width="0.7" stroke-linejoin="round"/>
<path d="M1105.59 375.32L1084.99 338.13A43.1 43.1 0 0 1 1104.85 332.81Z" fill="#FFA200" stroke="#C4C4C4" stroke-width="0.7" stroke-linejoin="round"/>
<text x="1095.65" y="327.20" text-anchor="middle" font-size="15.4" >12</text>
<text x="1160.25" y="365.70" text-anchor="middle" font-size="15.4" >3</text>
<text x="1121.95" y="438.20" text-anchor="middle" font-size="15.4" >6</text>
<text x="1051.95" y="394.60" text-anchor="middle" font-size="15.4" >9</text>
<rect x="0.00" y="594.00" width="121.6" height="33.3" fill="#D9D9D9"/>
<text x="59.60" y="618.20" text-anchor="middle" font-size="17.5" >0–0</text>
<rect x="130.62" y="594.00" width="121.6" height="33.3" fill="#D9D9D9"/>
<text x="190.22" y="618.20" text-anchor="middle" font-size="17.5" >1–0</text>
<rect x="261.25" y="594.00" width="121.6" height="33.3" fill="#D9D9D9"/>
<text x="320.85" y="618.20" text-anchor="middle" font-size="17.5" >2–0</text>
<rect x="391.88" y="594.00" width="121.6" height="33.3" fill="#D9D9D9"/>
<text x="451.48" y="618.20" text-anchor="middle" font-size="17.5" >3–0</text>
<rect x="522.50" y="594.00" width="121.6" height="33.3" fill="#D9D9D9"/>
<text x="582.10" y="618.20" text-anchor="middle" font-size="17.5" >6–0</text>
<rect x="653.12" y="594.00" width="121.6" height="33.3" fill="#D9D9D9"/>
<text x="712.73" y="618.20" text-anchor="middle" font-size="17.5" >6–3</text>
<rect x="783.75" y="594.00" width="121.6" height="33.3" fill="#D9D9D9"/>
<text x="843.35" y="618.20" text-anchor="middle" font-size="17.5" >6–2</text>
<rect x="914.38" y="594.00" width="121.6" height="33.3" fill="#D9D9D9"/>
<text x="973.98" y="618.20" text-anchor="middle" font-size="17.5" >9–0</text>
<rect x="1045.00" y="594.00" width="121.6" height="33.3" fill="#D9D9D9"/>
<text x="1104.60" y="618.20" text-anchor="middle" font-size="17.5" >12–0</text>
<rect x="1167.5" y="627.00" width="32.5" height="121.5" fill="#D9D9D9"/>
<text transform="translate(1177.6 684.00) rotate(90)" text-anchor="middle" font-size="17.5" >Amphibolis</text>
<circle cx="60.75" cy="687.80" r="54.5" fill="none" stroke="#E2E2EA" stroke-width="0.75"/>
<path d="M107.40 675.30L113.39 673.69M73.25 734.45L74.86 740.44M14.10 700.30L8.11 701.91M48.25 641.15L46.64 635.16" stroke="#E6E6EC" stroke-width="0.7" fill="none"/>
<path d="M60.75 687.80L60.75 639.50A48.3 48.3 0 0 1 84.90 645.97Z" fill="#4169E1"/>
<path d="M60.75 687.80L84.90 645.97A48.3 48.3 0 0 1 102.58 663.65Z" fill="#4169E1"/>
<path d="M60.75 687.80L102.58 663.65A48.3 48.3 0 0 1 109.05 687.80Z" fill="#4169E1"/>
<path d="M60.75 687.80L109.05 687.80A48.3 48.3 0 0 1 102.58 711.95Z" fill="#4169E1"/>
<path d="M60.75 687.80L102.58 711.95A48.3 48.3 0 0 1 84.90 729.63Z" fill="#4169E1"/>
<path d="M60.75 687.80L84.90 729.63A48.3 48.3 0 0 1 60.75 736.10Z" fill="#4169E1"/>
<path d="M60.75 687.80L60.75 736.10A48.3 48.3 0 0 1 36.60 729.63Z" fill="#4169E1"/>
<path d="M60.75 687.80L36.60 729.63A48.3 48.3 0 0 1 18.92 711.95Z" fill="#4169E1"/>
<path d="M60.75 687.80L18.92 711.95A48.3 48.3 0 0 1 12.45 687.80Z" fill="#4169E1"/>
<path d="M60.75 687.80L12.45 687.80A48.3 48.3 0 0 1 18.92 663.65Z" fill="#4169E1"/>
<path d="M60.75 687.80L18.92 663.65A48.3 48.3 0 0 1 36.60 645.97Z" fill="#4169E1"/>
<path d="M60.75 687.80L36.60 645.97A48.3 48.3 0 0 1 60.75 639.50Z" fill="#4169E1"/>
<path d="M60.75 645.20L60.75 639.50M82.05 650.91L84.90 645.97M97.64 666.50L102.58 663.65M103.35 687.80L109.05 687.80M97.64 709.10L102.58 711.95M82.05 724.69L84.90 729.63M60.75 730.40L60.75 736.10M39.45 724.69L36.60 729.63M23.86 709.10L18.92 711.95M18.15 687.80L12.45 687.80M23.86 666.50L18.92 663.65M39.45 650.91L36.60 645.97" stroke="#FFFFFF" stroke-opacity="0.5" stroke-width="0.7" fill="none"/>
<path d="M60.91 687.22L61.65 644.71A43.1 43.1 0 0 1 81.51 650.03Z" fill="#FFFF00" stroke="#C4C4C4" stroke-width="0.7" stroke-linejoin="round"/>
<path d="M61.17 687.38L83.08 650.93A43.1 43.1 0 0 1 97.62 665.47Z" fill="#FFFF00" stroke="#C4C4C4" stroke-width="0.7" stroke-linejoin="round"/>
<path d="M61.33 687.64L98.52 667.04A43.1 43.1 0 0 1 103.84 686.90Z" fill="#FFFF00" stroke="#C4C4C4" stroke-width="0.7" stroke-linejoin="round"/>
<path d="M61.33 687.96L103.84 688.70A43.1 43.1 0 0 1 98.52 708.56Z" fill="#FFFF00" stroke="#C4C4C4" stroke-width="0.7" stroke-linejoin="round"/>
<path d="M61.17 688.22L97.62 710.13A43.1 43.1 0 0 1 83.08 724.67Z" fill="#FFFF00" stroke="#C4C4C4" stroke-width="0.7" stroke-linejoin="round"/>
<path d="M60.91 688.38L81.51 725.57A43.1 43.1 0 0 1 61.65 730.89Z" fill="#FFFF00" stroke="#C4C4C4" stroke-width="0.7" stroke-linejoin="round"/>
<path d="M60.59 688.38L59.85 730.89A43.1 43.1 0 0 1 39.99 725.57Z" fill="#FFFF00" stroke="#C4C4C4" stroke-width="0.7" stroke-linejoin="round"/>
<path d="M60.33 688.22L38.42 724.67A43.1 43.1 0 0 1 23.88 710.13Z" fill="#FFFF00" stroke="#C4C4C4" stroke-width="0.7" stroke-linejoin="round"/>
<path d="M60.17 687.96L22.98 708.56A43.1 43.1 0 0 1 17.66 688.70Z" fill="#FFFF00" stroke="#C4C4C4" stroke-width="0.7" stroke-linejoin="round"/>
<path d="M60.17 687.64L17.66 686.90A43.1 43.1 0 0 1 22.98 667.04Z" fill="#FFFF00" stroke="#C4C4C4" stroke-width="0.7" stroke-linejoin="round"/>
<path d="M60.33 687.38L23.88 665.47A43.1 43.1 0 0 1 38.42 650.93Z" fill="#FFFF00" stroke="#C4C4C4" stroke-width="0.7" stroke-linejoin="round"/>
<path d="M60.59 687.22L39.99 650.03A43.1 43.1 0 0 1 59.85 644.71Z" fill="#FFFF00" stroke="#C4C4C4" stroke-width="0.7" stroke-linejoin="round"/>
<text x="50.95" y="637.30" text-anchor="middle" font-size="15.4" >12</text>
<text x="115.45" y="675.60" text-anchor="middle" font-size="15.4" >3</text>
<text x="76.85" y="743.80" text-anchor="middle" font-size="15.4" >6</text>
<text x="6.95" y="703.80" text-anchor="middle" font-size="15.4" >9</text>
<circle cx="191.38" cy="687.80" r="54.5" fill="none" stroke="#E2E2EA" stroke-width="0.75"/>
<path d="M238.03 675.30L244.02 673.69M203.88 734.45L205.48 740.44M144.72 700.30L138.73 701.91M178.87 641.15L177.27 635.16" stroke="#E6E6EC" stroke-width="0.7" fill="none"/>
<path d="M191.38 687.80L191.38 639.50A48.3 48.3 0 0 1 215.53 645.97Z" fill="#0CB7F2"/>
<path d="M191.38 687.80L215.53 645.97A48.3 48.3 0 0 1 233.20 663.65Z" fill="#0CB7F2"/>
<path d="M191.38 687.80L233.20 663.65A48.3 48.3 0 0 1 239.68 687.80Z" fill="#0CB7F2"/>
<path d="M191.38 687.80L239.68 687.80A48.3 48.3 0 0 1 233.20 711.95Z" fill="#0CB7F2"/>
<path d="M191.38 687.80L233.20 711.95A48.3 48.3 0 0 1 215.53 729.63Z" fill="#0CB7F2"/>
<path d="M191.38 687.80L215.53 729.63A48.3 48.3 0 0 1 191.38 736.10Z" fill="#0CB7F2"/>
<path d="M191.38 687.80L191.38 736.10A48.3 48.3 0 0 1 167.22 729.63Z" fill="#0CB7F2"/>
<path d="M191.38 687.80L167.22 729.63A48.3 48.3 0 0 1 149.55 711.95Z" fill="#0CB7F2"/>
<path d="M191.38 687.80L149.55 711.95A48.3 48.3 0 0 1 143.07 687.80Z" fill="#0CB7F2"/>
<path d="M191.38 687.80L143.07 687.80A48.3 48.3 0 0 1 149.55 663.65Z" fill="#0CB7F2"/>
<path d="M191.38 687.80L149.55 663.65A48.3 48.3 0 0 1 167.22 645.97Z" fill="#0CB7F2"/>
<path d="M191.38 687.80L167.22 645.97A48.3 48.3 0 0 1 191.38 639.50Z" fill="#0CB7F2"/>
<path d="M191.38 645.20L191.38 639.50M212.68 650.91L215.53 645.97M228.27 666.50L233.20 663.65M233.97 687.80L239.68 687.80M228.27 709.10L233.20 711.95M212.68 724.69L215.53 729.63M191.38 730.40L191.38 736.10M170.07 724.69L167.22 729.63M154.48 709.10L149.55 711.95M148.78 687.80L143.07 687.80M154.48 666.50L149.55 663.65M170.07 650.91L167.22 645.97" stroke="#FFFFFF" stroke-opacity="0.5" stroke-width="0.7" fill="none"/>
<path d="M191.53 687.22L192.28 644.71A43.1 43.1 0 0 1 212.14 650.03Z" fill="#FFF600" stroke="#C4C4C4" stroke-width="0.7" stroke-linejoin="round"/>
<path d="M191.80 687.38L213.70 650.93A43.1 43.1 0 0 1 228.24 665.47Z" fill="#FFF600" stroke="#C4C4C4" stroke-width="0.7" stroke-linejoin="round"/>
<path d="M191.95 687.64L229.14 667.04A43.1 43.1 0 0 1 234.47 686.90Z" fill="#FFED00" stroke="#C4C4C4" stroke-width="0.7" stroke-linejoin="round"/>
<path d="M191.95 687.96L234.47 688.70A43.1 43.1 0 0 1 229.14 708.56Z" fill="#FFED00" stroke="#C4C4C4" stroke-width="0.7" stroke-linejoin="round"/>
<path d="M191.80 688.22L228.24 710.13A43.1 43.1 0 0 1 213.70 724.67Z" fill="#FFF000" stroke="#C4C4C4" stroke-width="0.7" stroke-linejoin="round"/>
<path d="M191.53 688.38L212.14 725.57A43.1 43.1 0 0 1 192.28 730.89Z" fill="#FFF600" stroke="#C4C4C4" stroke-width="0.7" stroke-linejoin="round"/>
<path d="M191.22 688.38L190.47 730.89A43.1 43.1 0 0 1 170.61 725.57Z" fill="#FFF600" stroke="#C4C4C4" stroke-width="0.7" stroke-linejoin="round"/>
<path d="M190.95 688.22L169.05 724.67A43.1 43.1 0 0 1 154.51 710.13Z" fill="#FFF600" stroke="#C4C4C4" stroke-width="0.7" stroke-linejoin="round"/>
<path d="M190.80 687.96L153.61 708.56A43.1 43.1 0 0 1 148.28 688.70Z" fill="#FFF600" stroke="#C4C4C4" stroke-width="0.7" stroke-linejoin="round"/>
<path d="M190.80 687.64L148.28 686.90A43.1 43.1 0 0 1 153.61 667.04Z" fill="#FFF600" stroke="#C4C4C4" stroke-width="0.7" stroke-linejoin="round"/>
<path d="M190.95 687.38L154.51 665.47A43.1 43.1 0 0 1 169.05 650.93Z" fill="#FFF600" stroke="#C4C4C4" stroke-width="0.7" stroke-linejoin="round"/>
<path d="M191.22 687.22L170.61 650.03A43.1 43.1 0 0 1 190.47 644.71Z" fill="#FFF600" stroke="#C4C4C4" stroke-width="0.7" stroke-linejoin="round"/>
<text x="181.57" y="637.30" text-anchor="middle" font-size="15.4" >12</text>
<text x="246.07" y="675.60" text-anchor="middle" font-size="15.4" >3</text>
<text x="207.78" y="748.70" text-anchor="middle" font-size="15.4" >6</text>
<text x="137.57" y="703.80" text-anchor="middle" font-size="15.4" >9</text>
<circle cx="322.00" cy="687.80" r="54.5" fill="none" stroke="#E2E2EA" stroke-width="0.75"/>
<path d="M368.65 675.30L374.64 673.69M334.50 734.45L336.11 740.44M275.35 700.30L269.36 701.91M309.50 641.15L307.89 635.16" stroke="#E6E6EC" stroke-width="0.7" fill="none"/>
<path d="M322.00 687.80L322.00 639.50A48.3 48.3 0 0 1 346.15 645.97Z" fill="#0CB7F2"/>
<path d="M322.00 687.80L346.15 645.97A48.3 48.3 0 0 1 363.83 663.65Z" fill="#0CB7F2"/>
<path d="M322.00 687.80L363.83 663.65A48.3 48.3 0 0 1 370.30 687.80Z" fill="#0CB7F2"/>
<path d="M322.00 687.80L370.30 687.80A48.3 48.3 0 0 1 363.83 711.95Z" fill="#0CB7F2"/>
<path d="M322.00 687.80L363.83 711.95A48.3 48.3 0 0 1 346.15 729.63Z" fill="#0CB7F2"/>
<path d="M322.00 687.80L346.15 729.63A48.3 48.3 0 0 1 322.00 736.10Z" fill="#0CB7F2"/>
<path d="M322.00 687.80L322.00 736.10A48.3 48.3 0 0 1 297.85 729.63Z" fill="#0CB7F2"/>
<path d="M322.00 687.80L297.85 729.63A48.3 48.3 0 0 1 280.17 711.95Z" fill="#0CB7F2"/>
<path d="M322.00 687.80L280.17 711.95A48.3 48.3 0 0 1 273.70 687.80Z" fill="#0CB7F2"/>
<path d="M322.00 687.80L273.70 687.80A48.3 48.3 0 0 1 280.17 663.65Z" fill="#0CB7F2"/>
<path d="M322.00 687.80L280.17 663.65A48.3 48.3 0 0 1 297.85 645.97Z" fill="#0CB7F2"/>
<path d="M322.00 687.80L297.85 645.97A48.3 48.3 0 0 1 322.00 639.50Z" fill="#0CB7F2"/>
<path d="M322.00 645.20L322.00 639.50M343.30 650.91L346.15 645.97M358.89 666.50L363.83 663.65M364.60 687.80L370.30 687.80M358.89 709.10L363.83 711.95M343.30 724.69L346.15 729.63M322.00 730.40L322.00 736.10M300.70 724.69L297.85 729.63M285.11 709.10L280.17 711.95M279.40 687.80L273.70 687.80M285.11 666.50L280.17 663.65M300.70 650.91L297.85 645.97" stroke="#FFFFFF" stroke-opacity="0.5" stroke-width="0.7" fill="none"/>
<path d="M322.16 687.22L322.90 644.71A43.1 43.1 0 0 1 342.76 650.03Z" fill="#FFD900" stroke="#C4C4C4" stroke-width="0.7" stroke-linejoin="round"/>
<path d="M322.42 687.38L344.33 650.93A43.1 43.1 0 0 1 358.87 665.47Z" fill="#FFCA00" stroke="#C4C4C4" stroke-width="0.7" stroke-linejoin="round"/>
<path d="M322.58 687.64L359.77 667.04A43.1 43.1 0 0 1 365.09 686.90Z" fill="#FF9700" stroke="#C4C4C4" stroke-width="0.7" stroke-linejoin="round"/>
<path d="M322.58 687.96L365.09 688.70A43.1 43.1 0 0 1 359.77 708.56Z" fill="#FFE100" stroke="#C4C4C4" stroke-width="0.7" stroke-linejoin="round"/>
<path d="M322.42 688.22L358.87 710.13A43.1 43.1 0 0 1 344.33 724.67Z" fill="#FFD900" stroke="#C4C4C4" stroke-width="0.7" stroke-linejoin="round"/>
<path d="M322.16 688.38L342.76 725.57A43.1 43.1 0 0 1 322.90 730.89Z" fill="#FFE100" stroke="#C4C4C4" stroke-width="0.7" stroke-linejoin="round"/>
<path d="M321.84 688.38L321.10 730.89A43.1 43.1 0 0 1 301.24 725.57Z" fill="#FFEA00" stroke="#C4C4C4" stroke-width="0.7" stroke-linejoin="round"/>
<path d="M321.58 688.22L299.67 724.67A43.1 43.1 0 0 1 285.13 710.13Z" fill="#FFEA00" stroke="#C4C4C4" stroke-width="0.7" stroke-linejoin="round"/>
<path d="M321.42 687.96L284.23 708.56A43.1 43.1 0 0 1 278.91 688.70Z" fill="#FFEA00" stroke="#C4C4C4" stroke-width="0.7" stroke-linejoin="round"/>
<path d="M321.42 687.64L278.91 686.90A43.1 43.1 0 0 1 284.23 667.04Z" fill="#FFEA00" stroke="#C4C4C4" stroke-width="0.7" stroke-linejoin="round"/>
<path d="M321.58 687.38L285.13 665.47A43.1 43.1 0 0 1 299.67 650.93Z" fill="#FFEA00" stroke="#C4C4C4" stroke-width="0.7" stroke-linejoin="round"/>
<path d="M321.84 687.22L301.24 650.03A43.1 43.1 0 0 1 321.10 644.71Z" fill="#FFEA00" stroke="#C4C4C4" stroke-width="0.7" stroke-linejoin="round"/>
<text x="312.20" y="637.30" text-anchor="middle" font-size="15.4" >12</text>
<text x="376.70" y="675.60" text-anchor="middle" font-size="15.4" >3</text>
<text x="338.40" y="748.70" text-anchor="middle" font-size="15.4" >6</text>
<text x="268.20" y="703.80" text-anchor="middle" font-size="15.4" >9</text>
<circle cx="452.62" cy="687.80" r="54.5" fill="none" stroke="#E2E2EA" stroke-width="0.75"/>
<path d="M499.28 675.30L505.27 673.69M465.13 734.45L466.73 740.44M405.97 700.30L399.98 701.91M440.12 641.15L438.52 635.16" stroke="#E6E6EC" stroke-width="0.7" fill="none"/>
<path d="M452.62 687.80L452.62 639.50A48.3 48.3 0 0 1 476.77 645.97Z" fill="#0CB7F2"/>
<path d="M452.62 687.80L476.77 645.97A48.3 48.3 0 0 1 494.45 663.65Z" fill="#0CB7F2"/>
<path d="M452.62 687.80L494.45 663.65A48.3 48.3 0 0 1 500.93 687.80Z" fill="#0CB7F2"/>
<path d="M452.62 687.80L500.93 687.80A48.3 48.3 0 0 1 494.45 711.95Z" fill="#0CB7F2"/>
<path d="M452.62 687.80L494.45 711.95A48.3 48.3 0 0 1 476.77 729.63Z" fill="#0CB7F2"/>
<path d="M452.62 687.80L476.77 729.63A48.3 48.3 0 0 1 452.62 736.10Z" fill="#0CB7F2"/>
<path d="M452.62 687.80L452.62 736.10A48.3 48.3 0 0 1 428.48 729.63Z" fill="#0CB7F2"/>
<path d="M452.62 687.80L428.48 729.63A48.3 48.3 0 0 1 410.80 711.95Z" fill="#0CB7F2"/>
<path d="M452.62 687.80L410.80 711.95A48.3 48.3 0 0 1 404.32 687.80Z" fill="#0CB7F2"/>
<path d="M452.62 687.80L404.32 687.80A48.3 48.3 0 0 1 410.80 663.65Z" fill="#0CB7F2"/>
<path d="M452.62 687.80L410.80 663.65A48.3 48.3 0 0 1 428.47 645.97Z" fill="#0CB7F2"/>
<path d="M452.62 687.80L428.47 645.97A48.3 48.3 0 0 1 452.62 639.50Z" fill="#0CB7F2"/>
<path d="M452.62 645.20L452.62 639.50M473.93 650.91L476.77 645.97M489.52 666.50L494.45 663.65M495.23 687.80L500.93 687.80M489.52 709.10L494.45 711.95M473.93 724.69L476.77 729.63M452.62 730.40L452.62 736.10M431.32 724.69L428.48 729.63M415.73 709.10L410.80 711.95M410.02 687.80L404.32 687.80M415.73 666.50L410.80 663.65M431.32 650.91L428.47 645.97" stroke="#FFFFFF" stroke-opacity="0.5" stroke-width="0.7" fill="none"/>
<path d="M452.78 687.22L453.53 644.71A43.1 43.1 0 0 1 473.39 650.03Z" fill="#DB0001" stroke="#C4C4C4" stroke-width="0.7" stroke-linejoin="round"/>
<path d="M453.05 687.38L474.95 650.93A43.1 43.1 0 0 1 489.49 665.47Z" fill="#FFB400" stroke="#C4C4C4" stroke-width="0.7" stroke-linejoin="round"/>
<path d="M453.20 687.64L490.39 667.04A43.1 43.1 0 0 1 495.72 686.90Z" fill="#FFC400" stroke="#C4C4C4" stroke-width="0.7" stroke-linejoin="round"/>
<path d="M453.20 687.96L495.72 688.70A43.1 43.1 0 0 1 490.39 708.56Z" fill="#FFC400" stroke="#C4C4C4" stroke-width="0.7" stroke-linejoin="round"/>
<path d="M453.05 688.22L489.49 710.13A43.1 43.1 0 0 1 474.95 724.67Z" fill="#FFD000" stroke="#C4C4C4" stroke-width="0.7" stroke-linejoin="round"/>
<path d="M452.78 688.38L473.39 725.57A43.1 43.1 0 0 1 453.53 730.89Z" fill="#FFD300" stroke="#C4C4C4" stroke-width="0.7" stroke-linejoin="round"/>
<path d="M452.47 688.38L451.72 730.89A43.1 43.1 0 0 1 431.86 725.57Z" fill="#FFD900" stroke="#C4C4C4" stroke-width="0.7" stroke-linejoin="round"/>
<path d="M452.20 688.22L430.30 724.67A43.1 43.1 0 0 1 415.76 710.13Z" fill="#FFD900" stroke="#C4C4C4" stroke-width="0.7" stroke-linejoin="round"/>
<path d="M452.05 687.96L414.86 708.56A43.1 43.1 0 0 1 409.53 688.70Z" fill="#FFD900" stroke="#C4C4C4" stroke-width="0.7" stroke-linejoin="round"/>
<path d="M452.05 687.64L409.53 686.90A43.1 43.1 0 0 1 414.86 667.04Z" fill="#FFD900" stroke="#C4C4C4" stroke-width="0.7" stroke-linejoin="round"/>
<path d="M452.20 687.38L415.76 665.47A43.1 43.1 0 0 1 430.30 650.93Z" fill="#FFD300" stroke="#C4C4C4" stroke-width="0.7" stroke-linejoin="round"/>
<path d="M452.47 687.22L431.86 650.03A43.1 43.1 0 0 1 451.72 644.71Z" fill="#FFB100" stroke="#C4C4C4" stroke-width="0.7" stroke-linejoin="round"/>
<text x="442.82" y="637.30" text-anchor="middle" font-size="15.4" >12</text>
<text x="507.32" y="675.60" text-anchor="middle" font-size="15.4" >3</text>
<text x="469.02" y="748.70" text-anchor="middle" font-size="15.4" >6</text>
<text x="398.82" y="703.80" text-anchor="middle" font-size="15.4" >9</text>
<circle cx="583.25" cy="687.80" r="54.5" fill="none" stroke="#E2E2EA" stroke-width="0.75"/>
<path d="M629.90 675.30L635.89 673.69M595.75 734.45L597.36 740.44M536.60 700.30L530.61 701.91M570.75 641.15L569.14 635.16" stroke="#E6E6EC" stroke-width="0.7" fill="none"/>
<path d="M583.25 687.80L583.25 639.50A48.3 48.3 0 0 1 607.40 645.97Z" fill="#FB0000"/>
<path d="M583.25 687.80L607.40 645.97A48.3 48.3 0 0 1 625.08 663.65Z" fill="#FB0000"/>
<path d="M583.25 687.80L625.08 663.65A48.3 48.3 0 0 1 631.55 687.80Z" fill="#FB0000"/>
<path d="M583.25 687.80L631.55 687.80A48.3 48.3 0 0 1 625.08 711.95Z" fill="#FB0000"/>
<path d="M583.25 687.80L625.08 711.95A48.3 48.3 0 0 1 607.40 729.63Z" fill="#FB0000"/>
<path d="M583.25 687.80L607.40 729.63A48.3 48.3 0 0 1 583.25 736.10Z" fill="#FB0000"/>
<path d="M583.25 687.80L583.25 736.10A48.3 48.3 0 0 1 559.10 729.63Z" fill="#FB0000"/>
<path d="M583.25 687.80L559.10 729.63A48.3 48.3 0 0 1 541.42 711.95Z" fill="#FB0000"/>
<path d="M583.25 687.80L541.42 711.95A48.3 48.3 0 0 1 534.95 687.80Z" fill="#FB0000"/>
<path d="M583.25 687.80L534.95 687.80A48.3 48.3 0 0 1 541.42 663.65Z" fill="#FB0000"/>
<path d="M583.25 687.80L541.42 663.65A48.3 48.3 0 0 1 559.10 645.97Z" fill="#FB0000"/>
<path d="M583.25 687.80L559.10 645.97A48.3 48.3 0 0 1 583.25 639.50Z" fill="#FB0000"/>
<path d="M583.25 645.20L583.25 639.50M604.55 650.91L607.40 645.97M620.14 666.50L625.08 663.65M625.85 687.80L631.55 687.80M620.14 709.10L625.08 711.95M604.55 724.69L607.40 729.63M583.25 730.40L583.25 736.10M561.95 724.69L559.10 729.63M546.36 709.10L541.42 711.95M540.65 687.80L534.95 687.80M546.36 666.50L541.42 663.65M561.95 650.91L559.10 645.97" stroke="#FFFFFF" stroke-opacity="0.5" stroke-width="0.7" fill="none"/>
<path d="M583.41 687.22L584.15 644.71A43.1 43.1 0 0 1 604.01 650.03Z" fill="#FF6A00" stroke="#C4C4C4" stroke-width="0.7" stroke-linejoin="round"/>
<path d="M583.67 687.38L605.58 650.93A43.1 43.1 0 0 1 620.12 665.47Z" fill="#FF8200" stroke="#C4C4C4" stroke-width="0.7" stroke-linejoin="round"/>
<path d="M583.83 687.64L621.02 667.04A43.1 43.1 0 0 1 626.34 686.90Z" fill="#FF8D00" stroke="#C4C4C4" stroke-width="0.7" stroke-linejoin="round"/>
<path d="M583.83 687.96L626.34 688.70A43.1 43.1 0 0 1 621.02 708.56Z" fill="#FF7200" stroke="#C4C4C4" stroke-width="0.7" stroke-linejoin="round"/>
<path d="M583.67 688.22L620.12 710.13A43.1 43.1 0 0 1 605.58 724.67Z" fill="#FF6600" stroke="#C4C4C4" stroke-width="0.7" stroke-linejoin="round"/>
<path d="M583.41 688.38L604.01 725.57A43.1 43.1 0 0 1 584.15 730.89Z" fill="#FF7600" stroke="#C4C4C4" stroke-width="0.7" stroke-linejoin="round"/>
<path d="M583.09 688.38L582.35 730.89A43.1 43.1 0 0 1 562.49 725.57Z" fill="#FF6600" stroke="#C4C4C4" stroke-width="0.7" stroke-linejoin="round"/>
<path d="M582.83 688.22L560.92 724.67A43.1 43.1 0 0 1 546.38 710.13Z" fill="#FF3D00" stroke="#C4C4C4" stroke-width="0.7" stroke-linejoin="round"/>
<path d="M582.67 687.96L545.48 708.56A43.1 43.1 0 0 1 540.16 688.70Z" fill="#DB0001" stroke="#C4C4C4" stroke-width="0.7" stroke-linejoin="round"/>
<path d="M582.67 687.64L540.16 686.90A43.1 43.1 0 0 1 545.48 667.04Z" fill="#B20002" stroke="#C4C4C4" stroke-width="0.7" stroke-linejoin="round"/>
<path d="M582.83 687.38L546.38 665.47A43.1 43.1 0 0 1 560.92 650.93Z" fill="#FF5D00" stroke="#C4C4C4" stroke-width="0.7" stroke-linejoin="round"/>
<path d="M583.09 687.22L562.49 650.03A43.1 43.1 0 0 1 582.35 644.71Z" fill="#FF6600" stroke="#C4C4C4" stroke-width="0.7" stroke-linejoin="round"/>
<text x="573.45" y="637.30" text-anchor="middle" font-size="15.4" >12</text>
<text x="637.95" y="675.60" text-anchor="middle" font-size="15.4" >3</text>
<text x="599.65" y="748.70" text-anchor="middle" font-size="15.4" >6</text>
<text x="529.45" y="703.80" text-anchor="middle" font-size="15.4" >9</text>
<circle cx="713.88" cy="687.80" r="54.5" fill="none" stroke="#E2E2EA" stroke-width="0.75"/>
<path d="M760.53 675.30L766.52 673.69M726.38 734.45L727.98 740.44M667.22 700.30L661.23 701.91M701.37 641.15L699.77 635.16" stroke="#E6E6EC" stroke-width="0.7" fill="none"/>
<path d="M713.88 687.80L713.88 639.50A48.3 48.3 0 0 1 738.02 645.97Z" fill="#FB0000"/>
<path d="M713.88 687.80L738.02 645.97A48.3 48.3 0 0 1 755.70 663.65Z" fill="#FB0000"/>
<path d="M713.88 687.80L755.70 663.65A48.3 48.3 0 0 1 762.17 687.80Z" fill="#FB0000"/>
<path d="M713.88 687.80L762.17 687.80A48.3 48.3 0 0 1 755.70 711.95Z" fill="#FB0000"/>
<path d="M713.88 687.80L755.70 711.95A48.3 48.3 0 0 1 738.02 729.63Z" fill="#FB0000"/>
<path d="M713.88 687.80L738.02 729.63A48.3 48.3 0 0 1 713.88 736.10Z" fill="#FB0000"/>
<path d="M713.88 687.80L713.88 736.10A48.3 48.3 0 0 1 689.73 729.63Z" fill="#FB0000"/>
<path d="M713.88 687.80L689.73 729.63A48.3 48.3 0 0 1 672.05 711.95Z" fill="#FB0000"/>
<path d="M713.88 687.80L672.05 711.95A48.3 48.3 0 0 1 665.58 687.80Z" fill="#FFFF00"/>
<path d="M713.88 687.80L665.58 687.80A48.3 48.3 0 0 1 672.05 663.65Z" fill="#FB0000"/>
<path d="M713.88 687.80L672.05 663.65A48.3 48.3 0 0 1 689.73 645.97Z" fill="#FB0000"/>
<path d="M713.88 687.80L689.73 645.97A48.3 48.3 0 0 1 713.88 639.50Z" fill="#FB0000"/>
<path d="M713.88 645.20L713.88 639.50M735.17 650.91L738.02 645.97M750.77 666.50L755.70 663.65M756.48 687.80L762.17 687.80M750.77 709.10L755.70 711.95M735.17 724.69L738.02 729.63M713.88 730.40L713.88 736.10M692.58 724.69L689.73 729.63M676.98 709.10L672.05 711.95M671.27 687.80L665.58 687.80M676.98 666.50L672.05 663.65M692.57 650.91L689.73 645.97" stroke="#FFFFFF" stroke-opacity="0.5" stroke-width="0.7" fill="none"/>
<path d="M714.03 687.22L714.78 644.71A43.1 43.1 0 0 1 734.64 650.03Z" fill="#FF7A00" stroke="#C4C4C4" stroke-width="0.7" stroke-linejoin="round"/>
<path d="M714.30 687.38L736.20 650.93A43.1 43.1 0 0 1 750.74 665.47Z" fill="#FF9400" stroke="#C4C4C4" stroke-width="0.7" stroke-linejoin="round"/>
<path d="M714.45 687.64L751.64 667.04A43.1 43.1 0 0 1 756.97 686.90Z" fill="#FF9B00" stroke="#C4C4C4" stroke-width="0.7" stroke-linejoin="round"/>
<path d="M714.45 687.96L756.97 688.70A43.1 43.1 0 0 1 751.64 708.56Z" fill="#FFA200" stroke="#C4C4C4" stroke-width="0.7" stroke-linejoin="round"/>
<path d="M714.30 688.22L750.74 710.13A43.1 43.1 0 0 1 736.20 724.67Z" fill="#FF9E00" stroke="#C4C4C4" stroke-width="0.7" stroke-linejoin="round"/>
<path d="M714.03 688.38L734.64 725.57A43.1 43.1 0 0 1 714.78 730.89Z" fill="#FF9000" stroke="#C4C4C4" stroke-width="0.7" stroke-linejoin="round"/>
<path d="M713.72 688.38L712.97 730.89A43.1 43.1 0 0 1 693.11 725.57Z" fill="#FF8200" stroke="#C4C4C4" stroke-width="0.7" stroke-linejoin="round"/>
<path d="M713.45 688.22L691.55 724.67A43.1 43.1 0 0 1 677.01 710.13Z" fill="#FF9000" stroke="#C4C4C4" stroke-width="0.7" stroke-linejoin="round"/>
<path d="M713.30 687.96L676.11 708.56A43.1 43.1 0 0 1 670.78 688.70Z" fill="#FFA200" stroke="#C4C4C4" stroke-width="0.7" stroke-linejoin="round"/>
<path d="M713.30 687.64L670.78 686.90A43.1 43.1 0 0 1 676.11 667.04Z" fill="#FF9700" stroke="#C4C4C4" stroke-width="0.7" stroke-linejoin="round"/>
<path d="M713.45 687.38L677.01 665.47A43.1 43.1 0 0 1 691.55 650.93Z" fill="#FF9700" stroke="#C4C4C4" stroke-width="0.7" stroke-linejoin="round"/>
<path d="M713.72 687.22L693.11 650.03A43.1 43.1 0 0 1 712.97 644.71Z" fill="#FF9000" stroke="#C4C4C4" stroke-width="0.7" stroke-linejoin="round"/>
<text x="704.08" y="637.30" text-anchor="middle" font-size="15.4" >12</text>
<text x="768.58" y="675.60" text-anchor="middle" font-size="15.4" >3</text>
<text x="730.27" y="748.70" text-anchor="middle" font-size="15.4" >6</text>
<text x="660.08" y="703.80" text-anchor="middle" font-size="15.4" >9</text>
<circle cx="844.50" cy="687.80" r="54.5" fill="none" stroke="#E2E2EA" stroke-width="0.75"/>
<path d="M891.15 675.30L897.14 673.69M857.00 734.45L858.61 740.44M797.85 700.30L791.86 701.91M832.00 641.15L830.39 635.16" stroke="#E6E6EC" stroke-width="0.7" fill="none"/>
<path d="M844.50 687.80L844.50 639.50A48.3 48.3 0 0 1 868.65 645.97Z" fill="#FB0000"/>
<path d="M844.50 687.80L868.65 645.97A48.3 48.3 0 0 1 886.33 663.65Z" fill="#FB0000"/>
<path d="M844.50 687.80L886.33 663.65A48.3 48.3 0 0 1 892.80 687.80Z" fill="#FB0000"/>
<path d="M844.50 687.80L892.80 687.80A48.3 48.3 0 0 1 886.33 711.95Z" fill="#FB0000"/>
<path d="M844.50 687.80L886.33 711.95A48.3 48.3 0 0 1 868.65 729.63Z" fill="#FB0000"/>
<path d="M844.50 687.80L868.65 729.63A48.3 48.3 0 0 1 844.50 736.10Z" fill="#FB0000"/>
<path d="M844.50 687.80L844.50 736.10A48.3 48.3 0 0 1 820.35 729.63Z" fill="#FFFF00"/>
<path d="M844.50 687.80L820.35 729.63A48.3 48.3 0 0 1 802.67 711.95Z" fill="#FFFF00"/>
<path d="M844.50 687.80L802.67 711.95A48.3 48.3 0 0 1 796.20 687.80Z" fill="#FB0000"/>
<path d="M844.50 687.80L796.20 687.80A48.3 48.3 0 0 1 802.67 663.65Z" fill="#FB0000"/>
<path d="M844.50 687.80L802.67 663.65A48.3 48.3 0 0 1 820.35 645.97Z" fill="#FFFF00"/>
<path d="M844.50 687.80L820.35 645.97A48.3 48.3 0 0 1 844.50 639.50Z" fill="#FFFF00"/>
<path d="M844.50 645.20L844.50 639.50M865.80 650.91L868.65 645.97M881.39 666.50L886.33 663.65M887.10 687.80L892.80 687.80M881.39 709.10L886.33 711.95M865.80 724.69L868.65 729.63M844.50 730.40L844.50 736.10M823.20 724.69L820.35 729.63M807.61 709.10L802.67 711.95M801.90 687.80L796.20 687.80M807.61 666.50L802.67 663.65M823.20 650.91L820.35 645.97" stroke="#FFFFFF" stroke-opacity="0.5" stroke-width="0.7" fill="none"/>
<path d="M844.66 687.22L845.40 644.71A43.1 43.1 0 0 1 865.26 650.03Z" fill="#FFA200" stroke="#C4C4C4" stroke-width="0.7" stroke-linejoin="round"/>
<path d="M844.92 687.38L866.83 650.93A43.1 43.1 0 0 1 881.37 665.47Z" fill="#FF9E00" stroke="#C4C4C4" stroke-width="0.7" stroke-linejoin="round"/>
<path d="M845.08 687.64L882.27 667.04A43.1 43.1 0 0 1 887.59 686.90Z" fill="#FFA500" stroke="#C4C4C4" stroke-width="0.7" stroke-linejoin="round"/>
<path d="M845.08 687.96L887.59 688.70A43.1 43.1 0 0 1 882.27 708.56Z" fill="#FFA800" stroke="#C4C4C4" stroke-width="0.7" stroke-linejoin="round"/>
<path d="M844.92 688.22L881.37 710.13A43.1 43.1 0 0 1 866.83 724.67Z" fill="#FF9400" stroke="#C4C4C4" stroke-width="0.7" stroke-linejoin="round"/>
<path d="M844.66 688.38L865.26 725.57A43.1 43.1 0 0 1 845.40 730.89Z" fill="#FF9700" stroke="#C4C4C4" stroke-width="0.7" stroke-linejoin="round"/>
<path d="M844.34 688.38L843.60 730.89A43.1 43.1 0 0 1 823.74 725.57Z" fill="#FFA500" stroke="#C4C4C4" stroke-width="0.7" stroke-linejoin="round"/>
<path d="M844.08 688.22L822.17 724.67A43.1 43.1 0 0 1 807.63 710.13Z" fill="#FFA500" stroke="#C4C4C4" stroke-width="0.7" stroke-linejoin="round"/>
<path d="M843.92 687.96L806.73 708.56A43.1 43.1 0 0 1 801.41 688.70Z" fill="#FF8D00" stroke="#C4C4C4" stroke-width="0.7" stroke-linejoin="round"/>
<path d="M843.92 687.64L801.41 686.90A43.1 43.1 0 0 1 806.73 667.04Z" fill="#FF9400" stroke="#C4C4C4" stroke-width="0.7" stroke-linejoin="round"/>
<path d="M844.08 687.38L807.63 665.47A43.1 43.1 0 0 1 822.17 650.93Z" fill="#FFAB00" stroke="#C4C4C4" stroke-width="0.7" stroke-linejoin="round"/>
<path d="M844.34 687.22L823.74 650.03A43.1 43.1 0 0 1 843.60 644.71Z" fill="#FFA800" stroke="#C4C4C4" stroke-width="0.7" stroke-linejoin="round"/>
<text x="834.70" y="637.30" text-anchor="middle" font-size="15.4" >12</text>
<text x="899.20" y="675.60" text-anchor="middle" font-size="15.4" >3</text>
<text x="860.90" y="748.70" text-anchor="middle" font-size="15.4" >6</text>
<text x="790.70" y="703.80" text-anchor="middle" font-size="15.4" >9</text>
<circle cx="975.12" cy="687.80" r="54.5" fill="none" stroke="#E2E2EA" stroke-width="0.75"/>
<path d="M1021.78 675.30L1027.77 673.69M987.63 734.45L989.23 740.44M928.47 700.30L922.48 701.91M962.62 641.15L961.02 635.16" stroke="#E6E6EC" stroke-width="0.7" fill="none"/>
<path d="M975.12 687.80L975.12 639.50A48.3 48.3 0 0 1 999.27 645.97Z" fill="#FB0000"/>
<path d="M975.12 687.80L999.27 645.97A48.3 48.3 0 0 1 1016.95 663.65Z" fill="#FB0000"/>
<path d="M975.12 687.80L1016.95 663.65A48.3 48.3 0 0 1 1023.42 687.80Z" fill="#FB0000"/>
<path d="M975.12 687.80L1023.42 687.80A48.3 48.3 0 0 1 1016.95 711.95Z" fill="#FB0000"/>
<path d="M975.12 687.80L1016.95 711.95A48.3 48.3 0 0 1 999.27 729.63Z" fill="#FB0000"/>
<path d="M975.12 687.80L999.27 729.63A48.3 48.3 0 0 1 975.12 736.10Z" fill="#FB0000"/>
<path d="M975.12 687.80L975.12 736.10A48.3 48.3 0 0 1 950.98 729.63Z" fill="#FB0000"/>
<path d="M975.12 687.80L950.98 729.63A48.3 48.3 0 0 1 933.30 711.95Z" fill="#FB0000"/>
<path d="M975.12 687.80L933.30 711.95A48.3 48.3 0 0 1 926.83 687.80Z" fill="#FB0000"/>
<path d="M975.12 687.80L926.83 687.80A48.3 48.3 0 0 1 933.30 663.65Z" fill="#FB0000"/>
<path d="M975.12 687.80L933.30 663.65A48.3 48.3 0 0 1 950.98 645.97Z" fill="#FB0000"/>
<path d="M975.12 687.80L950.98 645.97A48.3 48.3 0 0 1 975.12 639.50Z" fill="#FB0000"/>
<path d="M975.12 645.20L975.12 639.50M996.42 650.91L999.27 645.97M1012.02 666.50L1016.95 663.65M1017.73 687.80L1023.42 687.80M1012.02 709.10L1016.95 711.95M996.42 724.69L999.27 729.63M975.12 730.40L975.12 736.10M953.83 724.69L950.98 729.63M938.23 709.10L933.30 711.95M932.52 687.80L926.83 687.80M938.23 666.50L933.30 663.65M953.82 650.91L950.98 645.97" stroke="#FFFFFF" stroke-opacity="0.5" stroke-width="0.7" fill="none"/>
<path d="M975.28 687.22L976.03 644.71A43.1 43.1 0 0 1 995.89 650.03Z" fill="#8B0000" stroke="#C4C4C4" stroke-width="0.7" stroke-linejoin="round"/>
<path d="M975.55 687.38L997.45 650.93A43.1 43.1 0 0 1 1011.99 665.47Z" fill="#8B0000" stroke="#C4C4C4" stroke-width="0.7" stroke-linejoin="round"/>
<path d="M975.70 687.64L1012.89 667.04A43.1 43.1 0 0 1 1018.22 686.90Z" fill="#8B0000" stroke="#C4C4C4" stroke-width="0.7" stroke-linejoin="round"/>
<path d="M975.70 687.96L1018.22 688.70A43.1 43.1 0 0 1 1012.89 708.56Z" fill="#8B0000" stroke="#C4C4C4" stroke-width="0.7" stroke-linejoin="round"/>
<path d="M975.55 688.22L1011.99 710.13A43.1 43.1 0 0 1 997.45 724.67Z" fill="#8B0000" stroke="#C4C4C4" stroke-width="0.7" stroke-linejoin="round"/>
<path d="M975.28 688.38L995.89 725.57A43.1 43.1 0 0 1 976.03 730.89Z" fill="#8B0000" stroke="#C4C4C4" stroke-width="0.7" stroke-linejoin="round"/>
<path d="M974.97 688.38L974.22 730.89A43.1 43.1 0 0 1 954.36 725.57Z" fill="#8B0000" stroke="#C4C4C4" stroke-width="0.7" stroke-linejoin="round"/>
<path d="M974.70 688.22L952.80 724.67A43.1 43.1 0 0 1 938.26 710.13Z" fill="#8B0000" stroke="#C4C4C4" stroke-width="0.7" stroke-linejoin="round"/>
<path d="M974.55 687.96L937.36 708.56A43.1 43.1 0 0 1 932.03 688.70Z" fill="#8B0000" stroke="#C4C4C4" stroke-width="0.7" stroke-linejoin="round"/>
<path d="M974.55 687.64L932.03 686.90A43.1 43.1 0 0 1 937.36 667.04Z" fill="#8B0000" stroke="#C4C4C4" stroke-width="0.7" stroke-linejoin="round"/>
<path d="M974.70 687.38L938.26 665.47A43.1 43.1 0 0 1 952.80 650.93Z" fill="#8B0000" stroke="#C4C4C4" stroke-width="0.7" stroke-linejoin="round"/>
<path d="M974.97 687.22L954.36 650.03A43.1 43.1 0 0 1 974.22 644.71Z" fill="#8B0000" stroke="#C4C4C4" stroke-width="0.7" stroke-linejoin="round"/>
<text x="965.33" y="637.30" text-anchor="middle" font-size="15.4" >12</text>
<text x="1029.83" y="675.60" text-anchor="middle" font-size="15.4" >3</text>
<text x="991.52" y="748.70" text-anchor="middle" font-size="15.4" >6</text>
<text x="921.33" y="703.80" text-anchor="middle" font-size="15.4" >9</text>
<circle cx="1105.75" cy="687.80" r="54.5" fill="none" stroke="#E2E2EA" stroke-width="0.75"/>
<path d="M1152.40 675.30L1158.39 673.69M1118.25 734.45L1119.86 740.44M1059.10 700.30L1053.11 701.91M1093.25 641.15L1091.64 635.16" stroke="#E6E6EC" stroke-width="0.7" fill="none"/>
<path d="M1105.75 687.80L1105.75 639.50A48.3 48.3 0 0 1 1129.90 645.97Z" fill="#FB0000"/>
<path d="M1105.75 687.80L1129.90 645.97A48.3 48.3 0 0 1 1147.58 663.65Z" fill="#FB0000"/>
<path d="M1105.75 687.80L1147.58 663.65A48.3 48.3 0 0 1 1154.05 687.80Z" fill="#FB0000"/>
<path d="M1105.75 687.80L1154.05 687.80A48.3 48.3 0 0 1 1147.58 711.95Z" fill="#FB0000"/>
<path d="M1105.75 687.80L1147.58 711.95A48.3 48.3 0 0 1 1129.90 729.63Z" fill="#FB0000"/>
<path d="M1105.75 687.80L1129.90 729.63A48.3 48.3 0 0 1 1105.75 736.10Z" fill="#FB0000"/>
<path d="M1105.75 687.80L1105.75 736.10A48.3 48.3 0 0 1 1081.60 729.63Z" fill="#FB0000"/>
<path d="M1105.75 687.80L1081.60 729.63A48.3 48.3 0 0 1 1063.92 711.95Z" fill="#FB0000"/>
<path d="M1105.75 687.80L1063.92 711.95A48.3 48.3 0 0 1 1057.45 687.80Z" fill="#FB0000"/>
<path d="M1105.75 687.80L1057.45 687.80A48.3 48.3 0 0 1 1063.92 663.65Z" fill="#FB0000"/>
<path d="M1105.75 687.80L1063.92 663.65A48.3 48.3 0 0 1 1081.60 645.97Z" fill="#FB0000"/>
<path d="M1105.75 687.80L1081.60 645.97A48.3 48.3 0 0 1 1105.75 639.50Z" fill="#FB0000"/>
<path d="M1105.75 645.20L1105.75 639.50M1127.05 650.91L1129.90 645.97M1142.64 666.50L1147.58 663.65M1148.35 687.80L1154.05 687.80M1142.64 709.10L1147.58 711.95M1127.05 724.69L1129.90 729.63M1105.75 730.40L1105.75 736.10M1084.45 724.69L1081.60 729.63M1068.86 709.10L1063.92 711.95M1063.15 687.80L1057.45 687.80M1068.86 666.50L1063.92 663.65M1084.45 650.91L1081.60 645.97" stroke="#FFFFFF" stroke-opacity="0.5" stroke-width="0.7" fill="none"/>
<path d="M1105.91 687.22L1106.65 644.71A43.1 43.1 0 0 1 1126.51 650.03Z" fill="#8B0000" stroke="#C4C4C4" stroke-width="0.7" stroke-linejoin="round"/>
<path d="M1106.17 687.38L1128.08 650.93A43.1 43.1 0 0 1 1142.62 665.47Z" fill="#8B0000" stroke="#C4C4C4" stroke-width="0.7" stroke-linejoin="round"/>
<path d="M1106.33 687.64L1143.52 667.04A43.1 43.1 0 0 1 1148.84 686.90Z" fill="#8B0000" stroke="#C4C4C4" stroke-width="0.7" stroke-linejoin="round"/>
<path d="M1106.33 687.96L1148.84 688.70A43.1 43.1 0 0 1 1143.52 708.56Z" fill="#8B0000" stroke="#C4C4C4" stroke-width="0.7" stroke-linejoin="round"/>
<path d="M1106.17 688.22L1142.62 710.13A43.1 43.1 0 0 1 1128.08 724.67Z" fill="#8B0000" stroke="#C4C4C4" stroke-width="0.7" stroke-linejoin="round"/>
<path d="M1105.91 688.38L1126.51 725.57A43.1 43.1 0 0 1 1106.65 730.89Z" fill="#8B0000" stroke="#C4C4C4" stroke-width="0.7" stroke-linejoin="round"/>
<path d="M1105.59 688.38L1104.85 730.89A43.1 43.1 0 0 1 1084.99 725.57Z" fill="#8B0000" stroke="#C4C4C4" stroke-width="0.7" stroke-linejoin="round"/>
<path d="M1105.33 688.22L1083.42 724.67A43.1 43.1 0 0 1 1068.88 710.13Z" fill="#8B0000" stroke="#C4C4C4" stroke-width="0.7" stroke-linejoin="round"/>
<path d="M1105.17 687.96L1067.98 708.56A43.1 43.1 0 0 1 1062.66 688.70Z" fill="#8B0000" stroke="#C4C4C4" stroke-width="0.7" stroke-linejoin="round"/>
<path d="M1105.17 687.64L1062.66 686.90A43.1 43.1 0 0 1 1067.98 667.04Z" fill="#8B0000" stroke="#C4C4C4" stroke-width="0.7" stroke-linejoin="round"/>
<path d="M1105.33 687.38L1068.88 665.47A43.1 43.1 0 0 1 1083.42 650.93Z" fill="#8B0000" stroke="#C4C4C4" stroke-width="0.7" stroke-linejoin="round"/>
<path d="M1105.59 687.22L1084.99 650.03A43.1 43.1 0 0 1 1104.85 644.71Z" fill="#8B0000" stroke="#C4C4C4" stroke-width="0.7" stroke-linejoin="round"/>
<text x="1095.95" y="637.30" text-anchor="middle" font-size="15.4" >12</text>
<text x="1160.45" y="675.60" text-anchor="middle" font-size="15.4" >3</text>
<text x="1122.15" y="748.70" text-anchor="middle" font-size="15.4" >6</text>
<text x="1051.95" y="703.80" text-anchor="middle" font-size="15.4" >9</text>
<rect x="1167.5" y="757.60" width="32.5" height="121.5" fill="#D9D9D9"/>
<text transform="translate(1177.6 814.60) rotate(90)" text-anchor="middle" font-size="17.5" >Halophila</text>
<circle cx="60.75" cy="818.40" r="54.5" fill="none" stroke="#E2E2EA" stroke-width="0.75"/>
<path d="M107.40 805.90L113.39 804.29M73.25 865.05L74.86 871.04M14.10 830.90L8.11 832.51M48.25 771.75L46.64 765.76" stroke="#E6E6EC" stroke-width="0.7" fill="none"/>
<path d="M60.75 818.40L60.75 770.10A48.3 48.3 0 0 1 84.90 776.57Z" fill="#4169E1"/>
<path d="M60.75 818.40L84.90 776.57A48.3 48.3 0 0 1 102.58 794.25Z" fill="#4169E1"/>
<path d="M60.75 818.40L102.58 794.25A48.3 48.3 0 0 1 109.05 818.40Z" fill="#4169E1"/>
<path d="M60.75 818.40L109.05 818.40A48.3 48.3 0 0 1 102.58 842.55Z" fill="#4169E1"/>
<path d="M60.75 818.40L102.58 842.55A48.3 48.3 0 0 1 84.90 860.23Z" fill="#4169E1"/>
<path d="M60.75 818.40L84.90 860.23A48.3 48.3 0 0 1 60.75 866.70Z" fill="#4169E1"/>
<path d="M60.75 818.40L60.75 866.70A48.3 48.3 0 0 1 36.60 860.23Z" fill="#4169E1"/>
<path d="M60.75 818.40L36.60 860.23A48.3 48.3 0 0 1 18.92 842.55Z" fill="#4169E1"/>
<path d="M60.75 818.40L18.92 842.55A48.3 48.3 0 0 1 12.45 818.40Z" fill="#4169E1"/>
<path d="M60.75 818.40L12.45 818.40A48.3 48.3 0 0 1 18.92 794.25Z" fill="#4169E1"/>
<path d="M60.75 818.40L18.92 794.25A48.3 48.3 0 0 1 36.60 776.57Z" fill="#4169E1"/>
<path d="M60.75 818.40L36.60 776.57A48.3 48.3 0 0 1 60.75 770.10Z" fill="#4169E1"/>
<path d="M60.75 775.80L60.75 770.10M82.05 781.51L84.90 776.57M97.64 797.10L102.58 794.25M103.35 818.40L109.05 818.40M97.64 839.70L102.58 842.55M82.05 855.29L84.90 860.23M60.75 861.00L60.75 866.70M39.45 855.29L36.60 860.23M23.86 839.70L18.92 842.55M18.15 818.40L12.45 818.40M23.86 797.10L18.92 794.25M39.45 781.51L36.60 776.57" stroke="#FFFFFF" stroke-opacity="0.5" stroke-width="0.7" fill="none"/>
<path d="M60.91 817.82L61.65 775.31A43.1 43.1 0 0 1 81.51 780.63Z" fill="#FFFF00" stroke="#C4C4C4" stroke-width="0.7" stroke-linejoin="round"/>
<path d="M61.17 817.98L83.08 781.53A43.1 43.1 0 0 1 97.62 796.07Z" fill="#FFFF00" stroke="#C4C4C4" stroke-width="0.7" stroke-linejoin="round"/>
<path d="M61.33 818.24L98.52 797.64A43.1 43.1 0 0 1 103.84 817.50Z" fill="#FFFF00" stroke="#C4C4C4" stroke-width="0.7" stroke-linejoin="round"/>
<path d="M61.33 818.56L103.84 819.30A43.1 43.1 0 0 1 98.52 839.16Z" fill="#FFFF00" stroke="#C4C4C4" stroke-width="0.7" stroke-linejoin="round"/>
<path d="M61.17 818.82L97.62 840.73A43.1 43.1 0 0 1 83.08 855.27Z" fill="#FFFF00" stroke="#C4C4C4" stroke-width="0.7" stroke-linejoin="round"/>
<path d="M60.91 818.98L81.51 856.17A43.1 43.1 0 0 1 61.65 861.49Z" fill="#FFFF00" stroke="#C4C4C4" stroke-width="0.7" stroke-linejoin="round"/>
<path d="M60.59 818.98L59.85 861.49A43.1 43.1 0 0 1 39.99 856.17Z" fill="#FFFF00" stroke="#C4C4C4" stroke-width="0.7" stroke-linejoin="round"/>
<path d="M60.33 818.82L38.42 855.27A43.1 43.1 0 0 1 23.88 840.73Z" fill="#FFFF00" stroke="#C4C4C4" stroke-width="0.7" stroke-linejoin="round"/>
<path d="M60.17 818.56L22.98 839.16A43.1 43.1 0 0 1 17.66 819.30Z" fill="#FFFF00" stroke="#C4C4C4" stroke-width="0.7" stroke-linejoin="round"/>
<path d="M60.17 818.24L17.66 817.50A43.1 43.1 0 0 1 22.98 797.64Z" fill="#FFFF00" stroke="#C4C4C4" stroke-width="0.7" stroke-linejoin="round"/>
<path d="M60.33 817.98L23.88 796.07A43.1 43.1 0 0 1 38.42 781.53Z" fill="#FFFF00" stroke="#C4C4C4" stroke-width="0.7" stroke-linejoin="round"/>
<path d="M60.59 817.82L39.99 780.63A43.1 43.1 0 0 1 59.85 775.31Z" fill="#FFFF00" stroke="#C4C4C4" stroke-width="0.7" stroke-linejoin="round"/>
<text x="50.95" y="767.90" text-anchor="middle" font-size="15.4" >12</text>
<text x="115.45" y="806.20" text-anchor="middle" font-size="15.4" >3</text>
<text x="76.85" y="877.00" text-anchor="middle" font-size="15.4" >6</text>
<text x="6.95" y="834.40" text-anchor="middle" font-size="15.4" >9</text>
<circle cx="191.38" cy="818.40" r="54.5" fill="none" stroke="#E2E2EA" stroke-width="0.75"/>
<path d="M238.03 805.90L244.02 804.29M203.88 865.05L205.48 871.04M144.72 830.90L138.73 832.51M178.87 771.75L177.27 765.76" stroke="#E6E6EC" stroke-width="0.7" fill="none"/>
<path d="M191.38 818.40L191.38 770.10A48.3 48.3 0 0 1 215.53 776.57Z" fill="#4169E1"/>
<path d="M191.38 818.40L215.53 776.57A48.3 48.3 0 0 1 233.20 794.25Z" fill="#4169E1"/>
<path d="M191.38 818.40L233.20 794.25A48.3 48.3 0 0 1 239.68 818.40Z" fill="#4169E1"/>
<path d="M191.38 818.40L239.68 818.40A48.3 48.3 0 0 1 233.20 842.55Z" fill="#4169E1"/>
<path d="M191.38 818.40L233.20 842.55A48.3 48.3 0 0 1 215.53 860.23Z" fill="#4169E1"/>
<path d="M191.38 818.40L215.53 860.23A48.3 48.3 0 0 1 191.38 866.70Z" fill="#4169E1"/>
<path d="M191.38 818.40L191.38 866.70A48.3 48.3 0 0 1 167.22 860.23Z" fill="#4169E1"/>
<path d="M191.38 818.40L167.22 860.23A48.3 48.3 0 0 1 149.55 842.55Z" fill="#FB0000"/>
<path d="M191.38 818.40L149.55 842.55A48.3 48.3 0 0 1 143.07 818.40Z" fill="#FB0000"/>
<path d="M191.38 818.40L143.07 818.40A48.3 48.3 0 0 1 149.55 794.25Z" fill="#FB0000"/>
<path d="M191.38 818.40L149.55 794.25A48.3 48.3 0 0 1 167.22 776.57Z" fill="#FB0000"/>
<path d="M191.38 818.40L167.22 776.57A48.3 48.3 0 0 1 191.38 770.10Z" fill="#FB0000"/>
<path d="M191.38 775.80L191.38 770.10M212.68 781.51L215.53 776.57M228.27 797.10L233.20 794.25M233.97 818.40L239.68 818.40M228.27 839.70L233.20 842.55M212.68 855.29L215.53 860.23M191.38 861.00L191.38 866.70M170.07 855.29L167.22 860.23M154.48 839.70L149.55 842.55M148.78 818.40L143.07 818.40M154.48 797.10L149.55 794.25M170.07 781.51L167.22 776.57" stroke="#FFFFFF" stroke-opacity="0.5" stroke-width="0.7" fill="none"/>
<path d="M191.53 817.82L192.28 775.31A43.1 43.1 0 0 1 212.14 780.63Z" fill="#FFFC00" stroke="#C4C4C4" stroke-width="0.7" stroke-linejoin="round"/>
<path d="M191.80 817.98L213.70 781.53A43.1 43.1 0 0 1 228.24 796.07Z" fill="#FFFC00" stroke="#C4C4C4" stroke-width="0.7" stroke-linejoin="round"/>
<path d="M191.95 818.24L229.14 797.64A43.1 43.1 0 0 1 234.47 817.50Z" fill="#FFFC00" stroke="#C4C4C4" stroke-width="0.7" stroke-linejoin="round"/>
<path d="M191.95 818.56L234.47 819.30A43.1 43.1 0 0 1 229.14 839.16Z" fill="#FFFC00" stroke="#C4C4C4" stroke-width="0.7" stroke-linejoin="round"/>
<path d="M191.80 818.82L228.24 840.73A43.1 43.1 0 0 1 213.70 855.27Z" fill="#FFFC00" stroke="#C4C4C4" stroke-width="0.7" stroke-linejoin="round"/>
<path d="M191.53 818.98L212.14 856.17A43.1 43.1 0 0 1 192.28 861.49Z" fill="#FFFC00" stroke="#C4C4C4" stroke-width="0.7" stroke-linejoin="round"/>
<path d="M191.22 818.98L190.47 861.49A43.1 43.1 0 0 1 170.61 856.17Z" fill="#FFFC00" stroke="#C4C4C4" stroke-width="0.7" stroke-linejoin="round"/>
<path d="M190.95 818.82L169.05 855.27A43.1 43.1 0 0 1 154.51 840.73Z" fill="#FFF000" stroke="#C4C4C4" stroke-width="0.7" stroke-linejoin="round"/>
<path d="M190.80 818.56L153.61 839.16A43.1 43.1 0 0 1 148.28 819.30Z" fill="#FFED00" stroke="#C4C4C4" stroke-width="0.7" stroke-linejoin="round"/>
<path d="M190.80 818.24L148.28 817.50A43.1 43.1 0 0 1 153.61 797.64Z" fill="#FFE400" stroke="#C4C4C4" stroke-width="0.7" stroke-linejoin="round"/>
<path d="M190.95 817.98L154.51 796.07A43.1 43.1 0 0 1 169.05 781.53Z" fill="#FFEA00" stroke="#C4C4C4" stroke-width="0.7" stroke-linejoin="round"/>
<path d="M191.22 817.82L170.61 780.63A43.1 43.1 0 0 1 190.47 775.31Z" fill="#FFF000" stroke="#C4C4C4" stroke-width="0.7" stroke-linejoin="round"/>
<text x="181.57" y="767.90" text-anchor="middle" font-size="15.4" >12</text>
<text x="246.07" y="806.20" text-anchor="middle" font-size="15.4" >3</text>
<text x="207.78" y="879.30" text-anchor="middle" font-size="15.4" >6</text>
<text x="137.57" y="834.40" text-anchor="middle" font-size="15.4" >9</text>
<circle cx="322.00" cy="818.40" r="54.5" fill="none" stroke="#E2E2EA" stroke-width="0.75"/>
<path d="M368.65 805.90L374.64 804.29M334.50 865.05L336.11 871.04M275.35 830.90L269.36 832.51M309.50 771.75L307.89 765.76" stroke="#E6E6EC" stroke-width="0.7" fill="none"/>
<path d="M322.00 818.40L322.00 770.10A48.3 48.3 0 0 1 346.15 776.57Z" fill="#4169E1"/>
<path d="M322.00 818.40L346.15 776.57A48.3 48.3 0 0 1 363.83 794.25Z" fill="#4169E1"/>
<path d="M322.00 818.40L363.83 794.25A48.3 48.3 0 0 1 370.30 818.40Z" fill="#4169E1"/>
<path d="M322.00 818.40L370.30 818.40A48.3 48.3 0 0 1 363.83 842.55Z" fill="#4169E1"/>
<path d="M322.00 818.40L363.83 842.55A48.3 48.3 0 0 1 346.15 860.23Z" fill="#4169E1"/>
<path d="M322.00 818.40L346.15 860.23A48.3 48.3 0 0 1 322.00 866.70Z" fill="#4169E1"/>
<path d="M322.00 818.40L322.00 866.70A48.3 48.3 0 0 1 297.85 860.23Z" fill="#FB0000"/>
<path d="M322.00 818.40L297.85 860.23A48.3 48.3 0 0 1 280.17 842.55Z" fill="#FB0000"/>
<path d="M322.00 818.40L280.17 842.55A48.3 48.3 0 0 1 273.70 818.40Z" fill="#FB0000"/>
<path d="M322.00 818.40L273.70 818.40A48.3 48.3 0 0 1 280.17 794.25Z" fill="#FB0000"/>
<path d="M322.00 818.40L280.17 794.25A48.3 48.3 0 0 1 297.85 776.57Z" fill="#FB0000"/>
<path d="M322.00 818.40L297.85 776.57A48.3 48.3 0 0 1 322.00 770.10Z" fill="#FB0000"/>
<path d="M322.00 775.80L322.00 770.10M343.30 781.51L346.15 776.57M358.89 797.10L363.83 794.25M364.60 818.40L370.30 818.40M358.89 839.70L363.83 842.55M343.30 855.29L346.15 860.23M322.00 861.00L322.00 866.70M300.70 855.29L297.85 860.23M285.11 839.70L280.17 842.55M279.40 818.40L273.70 818.40M285.11 797.10L280.17 794.25M300.70 781.51L297.85 776.57" stroke="#FFFFFF" stroke-opacity="0.5" stroke-width="0.7" fill="none"/>
<path d="M322.16 817.82L322.90 775.31A43.1 43.1 0 0 1 342.76 780.63Z" fill="#FFFC00" stroke="#C4C4C4" stroke-width="0.7" stroke-linejoin="round"/>
<path d="M322.42 817.98L344.33 781.53A43.1 43.1 0 0 1 358.87 796.07Z" fill="#FFFC00" stroke="#C4C4C4" stroke-width="0.7" stroke-linejoin="round"/>
<path d="M322.58 818.24L359.77 797.64A43.1 43.1 0 0 1 365.09 817.50Z" fill="#FFFC00" stroke="#C4C4C4" stroke-width="0.7" stroke-linejoin="round"/>
<path d="M322.58 818.56L365.09 819.30A43.1 43.1 0 0 1 359.77 839.16Z" fill="#FFFC00" stroke="#C4C4C4" stroke-width="0.7" stroke-linejoin="round"/>
<path d="M322.42 818.82L358.87 840.73A43.1 43.1 0 0 1 344.33 855.27Z" fill="#FFFC00" stroke="#C4C4C4" stroke-width="0.7" stroke-linejoin="round"/>
<path d="M322.16 818.98L342.76 856.17A43.1 43.1 0 0 1 322.90 861.49Z" fill="#FFFC00" stroke="#C4C4C4" stroke-width="0.7" stroke-linejoin="round"/>
<path d="M321.84 818.98L321.10 861.49A43.1 43.1 0 0 1 301.24 856.17Z" fill="#FFF000" stroke="#C4C4C4" stroke-width="0.7" stroke-linejoin="round"/>
<path d="M321.58 818.82L299.67 855.27A43.1 43.1 0 0 1 285.13 840.73Z" fill="#FFEA00" stroke="#C4C4C4" stroke-width="0.7" stroke-linejoin="round"/>
<path d="M321.42 818.56L284.23 839.16A43.1 43.1 0 0 1 278.91 819.30Z" fill="#FFE700" stroke="#C4C4C4" stroke-width="0.7" stroke-linejoin="round"/>
<path d="M321.42 818.24L278.91 817.50A43.1 43.1 0 0 1 284.23 797.64Z" fill="#FFD900" stroke="#C4C4C4" stroke-width="0.7" stroke-linejoin="round"/>
<path d="M321.58 817.98L285.13 796.07A43.1 43.1 0 0 1 299.67 781.53Z" fill="#FFED00" stroke="#C4C4C4" stroke-width="0.7" stroke-linejoin="round"/>
<path d="M321.84 817.82L301.24 780.63A43.1 43.1 0 0 1 321.10 775.31Z" fill="#FFF300" stroke="#C4C4C4" stroke-width="0.7" stroke-linejoin="round"/>
<text x="312.20" y="767.90" text-anchor="middle" font-size="15.4" >12</text>
<text x="376.70" y="806.20" text-anchor="middle" font-size="15.4" >3</text>
<text x="338.40" y="879.30" text-anchor="middle" font-size="15.4" >6</text>
<text x="268.20" y="834.40" text-anchor="middle" font-size="15.4" >9</text>
<circle cx="452.62" cy="818.40" r="54.5" fill="none" stroke="#E2E2EA" stroke-width="0.75"/>
<path d="M499.28 805.90L505.27 804.29M465.13 865.05L466.73 871.04M405.97 830.90L399.98 832.51M440.12 771.75L438.52 765.76" stroke="#E6E6EC" stroke-width="0.7" fill="none"/>
<path d="M452.62 818.40L452.62 770.10A48.3 48.3 0 0 1 476.77 776.57Z" fill="#4169E1"/>
<path d="M452.62 818.40L476.77 776.57A48.3 48.3 0 0 1 494.45 794.25Z" fill="#4169E1"/>
<path d="M452.62 818.40L494.45 794.25A48.3 48.3 0 0 1 500.93 818.40Z" fill="#4169E1"/>
<path d="M452.62 818.40L500.93 818.40A48.3 48.3 0 0 1 494.45 842.55Z" fill="#4169E1"/>
<path d="M452.62 818.40L494.45 842.55A48.3 48.3 0 0 1 476.77 860.23Z" fill="#4169E1"/>
<path d="M452.62 818.40L476.77 860.23A48.3 48.3 0 0 1 452.62 866.70Z" fill="#FB0000"/>
<path d="M452.62 818.40L452.62 866.70A48.3 48.3 0 0 1 428.48 860.23Z" fill="#FB0000"/>
<path d="M452.62 818.40L428.48 860.23A48.3 48.3 0 0 1 410.80 842.55Z" fill="#FB0000"/>
<path d="M452.62 818.40L410.80 842.55A48.3 48.3 0 0 1 404.32 818.40Z" fill="#FB0000"/>
<path d="M452.62 818.40L404.32 818.40A48.3 48.3 0 0 1 410.80 794.25Z" fill="#FB0000"/>
<path d="M452.62 818.40L410.80 794.25A48.3 48.3 0 0 1 428.47 776.57Z" fill="#FB0000"/>
<path d="M452.62 818.40L428.47 776.57A48.3 48.3 0 0 1 452.62 770.10Z" fill="#FB0000"/>
<path d="M452.62 775.80L452.62 770.10M473.93 781.51L476.77 776.57M489.52 797.10L494.45 794.25M495.23 818.40L500.93 818.40M489.52 839.70L494.45 842.55M473.93 855.29L476.77 860.23M452.62 861.00L452.62 866.70M431.32 855.29L428.48 860.23M415.73 839.70L410.80 842.55M410.02 818.40L404.32 818.40M415.73 797.10L410.80 794.25M431.32 781.51L428.47 776.57" stroke="#FFFFFF" stroke-opacity="0.5" stroke-width="0.7" fill="none"/>
<path d="M452.78 817.82L453.53 775.31A43.1 43.1 0 0 1 473.39 780.63Z" fill="#FFFC00" stroke="#C4C4C4" stroke-width="0.7" stroke-linejoin="round"/>
<path d="M453.05 817.98L474.95 781.53A43.1 43.1 0 0 1 489.49 796.07Z" fill="#FFFC00" stroke="#C4C4C4" stroke-width="0.7" stroke-linejoin="round"/>
<path d="M453.20 818.24L490.39 797.64A43.1 43.1 0 0 1 495.72 817.50Z" fill="#FFFC00" stroke="#C4C4C4" stroke-width="0.7" stroke-linejoin="round"/>
<path d="M453.20 818.56L495.72 819.30A43.1 43.1 0 0 1 490.39 839.16Z" fill="#FFFC00" stroke="#C4C4C4" stroke-width="0.7" stroke-linejoin="round"/>
<path d="M453.05 818.82L489.49 840.73A43.1 43.1 0 0 1 474.95 855.27Z" fill="#FFFC00" stroke="#C4C4C4" stroke-width="0.7" stroke-linejoin="round"/>
<path d="M452.78 818.98L473.39 856.17A43.1 43.1 0 0 1 453.53 861.49Z" fill="#FFF300" stroke="#C4C4C4" stroke-width="0.7" stroke-linejoin="round"/>
<path d="M452.47 818.98L451.72 861.49A43.1 43.1 0 0 1 431.86 856.17Z" fill="#FFED00" stroke="#C4C4C4" stroke-width="0.7" stroke-linejoin="round"/>
<path d="M452.20 818.82L430.30 855.27A43.1 43.1 0 0 1 415.76 840.73Z" fill="#FFE400" stroke="#C4C4C4" stroke-width="0.7" stroke-linejoin="round"/>
<path d="M452.05 818.56L414.86 839.16A43.1 43.1 0 0 1 409.53 819.30Z" fill="#FFD900" stroke="#C4C4C4" stroke-width="0.7" stroke-linejoin="round"/>
<path d="M452.05 818.24L409.53 817.50A43.1 43.1 0 0 1 414.86 797.64Z" fill="#FFDC00" stroke="#C4C4C4" stroke-width="0.7" stroke-linejoin="round"/>
<path d="M452.20 817.98L415.76 796.07A43.1 43.1 0 0 1 430.30 781.53Z" fill="#FFED00" stroke="#C4C4C4" stroke-width="0.7" stroke-linejoin="round"/>
<path d="M452.47 817.82L431.86 780.63A43.1 43.1 0 0 1 451.72 775.31Z" fill="#FFF300" stroke="#C4C4C4" stroke-width="0.7" stroke-linejoin="round"/>
<text x="442.82" y="767.90" text-anchor="middle" font-size="15.4" >12</text>
<text x="507.32" y="806.20" text-anchor="middle" font-size="15.4" >3</text>
<text x="469.02" y="879.30" text-anchor="middle" font-size="15.4" >6</text>
<text x="398.82" y="834.40" text-anchor="middle" font-size="15.4" >9</text>
<circle cx="583.25" cy="818.40" r="54.5" fill="none" stroke="#E2E2EA" stroke-width="0.75"/>
<path d="M629.90 805.90L635.89 804.29M595.75 865.05L597.36 871.04M536.60 830.90L530.61 832.51M570.75 771.75L569.14 765.76" stroke="#E6E6EC" stroke-width="0.7" fill="none"/>
<path d="M583.25 818.40L583.25 770.10A48.3 48.3 0 0 1 607.40 776.57Z" fill="#4169E1"/>
<path d="M583.25 818.40L607.40 776.57A48.3 48.3 0 0 1 625.08 794.25Z" fill="#4169E1"/>
<path d="M583.25 818.40L625.08 794.25A48.3 48.3 0 0 1 631.55 818.40Z" fill="#FB0000"/>
<path d="M583.25 818.40L631.55 818.40A48.3 48.3 0 0 1 625.08 842.55Z" fill="#FB0000"/>
<path d="M583.25 818.40L625.08 842.55A48.3 48.3 0 0 1 607.40 860.23Z" fill="#FB0000"/>
<path d="M583.25 818.40L607.40 860.23A48.3 48.3 0 0 1 583.25 866.70Z" fill="#FB0000"/>
<path d="M583.25 818.40L583.25 866.70A48.3 48.3 0 0 1 559.10 860.23Z" fill="#FB0000"/>
<path d="M583.25 818.40L559.10 860.23A48.3 48.3 0 0 1 541.42 842.55Z" fill="#FB0000"/>
<path d="M583.25 818.40L541.42 842.55A48.3 48.3 0 0 1 534.95 818.40Z" fill="#FB0000"/>
<path d="M583.25 818.40L534.95 818.40A48.3 48.3 0 0 1 541.42 794.25Z" fill="#FB0000"/>
<path d="M583.25 818.40L541.42 794.25A48.3 48.3 0 0 1 559.10 776.57Z" fill="#FB0000"/>
<path d="M583.25 818.40L559.10 776.57A48.3 48.3 0 0 1 583.25 770.10Z" fill="#FB0000"/>
<path d="M583.25 775.80L583.25 770.10M604.55 781.51L607.40 776.57M620.14 797.10L625.08 794.25M625.85 818.40L631.55 818.40M620.14 839.70L625.08 842.55M604.55 855.29L607.40 860.23M583.25 861.00L583.25 866.70M561.95 855.29L559.10 860.23M546.36 839.70L541.42 842.55M540.65 818.40L534.95 818.40M546.36 797.10L541.42 794.25M561.95 781.51L559.10 776.57" stroke="#FFFFFF" stroke-opacity="0.5" stroke-width="0.7" fill="none"/>
<path d="M583.41 817.82L584.15 775.31A43.1 43.1 0 0 1 604.01 780.63Z" fill="#FFFC00" stroke="#C4C4C4" stroke-width="0.7" stroke-linejoin="round"/>
<path d="M583.67 817.98L605.58 781.53A43.1 43.1 0 0 1 620.12 796.07Z" fill="#FFFC00" stroke="#C4C4C4" stroke-width="0.7" stroke-linejoin="round"/>
<path d="M583.83 818.24L621.02 797.64A43.1 43.1 0 0 1 626.34 817.50Z" fill="#FFF300" stroke="#C4C4C4" stroke-width="0.7" stroke-linejoin="round"/>
<path d="M583.83 818.56L626.34 819.30A43.1 43.1 0 0 1 621.02 839.16Z" fill="#FFF000" stroke="#C4C4C4" stroke-width="0.7" stroke-linejoin="round"/>
<path d="M583.67 818.82L620.12 840.73A43.1 43.1 0 0 1 605.58 855.27Z" fill="#FFED00" stroke="#C4C4C4" stroke-width="0.7" stroke-linejoin="round"/>
<path d="M583.41 818.98L604.01 856.17A43.1 43.1 0 0 1 584.15 861.49Z" fill="#FFE400" stroke="#C4C4C4" stroke-width="0.7" stroke-linejoin="round"/>
<path d="M583.09 818.98L582.35 861.49A43.1 43.1 0 0 1 562.49 856.17Z" fill="#FFD900" stroke="#C4C4C4" stroke-width="0.7" stroke-linejoin="round"/>
<path d="M582.83 818.82L560.92 855.27A43.1 43.1 0 0 1 546.38 840.73Z" fill="#FFDC00" stroke="#C4C4C4" stroke-width="0.7" stroke-linejoin="round"/>
<path d="M582.67 818.56L545.48 839.16A43.1 43.1 0 0 1 540.16 819.30Z" fill="#FFE100" stroke="#C4C4C4" stroke-width="0.7" stroke-linejoin="round"/>
<path d="M582.67 818.24L540.16 817.50A43.1 43.1 0 0 1 545.48 797.64Z" fill="#FFE100" stroke="#C4C4C4" stroke-width="0.7" stroke-linejoin="round"/>
<path d="M582.83 817.98L546.38 796.07A43.1 43.1 0 0 1 560.92 781.53Z" fill="#FFED00" stroke="#C4C4C4" stroke-width="0.7" stroke-linejoin="round"/>
<path d="M583.09 817.82L562.49 780.63A43.1 43.1 0 0 1 582.35 775.31Z" fill="#FFF300" stroke="#C4C4C4" stroke-width="0.7" stroke-linejoin="round"/>
<text x="573.45" y="767.90" text-anchor="middle" font-size="15.4" >12</text>
<text x="637.95" y="806.20" text-anchor="middle" font-size="15.4" >3</text>
<text x="599.65" y="879.30" text-anchor="middle" font-size="15.4" >6</text>
<text x="529.45" y="834.40" text-anchor="middle" font-size="15.4" >9</text>
<circle cx="713.88" cy="818.40" r="54.5" fill="none" stroke="#E2E2EA" stroke-width="0.75"/>
<path d="M760.53 805.90L766.52 804.29M726.38 865.05L727.98 871.04M667.22 830.90L661.23 832.51M701.37 771.75L699.77 765.76" stroke="#E6E6EC" stroke-width="0.7" fill="none"/>
<path d="M713.88 818.40L713.88 770.10A48.3 48.3 0 0 1 738.02 776.57Z" fill="#FB0000"/>
<path d="M713.88 818.40L738.02 776.57A48.3 48.3 0 0 1 755.70 794.25Z" fill="#FB0000"/>
<path d="M713.88 818.40L755.70 794.25A48.3 48.3 0 0 1 762.17 818.40Z" fill="#FB0000"/>
<path d="M713.88 818.40L762.17 818.40A48.3 48.3 0 0 1 755.70 842.55Z" fill="#FB0000"/>
<path d="M713.88 818.40L755.70 842.55A48.3 48.3 0 0 1 738.02 860.23Z" fill="#FB0000"/>
<path d="M713.88 818.40L738.02 860.23A48.3 48.3 0 0 1 713.88 866.70Z" fill="#FB0000"/>
<path d="M713.88 818.40L713.88 866.70A48.3 48.3 0 0 1 689.73 860.23Z" fill="#FB0000"/>
<path d="M713.88 818.40L689.73 860.23A48.3 48.3 0 0 1 672.05 842.55Z" fill="#FB0000"/>
<path d="M713.88 818.40L672.05 842.55A48.3 48.3 0 0 1 665.58 818.40Z" fill="#FB0000"/>
<path d="M713.88 818.40L665.58 818.40A48.3 48.3 0 0 1 672.05 794.25Z" fill="#FB0000"/>
<path d="M713.88 818.40L672.05 794.25A48.3 48.3 0 0 1 689.73 776.57Z" fill="#FB0000"/>
<path d="M713.88 818.40L689.73 776.57A48.3 48.3 0 0 1 713.88 770.10Z" fill="#FB0000"/>
<path d="M713.88 775.80L713.88 770.10M735.17 781.51L738.02 776.57M750.77 797.10L755.70 794.25M756.48 818.40L762.17 818.40M750.77 839.70L755.70 842.55M735.17 855.29L738.02 860.23M713.88 861.00L713.88 866.70M692.58 855.29L689.73 860.23M676.98 839.70L672.05 842.55M671.27 818.40L665.58 818.40M676.98 797.10L672.05 794.25M692.57 781.51L689.73 776.57" stroke="#FFFFFF" stroke-opacity="0.5" stroke-width="0.7" fill="none"/>
<path d="M714.03 817.82L714.78 775.31A43.1 43.1 0 0 1 734.64 780.63Z" fill="#FFED00" stroke="#C4C4C4" stroke-width="0.7" stroke-linejoin="round"/>
<path d="M714.30 817.98L736.20 781.53A43.1 43.1 0 0 1 750.74 796.07Z" fill="#FFE900" stroke="#C4C4C4" stroke-width="0.7" stroke-linejoin="round"/>
<path d="M714.45 818.24L751.64 797.64A43.1 43.1 0 0 1 756.97 817.50Z" fill="#FFE700" stroke="#C4C4C4" stroke-width="0.7" stroke-linejoin="round"/>
<path d="M714.45 818.56L756.97 819.30A43.1 43.1 0 0 1 751.64 839.16Z" fill="#FFD600" stroke="#C4C4C4" stroke-width="0.7" stroke-linejoin="round"/>
<path d="M714.30 818.82L750.74 840.73A43.1 43.1 0 0 1 736.20 855.27Z" fill="#FFE900" stroke="#C4C4C4" stroke-width="0.7" stroke-linejoin="round"/>
<path d="M714.03 818.98L734.64 856.17A43.1 43.1 0 0 1 714.78 861.49Z" fill="#FFF000" stroke="#C4C4C4" stroke-width="0.7" stroke-linejoin="round"/>
<path d="M713.72 818.98L712.97 861.49A43.1 43.1 0 0 1 693.11 856.17Z" fill="#FFF000" stroke="#C4C4C4" stroke-width="0.7" stroke-linejoin="round"/>
<path d="M713.45 818.82L691.55 855.27A43.1 43.1 0 0 1 677.01 840.73Z" fill="#FFE900" stroke="#C4C4C4" stroke-width="0.7" stroke-linejoin="round"/>
<path d="M713.30 818.56L676.11 839.16A43.1 43.1 0 0 1 670.78 819.30Z" fill="#FFD600" stroke="#C4C4C4" stroke-width="0.7" stroke-linejoin="round"/>
<path d="M713.30 818.24L670.78 817.50A43.1 43.1 0 0 1 676.11 797.64Z" fill="#FFD900" stroke="#C4C4C4" stroke-width="0.7" stroke-linejoin="round"/>
<path d="M713.45 817.98L677.01 796.07A43.1 43.1 0 0 1 691.55 781.53Z" fill="#FFEA00" stroke="#C4C4C4" stroke-width="0.7" stroke-linejoin="round"/>
<path d="M713.72 817.82L693.11 780.63A43.1 43.1 0 0 1 712.97 775.31Z" fill="#FFEA00" stroke="#C4C4C4" stroke-width="0.7" stroke-linejoin="round"/>
<text x="704.08" y="767.90" text-anchor="middle" font-size="15.4" >12</text>
<text x="768.58" y="806.20" text-anchor="middle" font-size="15.4" >3</text>
<text x="730.27" y="879.30" text-anchor="middle" font-size="15.4" >6</text>
<text x="660.08" y="834.40" text-anchor="middle" font-size="15.4" >9</text>
<circle cx="844.50" cy="818.40" r="54.5" fill="none" stroke="#E2E2EA" stroke-width="0.75"/>
<path d="M891.15 805.90L897.14 804.29M857.00 865.05L858.61 871.04M797.85 830.90L791.86 832.51M832.00 771.75L830.39 765.76" stroke="#E6E6EC" stroke-width="0.7" fill="none"/>
<path d="M844.50 818.40L844.50 770.10A48.3 48.3 0 0 1 868.65 776.57Z" fill="#FB0000"/>
<path d="M844.50 818.40L868.65 776.57A48.3 48.3 0 0 1 886.33 794.25Z" fill="#FB0000"/>
<path d="M844.50 818.40L886.33 794.25A48.3 48.3 0 0 1 892.80 818.40Z" fill="#FB0000"/>
<path d="M844.50 818.40L892.80 818.40A48.3 48.3 0 0 1 886.33 842.55Z" fill="#FB0000"/>
<path d="M844.50 818.40L886.33 842.55A48.3 48.3 0 0 1 868.65 860.23Z" fill="#FB0000"/>
<path d="M844.50 818.40L868.65 860.23A48.3 48.3 0 0 1 844.50 866.70Z" fill="#FB0000"/>
<path d="M844.50 818.40L844.50 866.70A48.3 48.3 0 0 1 820.35 860.23Z" fill="#FB0000"/>
<path d="M844.50 818.40L820.35 860.23A48.3 48.3 0 0 1 802.67 842.55Z" fill="#FB0000"/>
<path d="M844.50 818.40L802.67 842.55A48.3 48.3 0 0 1 796.20 818.40Z" fill="#FB0000"/>
<path d="M844.50 818.40L796.20 818.40A48.3 48.3 0 0 1 802.67 794.25Z" fill="#FB0000"/>
<path d="M844.50 818.40L802.67 794.25A48.3 48.3 0 0 1 820.35 776.57Z" fill="#FB0000"/>
<path d="M844.50 818.40L820.35 776.57A48.3 48.3 0 0 1 844.50 770.10Z" fill="#FB0000"/>
<path d="M844.50 775.80L844.50 770.10M865.80 781.51L868.65 776.57M881.39 797.10L886.33 794.25M887.10 818.40L892.80 818.40M881.39 839.70L886.33 842.55M865.80 855.29L868.65 860.23M844.50 861.00L844.50 866.70M823.20 855.29L820.35 860.23M807.61 839.70L802.67 842.55M801.90 818.40L796.20 818.40M807.61 797.10L802.67 794.25M823.20 781.51L820.35 776.57" stroke="#FFFFFF" stroke-opacity="0.5" stroke-width="0.7" fill="none"/>
<path d="M844.66 817.82L845.40 775.31A43.1 43.1 0 0 1 865.26 780.63Z" fill="#FFE900" stroke="#C4C4C4" stroke-width="0.7" stroke-linejoin="round"/>
<path d="M844.92 817.98L866.83 781.53A43.1 43.1 0 0 1 881.37 796.07Z" fill="#FFD600" stroke="#C4C4C4" stroke-width="0.7" stroke-linejoin="round"/>
<path d="M845.08 818.24L882.27 797.64A43.1 43.1 0 0 1 887.59 817.50Z" fill="#FFE900" stroke="#C4C4C4" stroke-width="0.7" stroke-linejoin="round"/>
<path d="M845.08 818.56L887.59 819.30A43.1 43.1 0 0 1 882.27 839.16Z" fill="#FFF000" stroke="#C4C4C4" stroke-width="0.7" stroke-linejoin="round"/>
<path d="M844.92 818.82L881.37 840.73A43.1 43.1 0 0 1 866.83 855.27Z" fill="#FFE900" stroke="#C4C4C4" stroke-width="0.7" stroke-linejoin="round"/>
<path d="M844.66 818.98L865.26 856.17A43.1 43.1 0 0 1 845.40 861.49Z" fill="#FFD900" stroke="#C4C4C4" stroke-width="0.7" stroke-linejoin="round"/>
<path d="M844.34 818.98L843.60 861.49A43.1 43.1 0 0 1 823.74 856.17Z" fill="#FFE900" stroke="#C4C4C4" stroke-width="0.7" stroke-linejoin="round"/>
<path d="M844.08 818.82L822.17 855.27A43.1 43.1 0 0 1 807.63 840.73Z" fill="#FFF000" stroke="#C4C4C4" stroke-width="0.7" stroke-linejoin="round"/>
<path d="M843.92 818.56L806.73 839.16A43.1 43.1 0 0 1 801.41 819.30Z" fill="#FFE900" stroke="#C4C4C4" stroke-width="0.7" stroke-linejoin="round"/>
<path d="M843.92 818.24L801.41 817.50A43.1 43.1 0 0 1 806.73 797.64Z" fill="#FFD900" stroke="#C4C4C4" stroke-width="0.7" stroke-linejoin="round"/>
<path d="M844.08 817.98L807.63 796.07A43.1 43.1 0 0 1 822.17 781.53Z" fill="#FFED00" stroke="#C4C4C4" stroke-width="0.7" stroke-linejoin="round"/>
<path d="M844.34 817.82L823.74 780.63A43.1 43.1 0 0 1 843.60 775.31Z" fill="#FFE900" stroke="#C4C4C4" stroke-width="0.7" stroke-linejoin="round"/>
<text x="834.70" y="767.90" text-anchor="middle" font-size="15.4" >12</text>
<text x="899.20" y="806.20" text-anchor="middle" font-size="15.4" >3</text>
<text x="860.90" y="879.30" text-anchor="middle" font-size="15.4" >6</text>
<text x="790.70" y="834.40" text-anchor="middle" font-size="15.4" >9</text>
<circle cx="975.12" cy="818.40" r="54.5" fill="none" stroke="#E2E2EA" stroke-width="0.75"/>
<path d="M1021.78 805.90L1027.77 804.29M987.63 865.05L989.23 871.04M928.47 830.90L922.48 832.51M962.62 771.75L961.02 765.76" stroke="#E6E6EC" stroke-width="0.7" fill="none"/>
<path d="M975.12 818.40L975.12 770.10A48.3 48.3 0 0 1 999.27 776.57Z" fill="#FB0000"/>
<path d="M975.12 818.40L999.27 776.57A48.3 48.3 0 0 1 1016.95 794.25Z" fill="#FB0000"/>
<path d="M975.12 818.40L1016.95 794.25A48.3 48.3 0 0 1 1023.42 818.40Z" fill="#FB0000"/>
<path d="M975.12 818.40L1023.42 818.40A48.3 48.3 0 0 1 1016.95 842.55Z" fill="#FB0000"/>
<path d="M975.12 818.40L1016.95 842.55A48.3 48.3 0 0 1 999.27 860.23Z" fill="#FB0000"/>
<path d="M975.12 818.40L999.27 860.23A48.3 48.3 0 0 1 975.12 866.70Z" fill="#FB0000"/>
<path d="M975.12 818.40L975.12 866.70A48.3 48.3 0 0 1 950.98 860.23Z" fill="#FB0000"/>
<path d="M975.12 818.40L950.98 860.23A48.3 48.3 0 0 1 933.30 842.55Z" fill="#FB0000"/>
<path d="M975.12 818.40L933.30 842.55A48.3 48.3 0 0 1 926.83 818.40Z" fill="#FB0000"/>
<path d="M975.12 818.40L926.83 818.40A48.3 48.3 0 0 1 933.30 794.25Z" fill="#FB0000"/>
<path d="M975.12 818.40L933.30 794.25A48.3 48.3 0 0 1 950.98 776.57Z" fill="#FB0000"/>
<path d="M975.12 818.40L950.98 776.57A48.3 48.3 0 0 1 975.12 770.10Z" fill="#FB0000"/>
<path d="M975.12 775.80L975.12 770.10M996.42 781.51L999.27 776.57M1012.02 797.10L1016.95 794.25M1017.73 818.40L1023.42 818.40M1012.02 839.70L1016.95 842.55M996.42 855.29L999.27 860.23M975.12 861.00L975.12 866.70M953.83 855.29L950.98 860.23M938.23 839.70L933.30 842.55M932.52 818.40L926.83 818.40M938.23 797.10L933.30 794.25M953.82 781.51L950.98 776.57" stroke="#FFFFFF" stroke-opacity="0.5" stroke-width="0.7" fill="none"/>
<path d="M975.28 817.82L976.03 775.31A43.1 43.1 0 0 1 995.89 780.63Z" fill="#FFED00" stroke="#C4C4C4" stroke-width="0.7" stroke-linejoin="round"/>
<path d="M975.55 817.98L997.45 781.53A43.1 43.1 0 0 1 1011.99 796.07Z" fill="#FFE900" stroke="#C4C4C4" stroke-width="0.7" stroke-linejoin="round"/>
<path d="M975.70 818.24L1012.89 797.64A43.1 43.1 0 0 1 1018.22 817.50Z" fill="#FFE700" stroke="#C4C4C4" stroke-width="0.7" stroke-linejoin="round"/>
<path d="M975.70 818.56L1018.22 819.30A43.1 43.1 0 0 1 1012.89 839.16Z" fill="#FFD600" stroke="#C4C4C4" stroke-width="0.7" stroke-linejoin="round"/>
<path d="M975.55 818.82L1011.99 840.73A43.1 43.1 0 0 1 997.45 855.27Z" fill="#FFD600" stroke="#C4C4C4" stroke-width="0.7" stroke-linejoin="round"/>
<path d="M975.28 818.98L995.89 856.17A43.1 43.1 0 0 1 976.03 861.49Z" fill="#FFD600" stroke="#C4C4C4" stroke-width="0.7" stroke-linejoin="round"/>
<path d="M974.97 818.98L974.22 861.49A43.1 43.1 0 0 1 954.36 856.17Z" fill="#FFD600" stroke="#C4C4C4" stroke-width="0.7" stroke-linejoin="round"/>
<path d="M974.70 818.82L952.80 855.27A43.1 43.1 0 0 1 938.26 840.73Z" fill="#FFD600" stroke="#C4C4C4" stroke-width="0.7" stroke-linejoin="round"/>
<path d="M974.55 818.56L937.36 839.16A43.1 43.1 0 0 1 932.03 819.30Z" fill="#FFD600" stroke="#C4C4C4" stroke-width="0.7" stroke-linejoin="round"/>
<path d="M974.55 818.24L932.03 817.50A43.1 43.1 0 0 1 937.36 797.64Z" fill="#FFD900" stroke="#C4C4C4" stroke-width="0.7" stroke-linejoin="round"/>
<path d="M974.70 817.98L938.26 796.07A43.1 43.1 0 0 1 952.80 781.53Z" fill="#FFEF00" stroke="#C4C4C4" stroke-width="0.7" stroke-linejoin="round"/>
<path d="M974.97 817.82L954.36 780.63A43.1 43.1 0 0 1 974.22 775.31Z" fill="#FFED00" stroke="#C4C4C4" stroke-width="0.7" stroke-linejoin="round"/>
<text x="965.33" y="767.90" text-anchor="middle" font-size="15.4" >12</text>
<text x="1029.83" y="806.20" text-anchor="middle" font-size="15.4" >3</text>
<text x="991.52" y="879.30" text-anchor="middle" font-size="15.4" >6</text>
<text x="921.33" y="834.40" text-anchor="middle" font-size="15.4" >9</text>
<circle cx="1105.75" cy="818.40" r="54.5" fill="none" stroke="#E2E2EA" stroke-width="0.75"/>
<path d="M1152.40 805.90L1158.39 804.29M1118.25 865.05L1119.86 871.04M1059.10 830.90L1053.11 832.51M1093.25 771.75L1091.64 765.76" stroke="#E6E6EC" stroke-width="0.7" fill="none"/>
<path d="M1105.75 818.40L1105.75 770.10A48.3 48.3 0 0 1 1129.90 776.57Z" fill="#FB0000"/>
<path d="M1105.75 818.40L1129.90 776.57A48.3 48.3 0 0 1 1147.58 794.25Z" fill="#FB0000"/>
<path d="M1105.75 818.40L1147.58 794.25A48.3 48.3 0 0 1 1154.05 818.40Z" fill="#FB0000"/>
<path d="M1105.75 818.40L1154.05 818.40A48.3 48.3 0 0 1 1147.58 842.55Z" fill="#FB0000"/>
<path d="M1105.75 818.40L1147.58 842.55A48.3 48.3 0 0 1 1129.90 860.23Z" fill="#FB0000"/>
<path d="M1105.75 818.40L1129.90 860.23A48.3 48.3 0 0 1 1105.75 866.70Z" fill="#FB0000"/>
<path d="M1105.75 818.40L1105.75 866.70A48.3 48.3 0 0 1 1081.60 860.23Z" fill="#FB0000"/>
<path d="M1105.75 818.40L1081.60 860.23A48.3 48.3 0 0 1 1063.92 842.55Z" fill="#FB0000"/>
<path d="M1105.75 818.40L1063.92 842.55A48.3 48.3 0 0 1 1057.45 818.40Z" fill="#FB0000"/>
<path d="M1105.75 818.40L1057.45 818.40A48.3 48.3 0 0 1 1063.92 794.25Z" fill="#FB0000"/>
<path d="M1105.75 818.40L1063.92 794.25A48.3 48.3 0 0 1 1081.60 776.57Z" fill="#FB0000"/>
<path d="M1105.75 818.40L1081.60 776.57A48.3 48.3 0 0 1 1105.75 770.10Z" fill="#FB0000"/>
<path d="M1105.75 775.80L1105.75 770.10M1127.05 781.51L1129.90 776.57M1142.64 797.10L1147.58 794.25M1148.35 818.40L1154.05 818.40M1142.64 839.70L1147.58 842.55M1127.05 855.29L1129.90 860.23M1105.75 861.00L1105.75 866.70M1084.45 855.29L1081.60 860.23M1068.86 839.70L1063.92 842.55M1063.15 818.40L1057.45 818.40M1068.86 797.10L1063.92 794.25M1084.45 781.51L1081.60 776.57" stroke="#FFFFFF" stroke-opacity="0.5" stroke-width="0.7" fill="none"/>
<path d="M1105.91 817.82L1106.65 775.31A43.1 43.1 0 0 1 1126.51 780.63Z" fill="#FFD600" stroke="#C4C4C4" stroke-width="0.7" stroke-linejoin="round"/>
<path d="M1106.17 817.98L1128.08 781.53A43.1 43.1 0 0 1 1142.62 796.07Z" fill="#FFD300" stroke="#C4C4C4" stroke-width="0.7" stroke-linejoin="round"/>
<path d="M1106.33 818.24L1143.52 797.64A43.1 43.1 0 0 1 1148.84 817.50Z" fill="#FFD600" stroke="#C4C4C4" stroke-width="0.7" stroke-linejoin="round"/>
<path d="M1106.33 818.56L1148.84 819.30A43.1 43.1 0 0 1 1143.52 839.16Z" fill="#FFD700" stroke="#C4C4C4" stroke-width="0.7" stroke-linejoin="round"/>
<path d="M1106.17 818.82L1142.62 840.73A43.1 43.1 0 0 1 1128.08 855.27Z" fill="#FFD900" stroke="#C4C4C4" stroke-width="0.7" stroke-linejoin="round"/>
<path d="M1105.91 818.98L1126.51 856.17A43.1 43.1 0 0 1 1106.65 861.49Z" fill="#FFD900" stroke="#C4C4C4" stroke-width="0.7" stroke-linejoin="round"/>
<path d="M1105.59 818.98L1104.85 861.49A43.1 43.1 0 0 1 1084.99 856.17Z" fill="#FFDA00" stroke="#C4C4C4" stroke-width="0.7" stroke-linejoin="round"/>
<path d="M1105.33 818.82L1083.42 855.27A43.1 43.1 0 0 1 1068.88 840.73Z" fill="#FFDA00" stroke="#C4C4C4" stroke-width="0.7" stroke-linejoin="round"/>
<path d="M1105.17 818.56L1067.98 839.16A43.1 43.1 0 0 1 1062.66 819.30Z" fill="#FFD900" stroke="#C4C4C4" stroke-width="0.7" stroke-linejoin="round"/>
<path d="M1105.17 818.24L1062.66 817.50A43.1 43.1 0 0 1 1067.98 797.64Z" fill="#FFD100" stroke="#C4C4C4" stroke-width="0.7" stroke-linejoin="round"/>
<path d="M1105.33 817.98L1068.88 796.07A43.1 43.1 0 0 1 1083.42 781.53Z" fill="#FFE100" stroke="#C4C4C4" stroke-width="0.7" stroke-linejoin="round"/>
<path d="M1105.59 817.82L1084.99 780.63A43.1 43.1 0 0 1 1104.85 775.31Z" fill="#FFDD00" stroke="#C4C4C4" stroke-width="0.7" stroke-linejoin="round"/>
<text x="1095.95" y="767.90" text-anchor="middle" font-size="15.4" >12</text>
<text x="1160.45" y="806.20" text-anchor="middle" font-size="15.4" >3</text>
<text x="1122.15" y="879.30" text-anchor="middle" font-size="15.4" >6</text>
<text x="1051.95" y="834.40" text-anchor="middle" font-size="15.4" >9</text>
<rect x="1167.5" y="888.20" width="32.5" height="121.5" fill="#D9D9D9"/>
<text transform="translate(1177.6 945.20) rotate(90)" text-anchor="middle" font-size="17.5" >Zostera</text>
<circle cx="60.75" cy="949.00" r="54.5" fill="none" stroke="#E2E2EA" stroke-width="0.75"/>
<path d="M107.40 936.50L113.39 934.89M73.25 995.65L74.86 1001.64M14.10 961.50L8.11 963.11M48.25 902.35L46.64 896.36" stroke="#E6E6EC" stroke-width="0.7" fill="none"/>
<path d="M60.75 949.00L60.75 900.70A48.3 48.3 0 0 1 84.90 907.17Z" fill="#4169E1"/>
<path d="M60.75 949.00L84.90 907.17A48.3 48.3 0 0 1 102.58 924.85Z" fill="#4169E1"/>
<path d="M60.75 949.00L102.58 924.85A48.3 48.3 0 0 1 109.05 949.00Z" fill="#4169E1"/>
<path d="M60.75 949.00L109.05 949.00A48.3 48.3 0 0 1 102.58 973.15Z" fill="#4169E1"/>
<path d="M60.75 949.00L102.58 973.15A48.3 48.3 0 0 1 84.90 990.83Z" fill="#4169E1"/>
<path d="M60.75 949.00L84.90 990.83A48.3 48.3 0 0 1 60.75 997.30Z" fill="#4169E1"/>
<path d="M60.75 949.00L60.75 997.30A48.3 48.3 0 0 1 36.60 990.83Z" fill="#4169E1"/>
<path d="M60.75 949.00L36.60 990.83A48.3 48.3 0 0 1 18.92 973.15Z" fill="#4169E1"/>
<path d="M60.75 949.00L18.92 973.15A48.3 48.3 0 0 1 12.45 949.00Z" fill="#4169E1"/>
<path d="M60.75 949.00L12.45 949.00A48.3 48.3 0 0 1 18.92 924.85Z" fill="#4169E1"/>
<path d="M60.75 949.00L18.92 924.85A48.3 48.3 0 0 1 36.60 907.17Z" fill="#4169E1"/>
<path d="M60.75 949.00L36.60 907.17A48.3 48.3 0 0 1 60.75 900.70Z" fill="#4169E1"/>
<path d="M60.75 906.40L60.75 900.70M82.05 912.11L84.90 907.17M97.64 927.70L102.58 924.85M103.35 949.00L109.05 949.00M97.64 970.30L102.58 973.15M82.05 985.89L84.90 990.83M60.75 991.60L60.75 997.30M39.45 985.89L36.60 990.83M23.86 970.30L18.92 973.15M18.15 949.00L12.45 949.00M23.86 927.70L18.92 924.85M39.45 912.11L36.60 907.17" stroke="#FFFFFF" stroke-opacity="0.5" stroke-width="0.7" fill="none"/>
<path d="M60.91 948.42L61.65 905.91A43.1 43.1 0 0 1 81.51 911.23Z" fill="#FFFF00" stroke="#C4C4C4" stroke-width="0.7" stroke-linejoin="round"/>
<path d="M61.17 948.58L83.08 912.13A43.1 43.1 0 0 1 97.62 926.67Z" fill="#FFFF00" stroke="#C4C4C4" stroke-width="0.7" stroke-linejoin="round"/>
<path d="M61.33 948.84L98.52 928.24A43.1 43.1 0 0 1 103.84 948.10Z" fill="#FFFF00" stroke="#C4C4C4" stroke-width="0.7" stroke-linejoin="round"/>
<path d="M61.33 949.16L103.84 949.90A43.1 43.1 0 0 1 98.52 969.76Z" fill="#FFFF00" stroke="#C4C4C4" stroke-width="0.7" stroke-linejoin="round"/>
<path d="M61.17 949.42L97.62 971.33A43.1 43.1 0 0 1 83.08 985.87Z" fill="#FFFF00" stroke="#C4C4C4" stroke-width="0.7" stroke-linejoin="round"/>
<path d="M60.91 949.58L81.51 986.77A43.1 43.1 0 0 1 61.65 992.09Z" fill="#FFFF00" stroke="#C4C4C4" stroke-width="0.7" stroke-linejoin="round"/>
<path d="M60.59 949.58L59.85 992.09A43.1 43.1 0 0 1 39.99 986.77Z" fill="#FFFF00" stroke="#C4C4C4" stroke-width="0.7" stroke-linejoin="round"/>
<path d="M60.33 949.42L38.42 985.87A43.1 43.1 0 0 1 23.88 971.33Z" fill="#FFFF00" stroke="#C4C4C4" stroke-width="0.7" stroke-linejoin="round"/>
<path d="M60.17 949.16L22.98 969.76A43.1 43.1 0 0 1 17.66 949.90Z" fill="#FFFF00" stroke="#C4C4C4" stroke-width="0.7" stroke-linejoin="round"/>
<path d="M60.17 948.84L17.66 948.10A43.1 43.1 0 0 1 22.98 928.24Z" fill="#FFFF00" stroke="#C4C4C4" stroke-width="0.7" stroke-linejoin="round"/>
<path d="M60.33 948.58L23.88 926.67A43.1 43.1 0 0 1 38.42 912.13Z" fill="#FFFF00" stroke="#C4C4C4" stroke-width="0.7" stroke-linejoin="round"/>
<path d="M60.59 948.42L39.99 911.23A43.1 43.1 0 0 1 59.85 905.91Z" fill="#FFFF00" stroke="#C4C4C4" stroke-width="0.7" stroke-linejoin="round"/>
<text x="50.95" y="898.50" text-anchor="middle" font-size="15.4" >12</text>
<text x="115.45" y="936.80" text-anchor="middle" font-size="15.4" >3</text>
<text x="76.85" y="1007.60" text-anchor="middle" font-size="15.4" >6</text>
<text x="6.95" y="965.00" text-anchor="middle" font-size="15.4" >9</text>
<circle cx="191.38" cy="949.00" r="54.5" fill="none" stroke="#E2E2EA" stroke-width="0.75"/>
<path d="M238.03 936.50L244.02 934.89M203.88 995.65L205.48 1001.64M144.72 961.50L138.73 963.11M178.87 902.35L177.27 896.36" stroke="#E6E6EC" stroke-width="0.7" fill="none"/>
<path d="M191.38 949.00L191.38 900.70A48.3 48.3 0 0 1 215.53 907.17Z" fill="#4169E1"/>
<path d="M191.38 949.00L215.53 907.17A48.3 48.3 0 0 1 233.20 924.85Z" fill="#0CB7F2"/>
<path d="M191.38 949.00L233.20 924.85A48.3 48.3 0 0 1 239.68 949.00Z" fill="#4169E1"/>
<path d="M191.38 949.00L239.68 949.00A48.3 48.3 0 0 1 233.20 973.15Z" fill="#4169E1"/>
<path d="M191.38 949.00L233.20 973.15A48.3 48.3 0 0 1 215.53 990.83Z" fill="#4169E1"/>
<path d="M191.38 949.00L215.53 990.83A48.3 48.3 0 0 1 191.38 997.30Z" fill="#4169E1"/>
<path d="M191.38 949.00L191.38 997.30A48.3 48.3 0 0 1 167.22 990.83Z" fill="#4169E1"/>
<path d="M191.38 949.00L167.22 990.83A48.3 48.3 0 0 1 149.55 973.15Z" fill="#4169E1"/>
<path d="M191.38 949.00L149.55 973.15A48.3 48.3 0 0 1 143.07 949.00Z" fill="#0CB7F2"/>
<path d="M191.38 949.00L143.07 949.00A48.3 48.3 0 0 1 149.55 924.85Z" fill="#0CB7F2"/>
<path d="M191.38 949.00L149.55 924.85A48.3 48.3 0 0 1 167.22 907.17Z" fill="#4169E1"/>
<path d="M191.38 949.00L167.22 907.17A48.3 48.3 0 0 1 191.38 900.70Z" fill="#4169E1"/>
<path d="M191.38 906.40L191.38 900.70M212.68 912.11L215.53 907.17M228.27 927.70L233.20 924.85M233.97 949.00L239.68 949.00M228.27 970.30L233.20 973.15M212.68 985.89L215.53 990.83M191.38 991.60L191.38 997.30M170.07 985.89L167.22 990.83M154.48 970.30L149.55 973.15M148.78 949.00L143.07 949.00M154.48 927.70L149.55 924.85M170.07 912.11L167.22 907.17" stroke="#FFFFFF" stroke-opacity="0.5" stroke-width="0.7" fill="none"/>
<path d="M191.53 948.42L192.28 905.91A43.1 43.1 0 0 1 212.14 911.23Z" fill="#FFFC00" stroke="#C4C4C4" stroke-width="0.7" stroke-linejoin="round"/>
<path d="M191.80 948.58L213.70 912.13A43.1 43.1 0 0 1 228.24 926.67Z" fill="#FFF600" stroke="#C4C4C4" stroke-width="0.7" stroke-linejoin="round"/>
<path d="M191.95 948.84L229.14 928.24A43.1 43.1 0 0 1 234.47 948.10Z" fill="#FFFC00" stroke="#C4C4C4" stroke-width="0.7" stroke-linejoin="round"/>
<path d="M191.95 949.16L234.47 949.90A43.1 43.1 0 0 1 229.14 969.76Z" fill="#FFFC00" stroke="#C4C4C4" stroke-width="0.7" stroke-linejoin="round"/>
<path d="M191.80 949.42L228.24 971.33A43.1 43.1 0 0 1 213.70 985.87Z" fill="#FFFC00" stroke="#C4C4C4" stroke-width="0.7" stroke-linejoin="round"/>
<path d="M191.53 949.58L212.14 986.77A43.1 43.1 0 0 1 192.28 992.09Z" fill="#FFFC00" stroke="#C4C4C4" stroke-width="0.7" stroke-linejoin="round"/>
<path d="M191.22 949.58L190.47 992.09A43.1 43.1 0 0 1 170.61 986.77Z" fill="#FFFC00" stroke="#C4C4C4" stroke-width="0.7" stroke-linejoin="round"/>
<path d="M190.95 949.42L169.05 985.87A43.1 43.1 0 0 1 154.51 971.33Z" fill="#FFFC00" stroke="#C4C4C4" stroke-width="0.7" stroke-linejoin="round"/>
<path d="M190.80 949.16L153.61 969.76A43.1 43.1 0 0 1 148.28 949.90Z" fill="#FFF000" stroke="#C4C4C4" stroke-width="0.7" stroke-linejoin="round"/>
<path d="M190.80 948.84L148.28 948.10A43.1 43.1 0 0 1 153.61 928.24Z" fill="#FFF000" stroke="#C4C4C4" stroke-width="0.7" stroke-linejoin="round"/>
<path d="M190.95 948.58L154.51 926.67A43.1 43.1 0 0 1 169.05 912.13Z" fill="#FFFC00" stroke="#C4C4C4" stroke-width="0.7" stroke-linejoin="round"/>
<path d="M191.22 948.42L170.61 911.23A43.1 43.1 0 0 1 190.47 905.91Z" fill="#FFFC00" stroke="#C4C4C4" stroke-width="0.7" stroke-linejoin="round"/>
<text x="181.57" y="898.50" text-anchor="middle" font-size="15.4" >12</text>
<text x="246.07" y="936.80" text-anchor="middle" font-size="15.4" >3</text>
<text x="207.78" y="1009.90" text-anchor="middle" font-size="15.4" >6</text>
<text x="137.57" y="965.00" text-anchor="middle" font-size="15.4" >9</text>
<circle cx="322.00" cy="949.00" r="54.5" fill="none" stroke="#E2E2EA" stroke-width="0.75"/>
<path d="M368.65 936.50L374.64 934.89M334.50 995.65L336.11 1001.64M275.35 961.50L269.36 963.11M309.50 902.35L307.89 896.36" stroke="#E6E6EC" stroke-width="0.7" fill="none"/>
<path d="M322.00 949.00L322.00 900.70A48.3 48.3 0 0 1 346.15 907.17Z" fill="#FB0000"/>
<path d="M322.00 949.00L346.15 907.17A48.3 48.3 0 0 1 363.83 924.85Z" fill="#0CB7F2"/>
<path d="M322.00 949.00L363.83 924.85A48.3 48.3 0 0 1 370.30 949.00Z" fill="#4169E1"/>
<path d="M322.00 949.00L370.30 949.00A48.3 48.3 0 0 1 363.83 973.15Z" fill="#4169E1"/>
<path d="M322.00 949.00L363.83 973.15A48.3 48.3 0 0 1 346.15 990.83Z" fill="#4169E1"/>
<path d="M322.00 949.00L346.15 990.83A48.3 48.3 0 0 1 322.00 997.30Z" fill="#4169E1"/>
<path d="M322.00 949.00L322.00 997.30A48.3 48.3 0 0 1 297.85 990.83Z" fill="#4169E1"/>
<path d="M322.00 949.00L297.85 990.83A48.3 48.3 0 0 1 280.17 973.15Z" fill="#0CB7F2"/>
<path d="M322.00 949.00L280.17 973.15A48.3 48.3 0 0 1 273.70 949.00Z" fill="#FB0000"/>
<path d="M322.00 949.00L273.70 949.00A48.3 48.3 0 0 1 280.17 924.85Z" fill="#FB0000"/>
<path d="M322.00 949.00L280.17 924.85A48.3 48.3 0 0 1 297.85 907.17Z" fill="#FB0000"/>
<path d="M322.00 949.00L297.85 907.17A48.3 48.3 0 0 1 322.00 900.70Z" fill="#FB0000"/>
<path d="M322.00 906.40L322.00 900.70M343.30 912.11L346.15 907.17M358.89 927.70L363.83 924.85M364.60 949.00L370.30 949.00M358.89 970.30L363.83 973.15M343.30 985.89L346.15 990.83M322.00 991.60L322.00 997.30M300.70 985.89L297.85 990.83M285.11 970.30L280.17 973.15M279.40 949.00L273.70 949.00M285.11 927.70L280.17 924.85M300.70 912.11L297.85 907.17" stroke="#FFFFFF" stroke-opacity="0.5" stroke-width="0.7" fill="none"/>
<path d="M322.16 948.42L322.90 905.91A43.1 43.1 0 0 1 342.76 911.23Z" fill="#FFEA00" stroke="#C4C4C4" stroke-width="0.7" stroke-linejoin="round"/>
<path d="M322.42 948.58L344.33 912.13A43.1 43.1 0 0 1 358.87 926.67Z" fill="#FFF000" stroke="#C4C4C4" stroke-width="0.7" stroke-linejoin="round"/>
<path d="M322.58 948.84L359.77 928.24A43.1 43.1 0 0 1 365.09 948.10Z" fill="#FFFC00" stroke="#C4C4C4" stroke-width="0.7" stroke-linejoin="round"/>
<path d="M322.58 949.16L365.09 949.90A43.1 43.1 0 0 1 359.77 969.76Z" fill="#FFFC00" stroke="#C4C4C4" stroke-width="0.7" stroke-linejoin="round"/>
<path d="M322.42 949.42L358.87 971.33A43.1 43.1 0 0 1 344.33 985.87Z" fill="#FFFC00" stroke="#C4C4C4" stroke-width="0.7" stroke-linejoin="round"/>
<path d="M322.16 949.58L342.76 986.77A43.1 43.1 0 0 1 322.90 992.09Z" fill="#FFFC00" stroke="#C4C4C4" stroke-width="0.7" stroke-linejoin="round"/>
<path d="M321.84 949.58L321.10 992.09A43.1 43.1 0 0 1 301.24 986.77Z" fill="#FFFC00" stroke="#C4C4C4" stroke-width="0.7" stroke-linejoin="round"/>
<path d="M321.58 949.42L299.67 985.87A43.1 43.1 0 0 1 285.13 971.33Z" fill="#FFED00" stroke="#C4C4C4" stroke-width="0.7" stroke-linejoin="round"/>
<path d="M321.42 949.16L284.23 969.76A43.1 43.1 0 0 1 278.91 949.90Z" fill="#FFDC00" stroke="#C4C4C4" stroke-width="0.7" stroke-linejoin="round"/>
<path d="M321.42 948.84L278.91 948.10A43.1 43.1 0 0 1 284.23 928.24Z" fill="#FFE100" stroke="#C4C4C4" stroke-width="0.7" stroke-linejoin="round"/>
<path d="M321.58 948.58L285.13 926.67A43.1 43.1 0 0 1 299.67 912.13Z" fill="#FFEA00" stroke="#C4C4C4" stroke-width="0.7" stroke-linejoin="round"/>
<path d="M321.84 948.42L301.24 911.23A43.1 43.1 0 0 1 321.10 905.91Z" fill="#FFE900" stroke="#C4C4C4" stroke-width="0.7" stroke-linejoin="round"/>
<text x="312.20" y="898.50" text-anchor="middle" font-size="15.4" >12</text>
<text x="376.70" y="936.80" text-anchor="middle" font-size="15.4" >3</text>
<text x="338.40" y="1009.90" text-anchor="middle" font-size="15.4" >6</text>
<text x="268.20" y="965.00" text-anchor="middle" font-size="15.4" >9</text>
<circle cx="452.62" cy="949.00" r="54.5" fill="none" stroke="#E2E2EA" stroke-width="0.75"/>
<path d="M499.28 936.50L505.27 934.89M465.13 995.65L466.73 1001.64M405.97 961.50L399.98 963.11M440.12 902.35L438.52 896.36" stroke="#E6E6EC" stroke-width="0.7" fill="none"/>
<path d="M452.62 949.00L452.62 900.70A48.3 48.3 0 0 1 476.77 907.17Z" fill="#FB0000"/>
<path d="M452.62 949.00L476.77 907.17A48.3 48.3 0 0 1 494.45 924.85Z" fill="#0CB7F2"/>
<path d="M452.62 949.00L494.45 924.85A48.3 48.3 0 0 1 500.93 949.00Z" fill="#4169E1"/>
<path d="M452.62 949.00L500.93 949.00A48.3 48.3 0 0 1 494.45 973.15Z" fill="#4169E1"/>
<path d="M452.62 949.00L494.45 973.15A48.3 48.3 0 0 1 476.77 990.83Z" fill="#4169E1"/>
<path d="M452.62 949.00L476.77 990.83A48.3 48.3 0 0 1 452.62 997.30Z" fill="#4169E1"/>
<path d="M452.62 949.00L452.62 997.30A48.3 48.3 0 0 1 428.48 990.83Z" fill="#0CB7F2"/>
<path d="M452.62 949.00L428.48 990.83A48.3 48.3 0 0 1 410.80 973.15Z" fill="#FB0000"/>
<path d="M452.62 949.00L410.80 973.15A48.3 48.3 0 0 1 404.32 949.00Z" fill="#FB0000"/>
<path d="M452.62 949.00L404.32 949.00A48.3 48.3 0 0 1 410.80 924.85Z" fill="#FB0000"/>
<path d="M452.62 949.00L410.80 924.85A48.3 48.3 0 0 1 428.47 907.17Z" fill="#FB0000"/>
<path d="M452.62 949.00L428.47 907.17A48.3 48.3 0 0 1 452.62 900.70Z" fill="#FB0000"/>
<path d="M452.62 906.40L452.62 900.70M473.93 912.11L476.77 907.17M489.52 927.70L494.45 924.85M495.23 949.00L500.93 949.00M489.52 970.30L494.45 973.15M473.93 985.89L476.77 990.83M452.62 991.60L452.62 997.30M431.32 985.89L428.48 990.83M415.73 970.30L410.80 973.15M410.02 949.00L404.32 949.00M415.73 927.70L410.80 924.85M431.32 912.11L428.47 907.17" stroke="#FFFFFF" stroke-opacity="0.5" stroke-width="0.7" fill="none"/>
<path d="M452.78 948.42L453.53 905.91A43.1 43.1 0 0 1 473.39 911.23Z" fill="#FFE900" stroke="#C4C4C4" stroke-width="0.7" stroke-linejoin="round"/>
<path d="M453.05 948.58L474.95 912.13A43.1 43.1 0 0 1 489.49 926.67Z" fill="#FFEF00" stroke="#C4C4C4" stroke-width="0.7" stroke-linejoin="round"/>
<path d="M453.20 948.84L490.39 928.24A43.1 43.1 0 0 1 495.72 948.10Z" fill="#FFFB00" stroke="#C4C4C4" stroke-width="0.7" stroke-linejoin="round"/>
<path d="M453.20 949.16L495.72 949.90A43.1 43.1 0 0 1 490.39 969.76Z" fill="#FFFB00" stroke="#C4C4C4" stroke-width="0.7" stroke-linejoin="round"/>
<path d="M453.05 949.42L489.49 971.33A43.1 43.1 0 0 1 474.95 985.87Z" fill="#FFFB00" stroke="#C4C4C4" stroke-width="0.7" stroke-linejoin="round"/>
<path d="M452.78 949.58L473.39 986.77A43.1 43.1 0 0 1 453.53 992.09Z" fill="#FFFB00" stroke="#C4C4C4" stroke-width="0.7" stroke-linejoin="round"/>
<path d="M452.47 949.58L451.72 992.09A43.1 43.1 0 0 1 431.86 986.77Z" fill="#FFF000" stroke="#C4C4C4" stroke-width="0.7" stroke-linejoin="round"/>
<path d="M452.20 949.42L430.30 985.87A43.1 43.1 0 0 1 415.76 971.33Z" fill="#FFD900" stroke="#C4C4C4" stroke-width="0.7" stroke-linejoin="round"/>
<path d="M452.05 949.16L414.86 969.76A43.1 43.1 0 0 1 409.53 949.90Z" fill="#FFD600" stroke="#C4C4C4" stroke-width="0.7" stroke-linejoin="round"/>
<path d="M452.05 948.84L409.53 948.10A43.1 43.1 0 0 1 414.86 928.24Z" fill="#FFDD00" stroke="#C4C4C4" stroke-width="0.7" stroke-linejoin="round"/>
<path d="M452.20 948.58L415.76 926.67A43.1 43.1 0 0 1 430.30 912.13Z" fill="#FFE700" stroke="#C4C4C4" stroke-width="0.7" stroke-linejoin="round"/>
<path d="M452.47 948.42L431.86 911.23A43.1 43.1 0 0 1 451.72 905.91Z" fill="#FFE700" stroke="#C4C4C4" stroke-width="0.7" stroke-linejoin="round"/>
<text x="442.82" y="898.50" text-anchor="middle" font-size="15.4" >12</text>
<text x="507.32" y="936.80" text-anchor="middle" font-size="15.4" >3</text>
<text x="469.02" y="1009.90" text-anchor="middle" font-size="15.4" >6</text>
<text x="398.82" y="965.00" text-anchor="middle" font-size="15.4" >9</text>
<circle cx="583.25" cy="949.00" r="54.5" fill="none" stroke="#E2E2EA" stroke-width="0.75"/>
<path d="M629.90 936.50L635.89 934.89M595.75 995.65L597.36 1001.64M536.60 961.50L530.61 963.11M570.75 902.35L569.14 896.36" stroke="#E6E6EC" stroke-width="0.7" fill="none"/>
<path d="M583.25 949.00L583.25 900.70A48.3 48.3 0 0 1 607.40 907.17Z" fill="#FFFF00"/>
<path d="M583.25 949.00L607.40 907.17A48.3 48.3 0 0 1 625.08 924.85Z" fill="#FFA500"/>
<path d="M583.25 949.00L625.08 924.85A48.3 48.3 0 0 1 631.55 949.00Z" fill="#4169E1"/>
<path d="M583.25 949.00L631.55 949.00A48.3 48.3 0 0 1 625.08 973.15Z" fill="#0CB7F2"/>
<path d="M583.25 949.00L625.08 973.15A48.3 48.3 0 0 1 607.40 990.83Z" fill="#FB0000"/>
<path d="M583.25 949.00L607.40 990.83A48.3 48.3 0 0 1 583.25 997.30Z" fill="#FB0000"/>
<path d="M583.25 949.00L583.25 997.30A48.3 48.3 0 0 1 559.10 990.83Z" fill="#FB0000"/>
<path d="M583.25 949.00L559.10 990.83A48.3 48.3 0 0 1 541.42 973.15Z" fill="#FB0000"/>
<path d="M583.25 949.00L541.42 973.15A48.3 48.3 0 0 1 534.95 949.00Z" fill="#FB0000"/>
<path d="M583.25 949.00L534.95 949.00A48.3 48.3 0 0 1 541.42 924.85Z" fill="#FB0000"/>
<path d="M583.25 949.00L541.42 924.85A48.3 48.3 0 0 1 559.10 907.17Z" fill="#FB0000"/>
<path d="M583.25 949.00L559.10 907.17A48.3 48.3 0 0 1 583.25 900.70Z" fill="#FB0000"/>
<path d="M583.25 906.40L583.25 900.70M604.55 912.11L607.40 907.17M620.14 927.70L625.08 924.85M625.85 949.00L631.55 949.00M620.14 970.30L625.08 973.15M604.55 985.89L607.40 990.83M583.25 991.60L583.25 997.30M561.95 985.89L559.10 990.83M546.36 970.30L541.42 973.15M540.65 949.00L534.95 949.00M546.36 927.70L541.42 924.85M561.95 912.11L559.10 907.17" stroke="#FFFFFF" stroke-opacity="0.5" stroke-width="0.7" fill="none"/>
<path d="M583.41 948.42L584.15 905.91A43.1 43.1 0 0 1 604.01 911.23Z" fill="#FFF000" stroke="#C4C4C4" stroke-width="0.7" stroke-linejoin="round"/>
<path d="M583.67 948.58L605.58 912.13A43.1 43.1 0 0 1 620.12 926.67Z" fill="#FFF500" stroke="#C4C4C4" stroke-width="0.7" stroke-linejoin="round"/>
<path d="M583.83 948.84L621.02 928.24A43.1 43.1 0 0 1 626.34 948.10Z" fill="#FFFC00" stroke="#C4C4C4" stroke-width="0.7" stroke-linejoin="round"/>
<path d="M583.83 949.16L626.34 949.90A43.1 43.1 0 0 1 621.02 969.76Z" fill="#FFF600" stroke="#C4C4C4" stroke-width="0.7" stroke-linejoin="round"/>
<path d="M583.67 949.42L620.12 971.33A43.1 43.1 0 0 1 605.58 985.87Z" fill="#FFD000" stroke="#C4C4C4" stroke-width="0.7" stroke-linejoin="round"/>
<path d="M583.41 949.58L604.01 986.77A43.1 43.1 0 0 1 584.15 992.09Z" fill="#FFCA00" stroke="#C4C4C4" stroke-width="0.7" stroke-linejoin="round"/>
<path d="M583.09 949.58L582.35 992.09A43.1 43.1 0 0 1 562.49 986.77Z" fill="#FFC100" stroke="#C4C4C4" stroke-width="0.7" stroke-linejoin="round"/>
<path d="M582.83 949.42L560.92 985.87A43.1 43.1 0 0 1 546.38 971.33Z" fill="#FFA800" stroke="#C4C4C4" stroke-width="0.7" stroke-linejoin="round"/>
<path d="M582.67 949.16L545.48 969.76A43.1 43.1 0 0 1 540.16 949.90Z" fill="#FFB100" stroke="#C4C4C4" stroke-width="0.7" stroke-linejoin="round"/>
<path d="M582.67 948.84L540.16 948.10A43.1 43.1 0 0 1 545.48 928.24Z" fill="#FFD900" stroke="#C4C4C4" stroke-width="0.7" stroke-linejoin="round"/>
<path d="M582.83 948.58L546.38 926.67A43.1 43.1 0 0 1 560.92 912.13Z" fill="#FFE100" stroke="#C4C4C4" stroke-width="0.7" stroke-linejoin="round"/>
<path d="M583.09 948.42L562.49 911.23A43.1 43.1 0 0 1 582.35 905.91Z" fill="#FFE400" stroke="#C4C4C4" stroke-width="0.7" stroke-linejoin="round"/>
<text x="573.45" y="898.50" text-anchor="middle" font-size="15.4" >12</text>
<text x="637.95" y="936.80" text-anchor="middle" font-size="15.4" >3</text>
<text x="599.65" y="1009.90" text-anchor="middle" font-size="15.4" >6</text>
<text x="529.45" y="965.00" text-anchor="middle" font-size="15.4" >9</text>
<circle cx="713.88" cy="949.00" r="54.5" fill="none" stroke="#E2E2EA" stroke-width="0.75"/>
<path d="M760.53 936.50L766.52 934.89M726.38 995.65L727.98 1001.64M667.22 961.50L661.23 963.11M701.37 902.35L699.77 896.36" stroke="#E6E6EC" stroke-width="0.7" fill="none"/>
<path d="M713.88 949.00L713.88 900.70A48.3 48.3 0 0 1 738.02 907.17Z" fill="#FFFF00"/>
<path d="M713.88 949.00L738.02 907.17A48.3 48.3 0 0 1 755.70 924.85Z" fill="#FB0000"/>
<path d="M713.88 949.00L755.70 924.85A48.3 48.3 0 0 1 762.17 949.00Z" fill="#FB0000"/>
<path d="M713.88 949.00L762.17 949.00A48.3 48.3 0 0 1 755.70 973.15Z" fill="#FB0000"/>
<path d="M713.88 949.00L755.70 973.15A48.3 48.3 0 0 1 738.02 990.83Z" fill="#FB0000"/>
<path d="M713.88 949.00L738.02 990.83A48.3 48.3 0 0 1 713.88 997.30Z" fill="#FB0000"/>
<path d="M713.88 949.00L713.88 997.30A48.3 48.3 0 0 1 689.73 990.83Z" fill="#FB0000"/>
<path d="M713.88 949.00L689.73 990.83A48.3 48.3 0 0 1 672.05 973.15Z" fill="#FB0000"/>
<path d="M713.88 949.00L672.05 973.15A48.3 48.3 0 0 1 665.58 949.00Z" fill="#FB0000"/>
<path d="M713.88 949.00L665.58 949.00A48.3 48.3 0 0 1 672.05 924.85Z" fill="#FB0000"/>
<path d="M713.88 949.00L672.05 924.85A48.3 48.3 0 0 1 689.73 907.17Z" fill="#FFFF00"/>
<path d="M713.88 949.00L689.73 907.17A48.3 48.3 0 0 1 713.88 900.70Z" fill="#FFFF00"/>
<path d="M713.88 906.40L713.88 900.70M735.17 912.11L738.02 907.17M750.77 927.70L755.70 924.85M756.48 949.00L762.17 949.00M750.77 970.30L755.70 973.15M735.17 985.89L738.02 990.83M713.88 991.60L713.88 997.30M692.58 985.89L689.73 990.83M676.98 970.30L672.05 973.15M671.27 949.00L665.58 949.00M676.98 927.70L672.05 924.85M692.57 912.11L689.73 907.17" stroke="#FFFFFF" stroke-opacity="0.5" stroke-width="0.7" fill="none"/>
<path d="M714.03 948.42L714.78 905.91A43.1 43.1 0 0 1 734.64 911.23Z" fill="#FFF500" stroke="#C4C4C4" stroke-width="0.7" stroke-linejoin="round"/>
<path d="M714.30 948.58L736.20 912.13A43.1 43.1 0 0 1 750.74 926.67Z" fill="#FFE100" stroke="#C4C4C4" stroke-width="0.7" stroke-linejoin="round"/>
<path d="M714.45 948.84L751.64 928.24A43.1 43.1 0 0 1 756.97 948.10Z" fill="#FFD900" stroke="#C4C4C4" stroke-width="0.7" stroke-linejoin="round"/>
<path d="M714.45 949.16L756.97 949.90A43.1 43.1 0 0 1 751.64 969.76Z" fill="#FFE100" stroke="#C4C4C4" stroke-width="0.7" stroke-linejoin="round"/>
<path d="M714.30 949.42L750.74 971.33A43.1 43.1 0 0 1 736.20 985.87Z" fill="#FFE400" stroke="#C4C4C4" stroke-width="0.7" stroke-linejoin="round"/>
<path d="M714.03 949.58L734.64 986.77A43.1 43.1 0 0 1 714.78 992.09Z" fill="#FFE900" stroke="#C4C4C4" stroke-width="0.7" stroke-linejoin="round"/>
<path d="M713.72 949.58L712.97 992.09A43.1 43.1 0 0 1 693.11 986.77Z" fill="#FFE900" stroke="#C4C4C4" stroke-width="0.7" stroke-linejoin="round"/>
<path d="M713.45 949.42L691.55 985.87A43.1 43.1 0 0 1 677.01 971.33Z" fill="#FFE700" stroke="#C4C4C4" stroke-width="0.7" stroke-linejoin="round"/>
<path d="M713.30 949.16L676.11 969.76A43.1 43.1 0 0 1 670.78 949.90Z" fill="#FFE300" stroke="#C4C4C4" stroke-width="0.7" stroke-linejoin="round"/>
<path d="M713.30 948.84L670.78 948.10A43.1 43.1 0 0 1 676.11 928.24Z" fill="#FFE700" stroke="#C4C4C4" stroke-width="0.7" stroke-linejoin="round"/>
<path d="M713.45 948.58L677.01 926.67A43.1 43.1 0 0 1 691.55 912.13Z" fill="#FFF600" stroke="#C4C4C4" stroke-width="0.7" stroke-linejoin="round"/>
<path d="M713.72 948.42L693.11 911.23A43.1 43.1 0 0 1 712.97 905.91Z" fill="#FFF600" stroke="#C4C4C4" stroke-width="0.7" stroke-linejoin="round"/>
<text x="704.08" y="898.50" text-anchor="middle" font-size="15.4" >12</text>
<text x="768.58" y="936.80" text-anchor="middle" font-size="15.4" >3</text>
<text x="730.27" y="1009.90" text-anchor="middle" font-size="15.4" >6</text>
<text x="660.08" y="965.00" text-anchor="middle" font-size="15.4" >9</text>
<circle cx="844.50" cy="949.00" r="54.5" fill="none" stroke="#E2E2EA" stroke-width="0.75"/>
<path d="M891.15 936.50L897.14 934.89M857.00 995.65L858.61 1001.64M797.85 961.50L791.86 963.11M832.00 902.35L830.39 896.36" stroke="#E6E6EC" stroke-width="0.7" fill="none"/>
<path d="M844.50 949.00L844.50 900.70A48.3 48.3 0 0 1 868.65 907.17Z" fill="#FB0000"/>
<path d="M844.50 949.00L868.65 907.17A48.3 48.3 0 0 1 886.33 924.85Z" fill="#FB0000"/>
<path d="M844.50 949.00L886.33 924.85A48.3 48.3 0 0 1 892.80 949.00Z" fill="#FB0000"/>
<path d="M844.50 949.00L892.80 949.00A48.3 48.3 0 0 1 886.33 973.15Z" fill="#FB0000"/>
<path d="M844.50 949.00L886.33 973.15A48.3 48.3 0 0 1 868.65 990.83Z" fill="#FB0000"/>
<path d="M844.50 949.00L868.65 990.83A48.3 48.3 0 0 1 844.50 997.30Z" fill="#FB0000"/>
<path d="M844.50 949.00L844.50 997.30A48.3 48.3 0 0 1 820.35 990.83Z" fill="#FB0000"/>
<path d="M844.50 949.00L820.35 990.83A48.3 48.3 0 0 1 802.67 973.15Z" fill="#FB0000"/>
<path d="M844.50 949.00L802.67 973.15A48.3 48.3 0 0 1 796.20 949.00Z" fill="#FB0000"/>
<path d="M844.50 949.00L796.20 949.00A48.3 48.3 0 0 1 802.67 924.85Z" fill="#FFFF00"/>
<path d="M844.50 949.00L802.67 924.85A48.3 48.3 0 0 1 820.35 907.17Z" fill="#FFA500"/>
<path d="M844.50 949.00L820.35 907.17A48.3 48.3 0 0 1 844.50 900.70Z" fill="#FFFF00"/>
<path d="M844.50 906.40L844.50 900.70M865.80 912.11L868.65 907.17M881.39 927.70L886.33 924.85M887.10 949.00L892.80 949.00M881.39 970.30L886.33 973.15M865.80 985.89L868.65 990.83M844.50 991.60L844.50 997.30M823.20 985.89L820.35 990.83M807.61 970.30L802.67 973.15M801.90 949.00L796.20 949.00M807.61 927.70L802.67 924.85M823.20 912.11L820.35 907.17" stroke="#FFFFFF" stroke-opacity="0.5" stroke-width="0.7" fill="none"/>
<path d="M844.66 948.42L845.40 905.91A43.1 43.1 0 0 1 865.26 911.23Z" fill="#FFE100" stroke="#C4C4C4" stroke-width="0.7" stroke-linejoin="round"/>
<path d="M844.92 948.58L866.83 912.13A43.1 43.1 0 0 1 881.37 926.67Z" fill="#FFE400" stroke="#C4C4C4" stroke-width="0.7" stroke-linejoin="round"/>
<path d="M845.08 948.84L882.27 928.24A43.1 43.1 0 0 1 887.59 948.10Z" fill="#FFEA00" stroke="#C4C4C4" stroke-width="0.7" stroke-linejoin="round"/>
<path d="M845.08 949.16L887.59 949.90A43.1 43.1 0 0 1 882.27 969.76Z" fill="#FFE700" stroke="#C4C4C4" stroke-width="0.7" stroke-linejoin="round"/>
<path d="M844.92 949.42L881.37 971.33A43.1 43.1 0 0 1 866.83 985.87Z" fill="#FFE100" stroke="#C4C4C4" stroke-width="0.7" stroke-linejoin="round"/>
<path d="M844.66 949.58L865.26 986.77A43.1 43.1 0 0 1 845.40 992.09Z" fill="#FFE700" stroke="#C4C4C4" stroke-width="0.7" stroke-linejoin="round"/>
<path d="M844.34 949.58L843.60 992.09A43.1 43.1 0 0 1 823.74 986.77Z" fill="#FFED00" stroke="#C4C4C4" stroke-width="0.7" stroke-linejoin="round"/>
<path d="M844.08 949.42L822.17 985.87A43.1 43.1 0 0 1 807.63 971.33Z" fill="#FFEA00" stroke="#C4C4C4" stroke-width="0.7" stroke-linejoin="round"/>
<path d="M843.92 949.16L806.73 969.76A43.1 43.1 0 0 1 801.41 949.90Z" fill="#FFE900" stroke="#C4C4C4" stroke-width="0.7" stroke-linejoin="round"/>
<path d="M843.92 948.84L801.41 948.10A43.1 43.1 0 0 1 806.73 928.24Z" fill="#FFF500" stroke="#C4C4C4" stroke-width="0.7" stroke-linejoin="round"/>
<path d="M844.08 948.58L807.63 926.67A43.1 43.1 0 0 1 822.17 912.13Z" fill="#FFF900" stroke="#C4C4C4" stroke-width="0.7" stroke-linejoin="round"/>
<path d="M844.34 948.42L823.74 911.23A43.1 43.1 0 0 1 843.60 905.91Z" fill="#FFF500" stroke="#C4C4C4" stroke-width="0.7" stroke-linejoin="round"/>
<text x="834.70" y="898.50" text-anchor="middle" font-size="15.4" >12</text>
<text x="899.20" y="936.80" text-anchor="middle" font-size="15.4" >3</text>
<text x="860.90" y="1009.90" text-anchor="middle" font-size="15.4" >6</text>
<text x="790.70" y="965.00" text-anchor="middle" font-size="15.4" >9</text>
<circle cx="975.12" cy="949.00" r="54.5" fill="none" stroke="#E2E2EA" stroke-width="0.75"/>
<path d="M1021.78 936.50L1027.77 934.89M987.63 995.65L989.23 1001.64M928.47 961.50L922.48 963.11M962.62 902.35L961.02 896.36" stroke="#E6E6EC" stroke-width="0.7" fill="none"/>
<path d="M975.12 949.00L975.12 900.70A48.3 48.3 0 0 1 999.27 907.17Z" fill="#FFFF00"/>
<path d="M975.12 949.00L999.27 907.17A48.3 48.3 0 0 1 1016.95 924.85Z" fill="#FB0000"/>
<path d="M975.12 949.00L1016.95 924.85A48.3 48.3 0 0 1 1023.42 949.00Z" fill="#FB0000"/>
<path d="M975.12 949.00L1023.42 949.00A48.3 48.3 0 0 1 1016.95 973.15Z" fill="#FB0000"/>
<path d="M975.12 949.00L1016.95 973.15A48.3 48.3 0 0 1 999.27 990.83Z" fill="#FB0000"/>
<path d="M975.12 949.00L999.27 990.83A48.3 48.3 0 0 1 975.12 997.30Z" fill="#FB0000"/>
<path d="M975.12 949.00L975.12 997.30A48.3 48.3 0 0 1 950.98 990.83Z" fill="#FB0000"/>
<path d="M975.12 949.00L950.98 990.83A48.3 48.3 0 0 1 933.30 973.15Z" fill="#FB0000"/>
<path d="M975.12 949.00L933.30 973.15A48.3 48.3 0 0 1 926.83 949.00Z" fill="#FB0000"/>
<path d="M975.12 949.00L926.83 949.00A48.3 48.3 0 0 1 933.30 924.85Z" fill="#FB0000"/>
<path d="M975.12 949.00L933.30 924.85A48.3 48.3 0 0 1 950.98 907.17Z" fill="#FFFF00"/>
<path d="M975.12 949.00L950.98 907.17A48.3 48.3 0 0 1 975.12 900.70Z" fill="#FFFF00"/>
<path d="M975.12 906.40L975.12 900.70M996.42 912.11L999.27 907.17M1012.02 927.70L1016.95 924.85M1017.73 949.00L1023.42 949.00M1012.02 970.30L1016.95 973.15M996.42 985.89L999.27 990.83M975.12 991.60L975.12 997.30M953.83 985.89L950.98 990.83M938.23 970.30L933.30 973.15M932.52 949.00L926.83 949.00M938.23 927.70L933.30 924.85M953.82 912.11L950.98 907.17" stroke="#FFFFFF" stroke-opacity="0.5" stroke-width="0.7" fill="none"/>
<path d="M975.28 948.42L976.03 905.91A43.1 43.1 0 0 1 995.89 911.23Z" fill="#FFF000" stroke="#C4C4C4" stroke-width="0.7" stroke-linejoin="round"/>
<path d="M975.55 948.58L997.45 912.13A43.1 43.1 0 0 1 1011.99 926.67Z" fill="#FFD900" stroke="#C4C4C4" stroke-width="0.7" stroke-linejoin="round"/>
<path d="M975.70 948.84L1012.89 928.24A43.1 43.1 0 0 1 1018.22 948.10Z" fill="#FFD600" stroke="#C4C4C4" stroke-width="0.7" stroke-linejoin="round"/>
<path d="M975.70 949.16L1018.22 949.90A43.1 43.1 0 0 1 1012.89 969.76Z" fill="#FFCA00" stroke="#C4C4C4" stroke-width="0.7" stroke-linejoin="round"/>
<path d="M975.55 949.42L1011.99 971.33A43.1 43.1 0 0 1 997.45 985.87Z" fill="#FFB100" stroke="#C4C4C4" stroke-width="0.7" stroke-linejoin="round"/>
<path d="M975.28 949.58L995.89 986.77A43.1 43.1 0 0 1 976.03 992.09Z" fill="#FFB400" stroke="#C4C4C4" stroke-width="0.7" stroke-linejoin="round"/>
<path d="M974.97 949.58L974.22 992.09A43.1 43.1 0 0 1 954.36 986.77Z" fill="#FFBE00" stroke="#C4C4C4" stroke-width="0.7" stroke-linejoin="round"/>
<path d="M974.70 949.42L952.80 985.87A43.1 43.1 0 0 1 938.26 971.33Z" fill="#FFC100" stroke="#C4C4C4" stroke-width="0.7" stroke-linejoin="round"/>
<path d="M974.55 949.16L937.36 969.76A43.1 43.1 0 0 1 932.03 949.90Z" fill="#FFC400" stroke="#C4C4C4" stroke-width="0.7" stroke-linejoin="round"/>
<path d="M974.55 948.84L932.03 948.10A43.1 43.1 0 0 1 937.36 928.24Z" fill="#FFE100" stroke="#C4C4C4" stroke-width="0.7" stroke-linejoin="round"/>
<path d="M974.70 948.58L938.26 926.67A43.1 43.1 0 0 1 952.80 912.13Z" fill="#FFF500" stroke="#C4C4C4" stroke-width="0.7" stroke-linejoin="round"/>
<path d="M974.97 948.42L954.36 911.23A43.1 43.1 0 0 1 974.22 905.91Z" fill="#FFF600" stroke="#C4C4C4" stroke-width="0.7" stroke-linejoin="round"/>
<text x="965.33" y="898.50" text-anchor="middle" font-size="15.4" >12</text>
<text x="1029.83" y="936.80" text-anchor="middle" font-size="15.4" >3</text>
<text x="991.52" y="1009.90" text-anchor="middle" font-size="15.4" >6</text>
<text x="921.33" y="965.00" text-anchor="middle" font-size="15.4" >9</text>
<circle cx="1105.75" cy="949.00" r="54.5" fill="none" stroke="#E2E2EA" stroke-width="0.75"/>
<path d="M1152.40 936.50L1158.39 934.89M1118.25 995.65L1119.86 1001.64M1059.10 961.50L1053.11 963.11M1093.25 902.35L1091.64 896.36" stroke="#E6E6EC" stroke-width="0.7" fill="none"/>
<path d="M1105.75 949.00L1105.75 900.70A48.3 48.3 0 0 1 1129.90 907.17Z" fill="#FB0000"/>
<path d="M1105.75 949.00L1129.90 907.17A48.3 48.3 0 0 1 1147.58 924.85Z" fill="#FB0000"/>
<path d="M1105.75 949.00L1147.58 924.85A48.3 48.3 0 0 1 1154.05 949.00Z" fill="#FB0000"/>
<path d="M1105.75 949.00L1154.05 949.00A48.3 48.3 0 0 1 1147.58 973.15Z" fill="#FB0000"/>
<path d="M1105.75 949.00L1147.58 973.15A48.3 48.3 0 0 1 1129.90 990.83Z" fill="#FB0000"/>
<path d="M1105.75 949.00L1129.90 990.83A48.3 48.3 0 0 1 1105.75 997.30Z" fill="#FB0000"/>
<path d="M1105.75 949.00L1105.75 997.30A48.3 48.3 0 0 1 1081.60 990.83Z" fill="#FB0000"/>
<path d="M1105.75 949.00L1081.60 990.83A48.3 48.3 0 0 1 1063.92 973.15Z" fill="#FB0000"/>
<path d="M1105.75 949.00L1063.92 973.15A48.3 48.3 0 0 1 1057.45 949.00Z" fill="#FB0000"/>
<path d="M1105.75 949.00L1057.45 949.00A48.3 48.3 0 0 1 1063.92 924.85Z" fill="#FB0000"/>
<path d="M1105.75 949.00L1063.92 924.85A48.3 48.3 0 0 1 1081.60 907.17Z" fill="#FB0000"/>
<path d="M1105.75 949.00L1081.60 907.17A48.3 48.3 0 0 1 1105.75 900.70Z" fill="#FB0000"/>
<path d="M1105.75 906.40L1105.75 900.70M1127.05 912.11L1129.90 907.17M1142.64 927.70L1147.58 924.85M1148.35 949.00L1154.05 949.00M1142.64 970.30L1147.58 973.15M1127.05 985.89L1129.90 990.83M1105.75 991.60L1105.75 997.30M1084.45 985.89L1081.60 990.83M1068.86 970.30L1063.92 973.15M1063.15 949.00L1057.45 949.00M1068.86 927.70L1063.92 924.85M1084.45 912.11L1081.60 907.17" stroke="#FFFFFF" stroke-opacity="0.5" stroke-width="0.7" fill="none"/>
<path d="M1105.91 948.42L1106.65 905.91A43.1 43.1 0 0 1 1126.51 911.23Z" fill="#FFB400" stroke="#C4C4C4" stroke-width="0.7" stroke-linejoin="round"/>
<path d="M1106.17 948.58L1128.08 912.13A43.1 43.1 0 0 1 1142.62 926.67Z" fill="#FFB100" stroke="#C4C4C4" stroke-width="0.7" stroke-linejoin="round"/>
<path d="M1106.33 948.84L1143.52 928.24A43.1 43.1 0 0 1 1148.84 948.10Z" fill="#FFB100" stroke="#C4C4C4" stroke-width="0.7" stroke-linejoin="round"/>
<path d="M1106.33 949.16L1148.84 949.90A43.1 43.1 0 0 1 1143.52 969.76Z" fill="#FFB700" stroke="#C4C4C4" stroke-width="0.7" stroke-linejoin="round"/>
<path d="M1106.17 949.42L1142.62 971.33A43.1 43.1 0 0 1 1128.08 985.87Z" fill="#FFC400" stroke="#C4C4C4" stroke-width="0.7" stroke-linejoin="round"/>
<path d="M1105.91 949.58L1126.51 986.77A43.1 43.1 0 0 1 1106.65 992.09Z" fill="#FFD000" stroke="#C4C4C4" stroke-width="0.7" stroke-linejoin="round"/>
<path d="M1105.59 949.58L1104.85 992.09A43.1 43.1 0 0 1 1084.99 986.77Z" fill="#FFD900" stroke="#C4C4C4" stroke-width="0.7" stroke-linejoin="round"/>
<path d="M1105.33 949.42L1083.42 985.87A43.1 43.1 0 0 1 1068.88 971.33Z" fill="#FFDC00" stroke="#C4C4C4" stroke-width="0.7" stroke-linejoin="round"/>
<path d="M1105.17 949.16L1067.98 969.76A43.1 43.1 0 0 1 1062.66 949.90Z" fill="#FFE100" stroke="#C4C4C4" stroke-width="0.7" stroke-linejoin="round"/>
<path d="M1105.17 948.84L1062.66 948.10A43.1 43.1 0 0 1 1067.98 928.24Z" fill="#FFDC00" stroke="#C4C4C4" stroke-width="0.7" stroke-linejoin="round"/>
<path d="M1105.33 948.58L1068.88 926.67A43.1 43.1 0 0 1 1083.42 912.13Z" fill="#FFD000" stroke="#C4C4C4" stroke-width="0.7" stroke-linejoin="round"/>
<path d="M1105.59 948.42L1084.99 911.23A43.1 43.1 0 0 1 1104.85 905.91Z" fill="#FFCA00" stroke="#C4C4C4" stroke-width="0.7" stroke-linejoin="round"/>
<text x="1095.95" y="898.50" text-anchor="middle" font-size="15.4" >12</text>
<text x="1160.45" y="936.80" text-anchor="middle" font-size="15.4" >3</text>
<text x="1122.15" y="1009.90" text-anchor="middle" font-size="15.4" >6</text>
<text x="1051.95" y="965.00" text-anchor="middle" font-size="15.4" >9</text>
<rect x="455.80" y="455.4" width="36.24" height="28.40" fill="#FFFF00"/>
<rect x="491.54" y="455.4" width="36.24" height="28.40" fill="#FFE100"/>
<rect x="527.28" y="455.4" width="36.24" height="28.40" fill="#FFC400"/>
<rect x="563.02" y="455.4" width="36.24" height="28.40" fill="#FFA500"/>
<rect x="598.75" y="455.4" width="36.24" height="28.40" fill="#FF8200"/>
<rect x="634.49" y="455.4" width="36.24" height="28.40" fill="#FF5800"/>
<rect x="670.23" y="455.4" width="36.24" height="28.40" fill="#FF0000"/>
<rect x="705.97" y="455.4" width="36.24" height="28.40" fill="#EB0001"/>
<rect x="741.71" y="455.4" width="36.24" height="28.40" fill="#D70002"/>
<rect x="777.45" y="455.4" width="36.24" height="28.40" fill="#C30002"/>
<rect x="813.18" y="455.4" width="36.24" height="28.40" fill="#B00002"/>
<rect x="848.92" y="455.4" width="36.24" height="28.40" fill="#9D0002"/>
<rect x="884.66" y="455.4" width="35.74" height="28.40" fill="#8B0000"/>
<path d="M467.20 455.4v5.5M467.20 483.8v-5.5" stroke="#fff" stroke-width="0.9"/>
<text x="467.20" y="503.00" text-anchor="middle" font-size="17.5" >0</text>
<path d="M540.80 455.4v5.5M540.80 483.8v-5.5" stroke="#fff" stroke-width="0.9"/>
<text x="540.80" y="503.00" text-anchor="middle" font-size="17.5" >10</text>
<path d="M614.40 455.4v5.5M614.40 483.8v-5.5" stroke="#fff" stroke-width="0.9"/>
<text x="614.40" y="503.00" text-anchor="middle" font-size="17.5" >20</text>
<path d="M688.00 455.4v5.5M688.00 483.8v-5.5" stroke="#fff" stroke-width="0.9"/>
<text x="688.00" y="503.00" text-anchor="middle" font-size="17.5" >30</text>
<path d="M761.60 455.4v5.5M761.60 483.8v-5.5" stroke="#fff" stroke-width="0.9"/>
<text x="761.60" y="503.00" text-anchor="middle" font-size="17.5" >40</text>
<path d="M835.20 455.4v5.5M835.20 483.8v-5.5" stroke="#fff" stroke-width="0.9"/>
<text x="835.20" y="503.00" text-anchor="middle" font-size="17.5" >50</text>
<path d="M908.80 455.4v5.5M908.80 483.8v-5.5" stroke="#fff" stroke-width="0.9"/>
<text x="908.80" y="503.00" text-anchor="middle" font-size="17.5" >60</text>
<text x="450" y="475.20" text-anchor="end" font-size="17.5" >Recovery time (months)</text>
<rect x="451.20" y="1027.7" width="29.49" height="27.90" fill="#FFFF00"/>
<rect x="480.19" y="1027.7" width="29.49" height="27.90" fill="#FFE900"/>
<rect x="509.18" y="1027.7" width="29.49" height="27.90" fill="#FFD300"/>
<rect x="538.16" y="1027.7" width="29.49" height="27.90" fill="#FFBC00"/>
<rect x="567.15" y="1027.7" width="29.49" height="27.90" fill="#FFA500"/>
<rect x="596.14" y="1027.7" width="29.49" height="27.90" fill="#FF8B00"/>
<rect x="625.12" y="1027.7" width="29.49" height="27.90" fill="#FF6E00"/>
<rect x="654.11" y="1027.7" width="29.49" height="27.90" fill="#FF4B00"/>
<rect x="683.10" y="1027.7" width="29.49" height="27.90" fill="#FF0000"/>
<rect x="712.09" y="1027.7" width="29.49" height="27.90" fill="#EE0001"/>
<rect x="741.08" y="1027.7" width="29.49" height="27.90" fill="#DD0001"/>
<rect x="770.06" y="1027.7" width="29.49" height="27.90" fill="#CC0002"/>
<rect x="799.05" y="1027.7" width="29.49" height="27.90" fill="#BB0002"/>
<rect x="828.04" y="1027.7" width="29.49" height="27.90" fill="#AB0002"/>
<rect x="857.02" y="1027.7" width="29.49" height="27.90" fill="#9B0001"/>
<rect x="886.01" y="1027.7" width="28.99" height="27.90" fill="#8B0000"/>
<path d="M463.00 1027.7v5.5M463.00 1055.6v-5.5" stroke="#fff" stroke-width="0.9"/>
<text x="463.00" y="1074.80" text-anchor="middle" font-size="17.5" >1</text>
<path d="M609.80 1027.7v5.5M609.80 1055.6v-5.5" stroke="#fff" stroke-width="0.9"/>
<text x="609.80" y="1074.80" text-anchor="middle" font-size="17.5" >2</text>
<path d="M756.60 1027.7v5.5M756.60 1055.6v-5.5" stroke="#fff" stroke-width="0.9"/>
<text x="756.60" y="1074.80" text-anchor="middle" font-size="17.5" >3</text>
<path d="M903.40 1027.7v5.5M903.40 1055.6v-5.5" stroke="#fff" stroke-width="0.9"/>
<text x="903.40" y="1074.80" text-anchor="middle" font-size="17.5" >4</text>
<text x="441" y="1047.25" text-anchor="end" font-size="17.5" >Ratio of extinction risk</text>
<text x="207.7" y="530.50" font-size="17.5" >Resilience score</text>
<circle cx="357.6" cy="524.5" r="7.9" fill="#4169E1"/>
<text x="369.3" y="530.50" font-size="17.4" >All criteria</text>
<circle cx="461.8" cy="524.5" r="7.9" fill="#FB0000"/>
<text x="477.3" y="530.50" font-size="17.4" >No criteria</text>
<circle cx="573.2" cy="524.5" r="7.9" fill="#FFFF00"/>
<text x="585.5999999999999" y="530.50" font-size="17.4" >Recovery</text>
<circle cx="674" cy="524.5" r="7.9" fill="#FFA500"/>
<text x="687.0999999999999" y="530.50" font-size="17.4" >Recovery+persistence</text>
<circle cx="879.8" cy="524.5" r="7.9" fill="#0CB7F2"/>
<text x="897.3" y="530.50" font-size="17.4" >Recovery+resistance</text>
<text x="196.2" y="1102.00" font-size="17.5" >Resilience score</text>
<circle cx="353.2" cy="1096" r="7.9" fill="#4169E1"/>
<text x="366.3" y="1102.00" font-size="17.4" >All criteria</text>
<circle cx="463.6" cy="1096" r="7.9" fill="#FB0000"/>
<text x="478.3" y="1102.00" font-size="17.4" >No criteria</text>
<circle cx="577.2" cy="1096" r="7.9" fill="#FFFF00"/>
<text x="593.0" y="1102.00" font-size="17.4" >Recovery</text>
<circle cx="697.3" cy="1096" r="7.9" fill="#FFA500"/>
<text x="705.5999999999999" y="1102.00" font-size="17.4" >Recovery+persistence</text>
<circle cx="905.6" cy="1096" r="7.9" fill="#0CB7F2"/>
<text x="921.5999999999999" y="1102.00" font-size="17.4" >Recovery+resistance</text>
</svg></body></html>
